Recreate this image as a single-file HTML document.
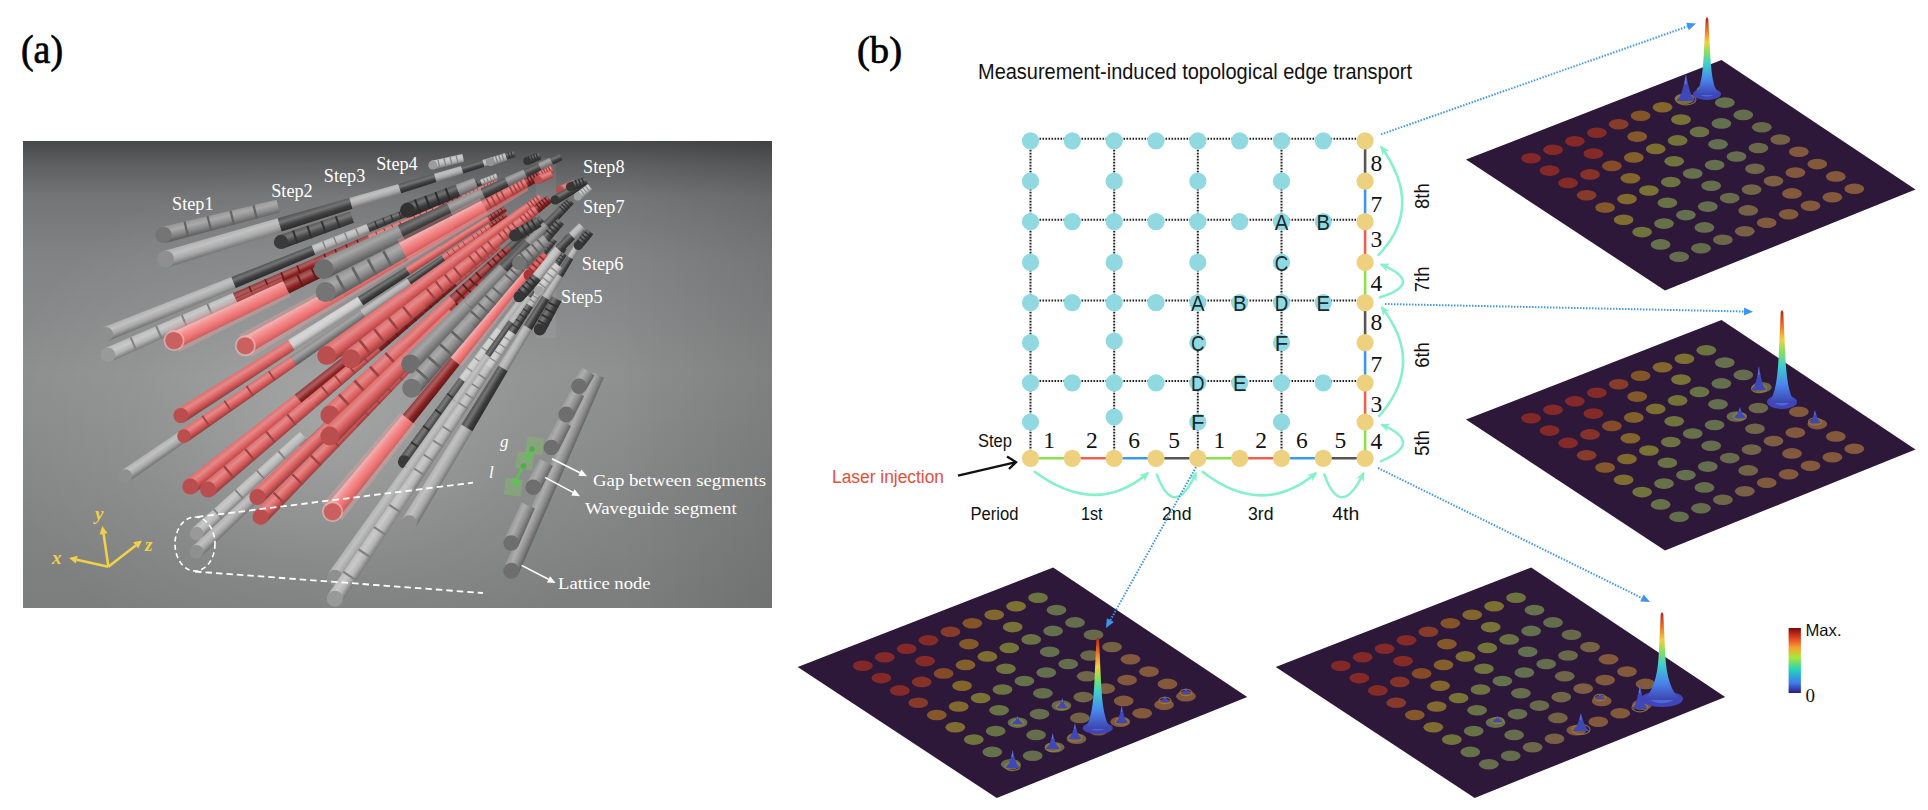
<!DOCTYPE html><html><head><meta charset="utf-8"><style>
html,body{margin:0;padding:0;background:#fff;width:1928px;height:810px;overflow:hidden}
svg{position:absolute;left:0;top:0}
.dot{stroke:#222;stroke-width:2;stroke-dasharray:1.6 1.4}
.lt{font-family:"Liberation Sans",sans-serif;font-size:21.5px;fill:#1a2a2e;text-anchor:middle}
.num{font-family:"Liberation Serif",serif;font-size:23.5px;fill:#111;text-anchor:middle}
.sans{font-family:"Liberation Sans",sans-serif}
.serif{font-family:"Liberation Serif",serif}
</style></head><body>
<svg width="1928" height="810" viewBox="0 0 1928 810">
<text x="21" y="63" class="serif" font-size="39" fill="#000" stroke="#000" stroke-width="0.7" textLength="42" lengthAdjust="spacingAndGlyphs">(a)</text>
<text x="857" y="63" class="serif" font-size="38" fill="#000" stroke="#000" stroke-width="0.7" textLength="45" lengthAdjust="spacingAndGlyphs">(b)</text>
<defs><linearGradient id="pg" x1="0" y1="0" x2="0" y2="1"><stop offset="0" stop-color="#47484a"/><stop offset="0.05" stop-color="#5e5f60"/><stop offset="0.12" stop-color="#747576"/><stop offset="0.25" stop-color="#828384"/><stop offset="0.5" stop-color="#8d8e8e"/><stop offset="1" stop-color="#7c7d7d"/></linearGradient></defs>
<rect x="23" y="141" width="749" height="467" fill="url(#pg)"/>
<defs><radialGradient id="spot" cx="330" cy="420" r="330" gradientUnits="userSpaceOnUse" gradientTransform="translate(330 420) scale(1 0.8) translate(-330 -420)"><stop offset="0" stop-color="#ffffff" stop-opacity="0.22"/><stop offset="0.6" stop-color="#ffffff" stop-opacity="0.06"/><stop offset="1" stop-color="#ffffff" stop-opacity="0"/></radialGradient><linearGradient id="rdark" x1="0" y1="0" x2="1" y2="0"><stop offset="0.8" stop-color="#000" stop-opacity="0"/><stop offset="1" stop-color="#000" stop-opacity="0.1"/></linearGradient></defs>
<rect x="23" y="141" width="749" height="467" fill="url(#spot)"/>
<rect x="23" y="141" width="749" height="467" fill="url(#rdark)"/>
<svg x="23" y="141" width="749" height="467" viewBox="23 141 749 467">
<rect x="536" y="158" width="20" height="180" fill="#ffffff" opacity="0.06"/>
<linearGradient id="c1" gradientUnits="userSpaceOnUse" x1="429.2" y1="417.8" x2="438.6" y2="424.6"><stop offset="0" stop-color="#5b5b5b"/><stop offset="0.3" stop-color="#797979"/><stop offset="0.65" stop-color="#454545"/><stop offset="1" stop-color="#303030"/></linearGradient>
<polygon points="399.1,458.0 459.2,377.6 467.6,383.7 409.7,465.6" fill="url(#c1)"/>
<line x1="411.1" y1="441.9" x2="421.2" y2="449.2" stroke="#313131" stroke-width="1.8"/>
<line x1="423.2" y1="425.8" x2="432.8" y2="432.8" stroke="#313131" stroke-width="1.8"/>
<line x1="435.2" y1="409.7" x2="444.4" y2="416.5" stroke="#313131" stroke-width="1.8"/>
<line x1="447.2" y1="393.6" x2="456.0" y2="400.1" stroke="#313131" stroke-width="1.8"/>
<linearGradient id="c2" gradientUnits="userSpaceOnUse" x1="478.0" y1="352.4" x2="485.7" y2="358.1"><stop offset="0" stop-color="#cbcbcb"/><stop offset="0.3" stop-color="#d4d4d4"/><stop offset="0.65" stop-color="#c4c4c4"/><stop offset="1" stop-color="#898989"/></linearGradient>
<polygon points="459.2,377.6 496.7,327.3 503.8,332.4 467.6,383.7" fill="url(#c2)"/>
<line x1="466.7" y1="367.5" x2="474.8" y2="373.4" stroke="#8d8d8d" stroke-width="1.4"/>
<line x1="474.2" y1="357.5" x2="482.1" y2="363.2" stroke="#8d8d8d" stroke-width="1.4"/>
<line x1="481.7" y1="347.4" x2="489.3" y2="352.9" stroke="#8d8d8d" stroke-width="1.4"/>
<line x1="489.2" y1="337.4" x2="496.5" y2="342.7" stroke="#8d8d8d" stroke-width="1.4"/>
<linearGradient id="c3" gradientUnits="userSpaceOnUse" x1="509.6" y1="310.1" x2="516.1" y2="314.9"><stop offset="0" stop-color="#b3b3b3"/><stop offset="0.3" stop-color="#c1c1c1"/><stop offset="0.65" stop-color="#a9a9a9"/><stop offset="1" stop-color="#767676"/></linearGradient>
<polygon points="496.7,327.3 522.4,292.9 528.5,297.4 503.8,332.4" fill="url(#c3)"/>
<linearGradient id="c4" gradientUnits="userSpaceOnUse" x1="531.8" y1="280.4" x2="537.5" y2="284.6"><stop offset="0" stop-color="#565656"/><stop offset="0.3" stop-color="#747474"/><stop offset="0.65" stop-color="#3f3f3f"/><stop offset="1" stop-color="#2c2c2c"/></linearGradient>
<polygon points="522.4,292.9 541.1,268.0 546.5,271.9 528.5,297.4" fill="url(#c4)"/>
<linearGradient id="c5" gradientUnits="userSpaceOnUse" x1="548.2" y1="258.5" x2="553.3" y2="262.2"><stop offset="0" stop-color="#b3b3b3"/><stop offset="0.3" stop-color="#c1c1c1"/><stop offset="0.65" stop-color="#a9a9a9"/><stop offset="1" stop-color="#767676"/></linearGradient>
<polygon points="541.1,268.0 555.3,249.0 560.2,252.5 546.5,271.9" fill="url(#c5)"/>
<linearGradient id="c6" gradientUnits="userSpaceOnUse" x1="560.9" y1="241.5" x2="565.5" y2="244.9"><stop offset="0" stop-color="#5b5b5b"/><stop offset="0.3" stop-color="#797979"/><stop offset="0.65" stop-color="#454545"/><stop offset="1" stop-color="#303030"/></linearGradient>
<polygon points="555.3,249.0 566.5,234.1 570.9,237.2 560.2,252.5" fill="url(#c6)"/>
<line x1="557.6" y1="246.0" x2="562.3" y2="249.4" stroke="#313131" stroke-width="1.0"/>
<line x1="559.8" y1="243.0" x2="564.5" y2="246.4" stroke="#313131" stroke-width="1.0"/>
<line x1="562.1" y1="240.0" x2="566.6" y2="243.3" stroke="#313131" stroke-width="1.0"/>
<line x1="564.3" y1="237.0" x2="568.8" y2="240.3" stroke="#313131" stroke-width="1.0"/>
<circle cx="404.4" cy="461.8" r="6.5" fill="#3a3a3a"/>
<linearGradient id="c7" gradientUnits="userSpaceOnUse" x1="183.5" y1="428.7" x2="190.4" y2="438.8"><stop offset="0" stop-color="#b3b3b3"/><stop offset="0.3" stop-color="#c1c1c1"/><stop offset="0.65" stop-color="#a9a9a9"/><stop offset="1" stop-color="#767676"/></linearGradient>
<polygon points="121.4,470.4 245.5,387.0 251.7,396.0 129.0,481.6" fill="url(#c7)"/>
<linearGradient id="c8" gradientUnits="userSpaceOnUse" x1="284.4" y1="361.0" x2="290.0" y2="369.3"><stop offset="0" stop-color="#993c3c"/><stop offset="0.3" stop-color="#ac5f5f"/><stop offset="0.65" stop-color="#8c2222"/><stop offset="1" stop-color="#621717"/></linearGradient>
<polygon points="245.5,387.0 323.2,335.0 328.3,342.5 251.7,396.0" fill="url(#c8)"/>
<linearGradient id="c9" gradientUnits="userSpaceOnUse" x1="349.7" y1="317.2" x2="354.5" y2="324.2"><stop offset="0" stop-color="#993c3c"/><stop offset="0.3" stop-color="#ac5f5f"/><stop offset="0.65" stop-color="#8c2222"/><stop offset="1" stop-color="#621717"/></linearGradient>
<polygon points="323.2,335.0 376.3,299.4 380.8,305.9 328.3,342.5" fill="url(#c9)"/>
<linearGradient id="c10" gradientUnits="userSpaceOnUse" x1="395.6" y1="286.4" x2="399.8" y2="292.6"><stop offset="0" stop-color="#993c3c"/><stop offset="0.3" stop-color="#ac5f5f"/><stop offset="0.65" stop-color="#8c2222"/><stop offset="1" stop-color="#621717"/></linearGradient>
<polygon points="376.3,299.4 414.9,273.5 418.9,279.2 380.8,305.9" fill="url(#c10)"/>
<circle cx="125.2" cy="476.0" r="6.8" fill="#8f8f8f"/>
<linearGradient id="c11" gradientUnits="userSpaceOnUse" x1="235.5" y1="393.4" x2="242.4" y2="403.5"><stop offset="0" stop-color="#df6f6f"/><stop offset="0.3" stop-color="#e58989"/><stop offset="0.65" stop-color="#db5c5c"/><stop offset="1" stop-color="#994040"/></linearGradient>
<polygon points="180.2,430.5 290.8,356.4 296.9,365.3 187.8,441.7" fill="url(#c11)"/>
<line x1="202.3" y1="415.7" x2="209.7" y2="426.4" stroke="#9d4242" stroke-width="1.8"/>
<line x1="224.4" y1="400.8" x2="231.5" y2="411.2" stroke="#9d4242" stroke-width="1.8"/>
<line x1="246.5" y1="386.0" x2="253.3" y2="395.9" stroke="#9d4242" stroke-width="1.8"/>
<line x1="268.6" y1="371.2" x2="275.1" y2="380.6" stroke="#9d4242" stroke-width="1.8"/>
<linearGradient id="c12" gradientUnits="userSpaceOnUse" x1="325.3" y1="333.2" x2="331.0" y2="341.5"><stop offset="0" stop-color="#919191"/><stop offset="0.3" stop-color="#a5a5a5"/><stop offset="0.65" stop-color="#828282"/><stop offset="1" stop-color="#5b5b5b"/></linearGradient>
<polygon points="290.8,356.4 359.9,310.1 365.1,317.6 296.9,365.3" fill="url(#c12)"/>
<linearGradient id="c13" gradientUnits="userSpaceOnUse" x1="383.6" y1="294.2" x2="388.4" y2="301.2"><stop offset="0" stop-color="#b3b3b3"/><stop offset="0.3" stop-color="#c1c1c1"/><stop offset="0.65" stop-color="#a9a9a9"/><stop offset="1" stop-color="#767676"/></linearGradient>
<polygon points="359.9,310.1 407.2,278.4 411.7,284.9 365.1,317.6" fill="url(#c13)"/>
<linearGradient id="c14" gradientUnits="userSpaceOnUse" x1="424.5" y1="266.9" x2="428.7" y2="273.0"><stop offset="0" stop-color="#565656"/><stop offset="0.3" stop-color="#747474"/><stop offset="0.65" stop-color="#3f3f3f"/><stop offset="1" stop-color="#2c2c2c"/></linearGradient>
<polygon points="407.2,278.4 441.7,255.4 445.6,261.1 411.7,284.9" fill="url(#c14)"/>
<linearGradient id="c15" gradientUnits="userSpaceOnUse" x1="454.8" y1="246.6" x2="458.5" y2="252.1"><stop offset="0" stop-color="#df6f6f"/><stop offset="0.3" stop-color="#e58989"/><stop offset="0.65" stop-color="#db5c5c"/><stop offset="1" stop-color="#994040"/></linearGradient>
<polygon points="441.7,255.4 467.8,237.9 471.4,243.0 445.6,261.1" fill="url(#c15)"/>
<line x1="446.9" y1="251.9" x2="450.8" y2="257.5" stroke="#9d4242" stroke-width="1.0"/>
<line x1="452.1" y1="248.4" x2="455.9" y2="253.9" stroke="#9d4242" stroke-width="1.0"/>
<line x1="457.4" y1="244.9" x2="461.1" y2="250.2" stroke="#9d4242" stroke-width="1.0"/>
<line x1="462.6" y1="241.4" x2="466.2" y2="246.6" stroke="#9d4242" stroke-width="1.0"/>
<linearGradient id="c16" gradientUnits="userSpaceOnUse" x1="478.1" y1="231.0" x2="481.5" y2="235.9"><stop offset="0" stop-color="#df6f6f"/><stop offset="0.3" stop-color="#e58989"/><stop offset="0.65" stop-color="#db5c5c"/><stop offset="1" stop-color="#994040"/></linearGradient>
<polygon points="467.8,237.9 488.4,224.1 491.6,228.8 471.4,243.0" fill="url(#c16)"/>
<line x1="471.9" y1="235.1" x2="475.4" y2="240.2" stroke="#9d4242" stroke-width="1.0"/>
<line x1="476.1" y1="232.4" x2="479.5" y2="237.3" stroke="#9d4242" stroke-width="1.0"/>
<line x1="480.2" y1="229.6" x2="483.5" y2="234.5" stroke="#9d4242" stroke-width="1.0"/>
<line x1="484.3" y1="226.9" x2="487.6" y2="231.6" stroke="#9d4242" stroke-width="1.0"/>
<linearGradient id="c17" gradientUnits="userSpaceOnUse" x1="496.7" y1="218.6" x2="499.8" y2="223.1"><stop offset="0" stop-color="#993c3c"/><stop offset="0.3" stop-color="#ac5f5f"/><stop offset="0.65" stop-color="#8c2222"/><stop offset="1" stop-color="#621717"/></linearGradient>
<polygon points="488.4,224.1 505.0,213.0 507.9,217.3 491.6,228.8" fill="url(#c17)"/>
<line x1="491.7" y1="221.9" x2="494.9" y2="226.5" stroke="#641818" stroke-width="1.0"/>
<line x1="495.0" y1="219.7" x2="498.1" y2="224.2" stroke="#641818" stroke-width="1.0"/>
<line x1="498.3" y1="217.5" x2="501.4" y2="221.9" stroke="#641818" stroke-width="1.0"/>
<line x1="501.7" y1="215.3" x2="504.7" y2="219.6" stroke="#641818" stroke-width="1.0"/>
<circle cx="184.0" cy="436.1" r="6.8" fill="#ba4e4e"/>
<linearGradient id="c18" gradientUnits="userSpaceOnUse" x1="245.9" y1="480.2" x2="254.2" y2="489.2"><stop offset="0" stop-color="#bdbdbd"/><stop offset="0.3" stop-color="#c9c9c9"/><stop offset="0.65" stop-color="#b4b4b4"/><stop offset="1" stop-color="#7d7d7d"/></linearGradient>
<polygon points="192.0,528.6 299.9,431.8 307.2,439.9 201.2,538.6" fill="url(#c18)"/>
<line x1="213.6" y1="509.2" x2="222.4" y2="518.9" stroke="#818181" stroke-width="1.8"/>
<line x1="235.2" y1="489.9" x2="243.6" y2="499.1" stroke="#818181" stroke-width="1.8"/>
<line x1="256.7" y1="470.5" x2="264.8" y2="479.4" stroke="#818181" stroke-width="1.8"/>
<line x1="278.3" y1="451.2" x2="286.0" y2="459.6" stroke="#818181" stroke-width="1.8"/>
<circle cx="196.6" cy="533.6" r="6.8" fill="#999999"/>
<linearGradient id="c19" gradientUnits="userSpaceOnUse" x1="245.8" y1="496.4" x2="254.3" y2="505.3"><stop offset="0" stop-color="#b3b3b3"/><stop offset="0.3" stop-color="#c1c1c1"/><stop offset="0.65" stop-color="#a9a9a9"/><stop offset="1" stop-color="#767676"/></linearGradient>
<polygon points="191.9,546.9 299.8,445.9 307.3,453.8 201.3,556.7" fill="url(#c19)"/>
<linearGradient id="c20" gradientUnits="userSpaceOnUse" x1="333.5" y1="414.4" x2="340.4" y2="421.6"><stop offset="0" stop-color="#565656"/><stop offset="0.3" stop-color="#747474"/><stop offset="0.65" stop-color="#3f3f3f"/><stop offset="1" stop-color="#2c2c2c"/></linearGradient>
<polygon points="299.8,445.9 367.2,382.8 373.5,389.4 307.3,453.8" fill="url(#c20)"/>
<linearGradient id="c21" gradientUnits="userSpaceOnUse" x1="390.3" y1="361.2" x2="396.2" y2="367.4"><stop offset="0" stop-color="#b3b3b3"/><stop offset="0.3" stop-color="#c1c1c1"/><stop offset="0.65" stop-color="#a9a9a9"/><stop offset="1" stop-color="#767676"/></linearGradient>
<polygon points="367.2,382.8 413.4,339.7 418.8,345.4 373.5,389.4" fill="url(#c21)"/>
<linearGradient id="c22" gradientUnits="userSpaceOnUse" x1="430.2" y1="324.0" x2="435.3" y2="329.4"><stop offset="0" stop-color="#565656"/><stop offset="0.3" stop-color="#747474"/><stop offset="0.65" stop-color="#3f3f3f"/><stop offset="1" stop-color="#2c2c2c"/></linearGradient>
<polygon points="413.4,339.7 447.0,308.3 451.8,313.3 418.8,345.4" fill="url(#c22)"/>
<linearGradient id="c23" gradientUnits="userSpaceOnUse" x1="459.7" y1="296.4" x2="464.3" y2="301.2"><stop offset="0" stop-color="#b3b3b3"/><stop offset="0.3" stop-color="#c1c1c1"/><stop offset="0.65" stop-color="#a9a9a9"/><stop offset="1" stop-color="#767676"/></linearGradient>
<polygon points="447.0,308.3 472.5,284.5 476.8,289.0 451.8,313.3" fill="url(#c23)"/>
<linearGradient id="c24" gradientUnits="userSpaceOnUse" x1="482.5" y1="275.1" x2="486.6" y2="279.4"><stop offset="0" stop-color="#565656"/><stop offset="0.3" stop-color="#747474"/><stop offset="0.65" stop-color="#3f3f3f"/><stop offset="1" stop-color="#2c2c2c"/></linearGradient>
<polygon points="472.5,284.5 492.5,265.7 496.5,269.8 476.8,289.0" fill="url(#c24)"/>
<linearGradient id="c25" gradientUnits="userSpaceOnUse" x1="500.6" y1="258.2" x2="504.4" y2="262.1"><stop offset="0" stop-color="#b3b3b3"/><stop offset="0.3" stop-color="#c1c1c1"/><stop offset="0.65" stop-color="#a9a9a9"/><stop offset="1" stop-color="#767676"/></linearGradient>
<polygon points="492.5,265.7 508.7,250.6 512.3,254.4 496.5,269.8" fill="url(#c25)"/>
<circle cx="196.6" cy="551.8" r="6.8" fill="#8f8f8f"/>
<linearGradient id="c26" gradientUnits="userSpaceOnUse" x1="167.2" y1="302.3" x2="172.1" y2="314.5"><stop offset="0" stop-color="#b3b3b3"/><stop offset="0.3" stop-color="#c1c1c1"/><stop offset="0.65" stop-color="#a9a9a9"/><stop offset="1" stop-color="#767676"/></linearGradient>
<polygon points="103.0,327.5 231.4,277.1 235.8,288.0 108.4,341.1" fill="url(#c26)"/>
<linearGradient id="c27" gradientUnits="userSpaceOnUse" x1="271.6" y1="261.4" x2="275.6" y2="271.3"><stop offset="0" stop-color="#565656"/><stop offset="0.3" stop-color="#747474"/><stop offset="0.65" stop-color="#3f3f3f"/><stop offset="1" stop-color="#2c2c2c"/></linearGradient>
<polygon points="231.4,277.1 311.7,245.6 315.4,254.7 235.8,288.0" fill="url(#c27)"/>
<linearGradient id="c28" gradientUnits="userSpaceOnUse" x1="339.2" y1="234.9" x2="342.6" y2="243.3"><stop offset="0" stop-color="#bdbdbd"/><stop offset="0.3" stop-color="#c9c9c9"/><stop offset="0.65" stop-color="#b4b4b4"/><stop offset="1" stop-color="#7d7d7d"/></linearGradient>
<polygon points="311.7,245.6 366.7,224.1 369.9,232.0 315.4,254.7" fill="url(#c28)"/>
<line x1="322.7" y1="241.3" x2="326.3" y2="250.2" stroke="#818181" stroke-width="1.4"/>
<line x1="333.7" y1="237.0" x2="337.2" y2="245.6" stroke="#818181" stroke-width="1.4"/>
<line x1="344.7" y1="232.7" x2="348.1" y2="241.1" stroke="#818181" stroke-width="1.4"/>
<line x1="355.7" y1="228.4" x2="359.0" y2="236.5" stroke="#818181" stroke-width="1.4"/>
<linearGradient id="c29" gradientUnits="userSpaceOnUse" x1="386.7" y1="216.3" x2="389.6" y2="223.7"><stop offset="0" stop-color="#5b5b5b"/><stop offset="0.3" stop-color="#797979"/><stop offset="0.65" stop-color="#454545"/><stop offset="1" stop-color="#303030"/></linearGradient>
<polygon points="366.7,224.1 406.6,208.5 409.4,215.4 369.9,232.0" fill="url(#c29)"/>
<line x1="374.7" y1="221.0" x2="377.8" y2="228.7" stroke="#313131" stroke-width="1.2"/>
<line x1="382.7" y1="217.9" x2="385.7" y2="225.4" stroke="#313131" stroke-width="1.2"/>
<line x1="390.7" y1="214.7" x2="393.6" y2="222.0" stroke="#313131" stroke-width="1.2"/>
<line x1="398.7" y1="211.6" x2="401.5" y2="218.7" stroke="#313131" stroke-width="1.2"/>
<linearGradient id="c30" gradientUnits="userSpaceOnUse" x1="421.8" y1="202.6" x2="424.5" y2="209.1"><stop offset="0" stop-color="#5b5b5b"/><stop offset="0.3" stop-color="#797979"/><stop offset="0.65" stop-color="#454545"/><stop offset="1" stop-color="#303030"/></linearGradient>
<polygon points="406.6,208.5 437.0,196.6 439.5,202.8 409.4,215.4" fill="url(#c30)"/>
<line x1="412.7" y1="206.1" x2="415.5" y2="212.9" stroke="#313131" stroke-width="1.1"/>
<line x1="418.8" y1="203.7" x2="421.5" y2="210.4" stroke="#313131" stroke-width="1.1"/>
<line x1="424.9" y1="201.4" x2="427.5" y2="207.9" stroke="#313131" stroke-width="1.1"/>
<line x1="430.9" y1="199.0" x2="433.5" y2="205.3" stroke="#313131" stroke-width="1.1"/>
<linearGradient id="c31" gradientUnits="userSpaceOnUse" x1="449.0" y1="192.0" x2="451.4" y2="197.9"><stop offset="0" stop-color="#919191"/><stop offset="0.3" stop-color="#a5a5a5"/><stop offset="0.65" stop-color="#828282"/><stop offset="1" stop-color="#5b5b5b"/></linearGradient>
<polygon points="437.0,196.6 460.9,187.3 463.2,192.9 439.5,202.8" fill="url(#c31)"/>
<linearGradient id="c32" gradientUnits="userSpaceOnUse" x1="470.5" y1="183.5" x2="472.7" y2="188.9"><stop offset="0" stop-color="#5b5b5b"/><stop offset="0.3" stop-color="#797979"/><stop offset="0.65" stop-color="#454545"/><stop offset="1" stop-color="#303030"/></linearGradient>
<polygon points="460.9,187.3 480.1,179.8 482.2,184.9 463.2,192.9" fill="url(#c32)"/>
<line x1="464.7" y1="185.8" x2="467.0" y2="191.3" stroke="#313131" stroke-width="1.0"/>
<line x1="468.6" y1="184.3" x2="470.8" y2="189.7" stroke="#313131" stroke-width="1.0"/>
<line x1="472.4" y1="182.8" x2="474.6" y2="188.1" stroke="#313131" stroke-width="1.0"/>
<line x1="476.3" y1="181.3" x2="478.4" y2="186.5" stroke="#313131" stroke-width="1.0"/>
<linearGradient id="c33" gradientUnits="userSpaceOnUse" x1="488.1" y1="176.7" x2="490.1" y2="181.7"><stop offset="0" stop-color="#bdbdbd"/><stop offset="0.3" stop-color="#c9c9c9"/><stop offset="0.65" stop-color="#b4b4b4"/><stop offset="1" stop-color="#7d7d7d"/></linearGradient>
<polygon points="480.1,179.8 496.0,173.6 497.9,178.4 482.2,184.9" fill="url(#c33)"/>
<line x1="483.3" y1="178.5" x2="485.4" y2="183.6" stroke="#818181" stroke-width="1.0"/>
<line x1="486.5" y1="177.3" x2="488.5" y2="182.3" stroke="#818181" stroke-width="1.0"/>
<line x1="489.7" y1="176.1" x2="491.7" y2="181.0" stroke="#818181" stroke-width="1.0"/>
<line x1="492.8" y1="174.8" x2="494.8" y2="179.7" stroke="#818181" stroke-width="1.0"/>
<circle cx="105.7" cy="334.3" r="7.3" fill="#8f8f8f"/>
<linearGradient id="c34" gradientUnits="userSpaceOnUse" x1="169.0" y1="320.7" x2="174.4" y2="332.7"><stop offset="0" stop-color="#bdbdbd"/><stop offset="0.3" stop-color="#c9c9c9"/><stop offset="0.65" stop-color="#b4b4b4"/><stop offset="1" stop-color="#7d7d7d"/></linearGradient>
<polygon points="105.0,348.3 233.0,293.1 237.8,303.8 111.0,361.7" fill="url(#c34)"/>
<line x1="130.6" y1="337.3" x2="136.3" y2="350.1" stroke="#818181" stroke-width="2.0"/>
<line x1="156.2" y1="326.2" x2="161.7" y2="338.5" stroke="#818181" stroke-width="2.0"/>
<line x1="181.8" y1="315.2" x2="187.0" y2="326.9" stroke="#818181" stroke-width="2.0"/>
<line x1="207.4" y1="304.2" x2="212.4" y2="315.4" stroke="#818181" stroke-width="2.0"/>
<linearGradient id="c35" gradientUnits="userSpaceOnUse" x1="273.0" y1="275.9" x2="277.4" y2="285.7"><stop offset="0" stop-color="#993c3c"/><stop offset="0.3" stop-color="#ac5f5f"/><stop offset="0.65" stop-color="#8c2222"/><stop offset="1" stop-color="#621717"/></linearGradient>
<polygon points="233.0,293.1 313.0,258.7 317.0,267.6 237.8,303.8" fill="url(#c35)"/>
<line x1="249.0" y1="286.2" x2="253.6" y2="296.6" stroke="#641818" stroke-width="1.6"/>
<line x1="265.0" y1="279.3" x2="269.4" y2="289.3" stroke="#641818" stroke-width="1.6"/>
<line x1="281.0" y1="272.4" x2="285.3" y2="282.1" stroke="#641818" stroke-width="1.6"/>
<line x1="297.0" y1="265.5" x2="301.1" y2="274.8" stroke="#641818" stroke-width="1.6"/>
<linearGradient id="c36" gradientUnits="userSpaceOnUse" x1="340.4" y1="246.9" x2="344.1" y2="255.2"><stop offset="0" stop-color="#993c3c"/><stop offset="0.3" stop-color="#ac5f5f"/><stop offset="0.65" stop-color="#8c2222"/><stop offset="1" stop-color="#621717"/></linearGradient>
<polygon points="313.0,258.7 367.8,235.1 371.2,242.8 317.0,267.6" fill="url(#c36)"/>
<line x1="324.0" y1="253.9" x2="327.8" y2="262.6" stroke="#641818" stroke-width="1.4"/>
<line x1="334.9" y1="249.2" x2="338.7" y2="257.7" stroke="#641818" stroke-width="1.4"/>
<line x1="345.9" y1="244.5" x2="349.5" y2="252.7" stroke="#641818" stroke-width="1.4"/>
<line x1="356.8" y1="239.8" x2="360.3" y2="247.8" stroke="#641818" stroke-width="1.4"/>
<linearGradient id="c37" gradientUnits="userSpaceOnUse" x1="387.7" y1="226.5" x2="390.9" y2="233.8"><stop offset="0" stop-color="#df6f6f"/><stop offset="0.3" stop-color="#e58989"/><stop offset="0.65" stop-color="#db5c5c"/><stop offset="1" stop-color="#994040"/></linearGradient>
<polygon points="367.8,235.1 407.6,217.9 410.6,224.8 371.2,242.8" fill="url(#c37)"/>
<line x1="375.7" y1="231.7" x2="379.1" y2="239.2" stroke="#9d4242" stroke-width="1.2"/>
<line x1="383.7" y1="228.2" x2="387.0" y2="235.6" stroke="#9d4242" stroke-width="1.2"/>
<line x1="391.6" y1="224.8" x2="394.8" y2="232.0" stroke="#9d4242" stroke-width="1.2"/>
<line x1="399.6" y1="221.4" x2="402.7" y2="228.4" stroke="#9d4242" stroke-width="1.2"/>
<linearGradient id="c38" gradientUnits="userSpaceOnUse" x1="422.7" y1="211.4" x2="425.6" y2="217.9"><stop offset="0" stop-color="#df6f6f"/><stop offset="0.3" stop-color="#e58989"/><stop offset="0.65" stop-color="#db5c5c"/><stop offset="1" stop-color="#994040"/></linearGradient>
<polygon points="407.6,217.9 437.8,204.9 440.6,211.1 410.6,224.8" fill="url(#c38)"/>
<line x1="413.6" y1="215.3" x2="416.6" y2="222.0" stroke="#9d4242" stroke-width="1.1"/>
<line x1="419.7" y1="212.7" x2="422.6" y2="219.3" stroke="#9d4242" stroke-width="1.1"/>
<line x1="425.7" y1="210.1" x2="428.6" y2="216.5" stroke="#9d4242" stroke-width="1.1"/>
<line x1="431.8" y1="207.5" x2="434.6" y2="213.8" stroke="#9d4242" stroke-width="1.1"/>
<linearGradient id="c39" gradientUnits="userSpaceOnUse" x1="449.7" y1="199.8" x2="452.3" y2="205.7"><stop offset="0" stop-color="#993c3c"/><stop offset="0.3" stop-color="#ac5f5f"/><stop offset="0.65" stop-color="#8c2222"/><stop offset="1" stop-color="#621717"/></linearGradient>
<polygon points="437.8,204.9 461.6,194.7 464.1,200.3 440.6,211.1" fill="url(#c39)"/>
<line x1="442.6" y1="202.9" x2="445.3" y2="208.9" stroke="#641818" stroke-width="1.0"/>
<line x1="447.4" y1="200.9" x2="450.0" y2="206.7" stroke="#641818" stroke-width="1.0"/>
<line x1="452.1" y1="198.8" x2="454.7" y2="204.6" stroke="#641818" stroke-width="1.0"/>
<line x1="456.9" y1="196.8" x2="459.4" y2="202.4" stroke="#641818" stroke-width="1.0"/>
<linearGradient id="c40" gradientUnits="userSpaceOnUse" x1="471.2" y1="190.6" x2="473.6" y2="195.9"><stop offset="0" stop-color="#df6f6f"/><stop offset="0.3" stop-color="#e58989"/><stop offset="0.65" stop-color="#db5c5c"/><stop offset="1" stop-color="#994040"/></linearGradient>
<polygon points="461.6,194.7 480.8,186.5 483.1,191.6 464.1,200.3" fill="url(#c40)"/>
<line x1="465.5" y1="193.1" x2="467.9" y2="198.5" stroke="#9d4242" stroke-width="1.0"/>
<line x1="469.3" y1="191.4" x2="471.7" y2="196.8" stroke="#9d4242" stroke-width="1.0"/>
<line x1="473.1" y1="189.8" x2="475.5" y2="195.1" stroke="#9d4242" stroke-width="1.0"/>
<line x1="477.0" y1="188.1" x2="479.3" y2="193.3" stroke="#9d4242" stroke-width="1.0"/>
<linearGradient id="c41" gradientUnits="userSpaceOnUse" x1="488.7" y1="183.1" x2="490.9" y2="188.0"><stop offset="0" stop-color="#df6f6f"/><stop offset="0.3" stop-color="#e58989"/><stop offset="0.65" stop-color="#db5c5c"/><stop offset="1" stop-color="#994040"/></linearGradient>
<polygon points="480.8,186.5 496.6,179.7 498.7,184.4 483.1,191.6" fill="url(#c41)"/>
<line x1="484.0" y1="185.1" x2="486.2" y2="190.1" stroke="#9d4242" stroke-width="1.0"/>
<line x1="487.1" y1="183.8" x2="489.3" y2="188.7" stroke="#9d4242" stroke-width="1.0"/>
<line x1="490.3" y1="182.4" x2="492.4" y2="187.3" stroke="#9d4242" stroke-width="1.0"/>
<line x1="493.4" y1="181.1" x2="495.6" y2="185.8" stroke="#9d4242" stroke-width="1.0"/>
<circle cx="108.0" cy="355.0" r="7.3" fill="#999999"/>
<linearGradient id="c42" gradientUnits="userSpaceOnUse" x1="232.6" y1="374.6" x2="239.8" y2="386.0"><stop offset="0" stop-color="#df6f6f"/><stop offset="0.3" stop-color="#e58989"/><stop offset="0.65" stop-color="#db5c5c"/><stop offset="1" stop-color="#994040"/></linearGradient>
<polygon points="176.9,409.3 288.2,340.0 294.7,350.1 184.9,421.9" fill="url(#c42)"/>
<linearGradient id="c43" gradientUnits="userSpaceOnUse" x1="323.0" y1="318.4" x2="329.0" y2="327.7"><stop offset="0" stop-color="#cecece"/><stop offset="0.3" stop-color="#d7d7d7"/><stop offset="0.65" stop-color="#c8c8c8"/><stop offset="1" stop-color="#8c8c8c"/></linearGradient>
<polygon points="288.2,340.0 357.9,296.8 363.3,305.2 294.7,350.1" fill="url(#c43)"/>
<linearGradient id="c44" gradientUnits="userSpaceOnUse" x1="381.7" y1="282.0" x2="386.7" y2="289.9"><stop offset="0" stop-color="#565656"/><stop offset="0.3" stop-color="#747474"/><stop offset="0.65" stop-color="#3f3f3f"/><stop offset="1" stop-color="#2c2c2c"/></linearGradient>
<polygon points="357.9,296.8 405.5,267.2 410.2,274.5 363.3,305.2" fill="url(#c44)"/>
<linearGradient id="c45" gradientUnits="userSpaceOnUse" x1="422.8" y1="256.4" x2="427.2" y2="263.3"><stop offset="0" stop-color="#df6f6f"/><stop offset="0.3" stop-color="#e58989"/><stop offset="0.65" stop-color="#db5c5c"/><stop offset="1" stop-color="#994040"/></linearGradient>
<polygon points="405.5,267.2 440.2,245.7 444.3,252.1 410.2,274.5" fill="url(#c45)"/>
<linearGradient id="c46" gradientUnits="userSpaceOnUse" x1="453.3" y1="237.5" x2="457.3" y2="243.6"><stop offset="0" stop-color="#df6f6f"/><stop offset="0.3" stop-color="#e58989"/><stop offset="0.65" stop-color="#db5c5c"/><stop offset="1" stop-color="#994040"/></linearGradient>
<polygon points="440.2,245.7 466.5,229.3 470.2,235.1 444.3,252.1" fill="url(#c46)"/>
<linearGradient id="c47" gradientUnits="userSpaceOnUse" x1="476.9" y1="222.9" x2="480.4" y2="228.5"><stop offset="0" stop-color="#df6f6f"/><stop offset="0.3" stop-color="#e58989"/><stop offset="0.65" stop-color="#db5c5c"/><stop offset="1" stop-color="#994040"/></linearGradient>
<polygon points="466.5,229.3 487.2,216.5 490.6,221.8 470.2,235.1" fill="url(#c47)"/>
<linearGradient id="c48" gradientUnits="userSpaceOnUse" x1="495.6" y1="211.3" x2="498.8" y2="216.4"><stop offset="0" stop-color="#993c3c"/><stop offset="0.3" stop-color="#ac5f5f"/><stop offset="0.65" stop-color="#8c2222"/><stop offset="1" stop-color="#621717"/></linearGradient>
<polygon points="487.2,216.5 503.9,206.2 507.0,211.0 490.6,221.8" fill="url(#c48)"/>
<line x1="490.6" y1="214.4" x2="493.9" y2="219.6" stroke="#641818" stroke-width="1.0"/>
<line x1="493.9" y1="212.4" x2="497.1" y2="217.5" stroke="#641818" stroke-width="1.0"/>
<line x1="497.2" y1="210.3" x2="500.4" y2="215.3" stroke="#641818" stroke-width="1.0"/>
<line x1="500.6" y1="208.2" x2="503.7" y2="213.2" stroke="#641818" stroke-width="1.0"/>
<circle cx="180.9" cy="415.6" r="7.5" fill="#ba4e4e"/>
<linearGradient id="c49" gradientUnits="userSpaceOnUse" x1="240.0" y1="437.4" x2="249.0" y2="448.7"><stop offset="0" stop-color="#df6f6f"/><stop offset="0.3" stop-color="#e58989"/><stop offset="0.65" stop-color="#db5c5c"/><stop offset="1" stop-color="#994040"/></linearGradient>
<polygon points="185.3,480.3 294.7,394.6 302.7,404.6 195.3,492.7" fill="url(#c49)"/>
<linearGradient id="c50" gradientUnits="userSpaceOnUse" x1="328.9" y1="367.9" x2="336.2" y2="377.1"><stop offset="0" stop-color="#993c3c"/><stop offset="0.3" stop-color="#ac5f5f"/><stop offset="0.65" stop-color="#8c2222"/><stop offset="1" stop-color="#621717"/></linearGradient>
<polygon points="294.7,394.6 363.1,341.1 369.8,349.5 302.7,404.6" fill="url(#c50)"/>
<linearGradient id="c51" gradientUnits="userSpaceOnUse" x1="386.5" y1="322.8" x2="392.7" y2="330.6"><stop offset="0" stop-color="#993c3c"/><stop offset="0.3" stop-color="#ac5f5f"/><stop offset="0.65" stop-color="#8c2222"/><stop offset="1" stop-color="#621717"/></linearGradient>
<polygon points="363.1,341.1 409.9,304.5 415.7,311.8 369.8,349.5" fill="url(#c51)"/>
<linearGradient id="c52" gradientUnits="userSpaceOnUse" x1="426.9" y1="291.2" x2="432.4" y2="298.1"><stop offset="0" stop-color="#df6f6f"/><stop offset="0.3" stop-color="#e58989"/><stop offset="0.65" stop-color="#db5c5c"/><stop offset="1" stop-color="#994040"/></linearGradient>
<polygon points="409.9,304.5 443.9,277.9 449.1,284.3 415.7,311.8" fill="url(#c52)"/>
<linearGradient id="c53" gradientUnits="userSpaceOnUse" x1="456.9" y1="267.8" x2="461.7" y2="273.9"><stop offset="0" stop-color="#df6f6f"/><stop offset="0.3" stop-color="#e58989"/><stop offset="0.65" stop-color="#db5c5c"/><stop offset="1" stop-color="#994040"/></linearGradient>
<polygon points="443.9,277.9 469.8,257.7 474.4,263.5 449.1,284.3" fill="url(#c53)"/>
<linearGradient id="c54" gradientUnits="userSpaceOnUse" x1="480.0" y1="249.8" x2="484.4" y2="255.3"><stop offset="0" stop-color="#df6f6f"/><stop offset="0.3" stop-color="#e58989"/><stop offset="0.65" stop-color="#db5c5c"/><stop offset="1" stop-color="#994040"/></linearGradient>
<polygon points="469.8,257.7 490.2,241.9 494.3,247.1 474.4,263.5" fill="url(#c54)"/>
<line x1="473.9" y1="254.6" x2="478.4" y2="260.2" stroke="#9d4242" stroke-width="1.1"/>
<line x1="478.0" y1="251.4" x2="482.4" y2="256.9" stroke="#9d4242" stroke-width="1.1"/>
<line x1="482.0" y1="248.2" x2="486.4" y2="253.6" stroke="#9d4242" stroke-width="1.1"/>
<line x1="486.1" y1="245.0" x2="490.4" y2="250.3" stroke="#9d4242" stroke-width="1.1"/>
<circle cx="190.3" cy="486.5" r="8.0" fill="#ba4e4e"/>
<linearGradient id="c55" gradientUnits="userSpaceOnUse" x1="255.6" y1="440.3" x2="264.9" y2="451.3"><stop offset="0" stop-color="#df6f6f"/><stop offset="0.3" stop-color="#e58989"/><stop offset="0.65" stop-color="#db5c5c"/><stop offset="1" stop-color="#994040"/></linearGradient>
<polygon points="203.0,483.5 308.3,397.1 316.5,406.9 213.2,495.7" fill="url(#c55)"/>
<line x1="224.0" y1="466.2" x2="233.9" y2="478.0" stroke="#9d4242" stroke-width="2.2"/>
<line x1="245.1" y1="448.9" x2="254.5" y2="460.2" stroke="#9d4242" stroke-width="2.2"/>
<line x1="266.1" y1="431.6" x2="275.2" y2="442.4" stroke="#9d4242" stroke-width="2.2"/>
<line x1="287.2" y1="414.4" x2="295.9" y2="424.7" stroke="#9d4242" stroke-width="2.2"/>
<linearGradient id="c56" gradientUnits="userSpaceOnUse" x1="341.2" y1="370.1" x2="348.8" y2="379.1"><stop offset="0" stop-color="#df6f6f"/><stop offset="0.3" stop-color="#e58989"/><stop offset="0.65" stop-color="#db5c5c"/><stop offset="1" stop-color="#994040"/></linearGradient>
<polygon points="308.3,397.1 374.1,343.1 381.0,351.4 316.5,406.9" fill="url(#c56)"/>
<line x1="321.4" y1="386.3" x2="329.4" y2="395.8" stroke="#9d4242" stroke-width="1.8"/>
<line x1="334.6" y1="375.5" x2="342.3" y2="384.7" stroke="#9d4242" stroke-width="1.8"/>
<line x1="347.8" y1="364.7" x2="355.2" y2="373.6" stroke="#9d4242" stroke-width="1.8"/>
<line x1="360.9" y1="353.9" x2="368.1" y2="362.5" stroke="#9d4242" stroke-width="1.8"/>
<linearGradient id="c57" gradientUnits="userSpaceOnUse" x1="396.6" y1="324.7" x2="403.1" y2="332.3"><stop offset="0" stop-color="#993c3c"/><stop offset="0.3" stop-color="#ac5f5f"/><stop offset="0.65" stop-color="#8c2222"/><stop offset="1" stop-color="#621717"/></linearGradient>
<polygon points="374.1,343.1 419.2,306.2 425.1,313.3 381.0,351.4" fill="url(#c57)"/>
<line x1="383.1" y1="335.8" x2="389.8" y2="343.8" stroke="#641818" stroke-width="1.5"/>
<line x1="392.1" y1="328.4" x2="398.7" y2="336.2" stroke="#641818" stroke-width="1.5"/>
<line x1="401.2" y1="321.0" x2="407.5" y2="328.5" stroke="#641818" stroke-width="1.5"/>
<line x1="410.2" y1="313.6" x2="416.3" y2="320.9" stroke="#641818" stroke-width="1.5"/>
<linearGradient id="c58" gradientUnits="userSpaceOnUse" x1="435.6" y1="292.8" x2="441.2" y2="299.5"><stop offset="0" stop-color="#993c3c"/><stop offset="0.3" stop-color="#ac5f5f"/><stop offset="0.65" stop-color="#8c2222"/><stop offset="1" stop-color="#621717"/></linearGradient>
<polygon points="419.2,306.2 452.0,279.4 457.2,285.7 425.1,313.3" fill="url(#c58)"/>
<line x1="425.7" y1="300.9" x2="431.6" y2="307.8" stroke="#641818" stroke-width="1.3"/>
<line x1="432.3" y1="295.5" x2="438.0" y2="302.3" stroke="#641818" stroke-width="1.3"/>
<line x1="438.8" y1="290.1" x2="444.4" y2="296.7" stroke="#641818" stroke-width="1.3"/>
<line x1="445.4" y1="284.8" x2="450.8" y2="291.2" stroke="#641818" stroke-width="1.3"/>
<linearGradient id="c59" gradientUnits="userSpaceOnUse" x1="464.4" y1="269.2" x2="469.4" y2="275.2"><stop offset="0" stop-color="#df6f6f"/><stop offset="0.3" stop-color="#e58989"/><stop offset="0.65" stop-color="#db5c5c"/><stop offset="1" stop-color="#994040"/></linearGradient>
<polygon points="452.0,279.4 476.9,259.0 481.6,264.7 457.2,285.7" fill="url(#c59)"/>
<line x1="456.9" y1="275.3" x2="462.1" y2="281.5" stroke="#9d4242" stroke-width="1.2"/>
<line x1="461.9" y1="271.3" x2="467.0" y2="277.3" stroke="#9d4242" stroke-width="1.2"/>
<line x1="466.9" y1="267.2" x2="471.9" y2="273.1" stroke="#9d4242" stroke-width="1.2"/>
<line x1="471.9" y1="263.1" x2="476.7" y2="268.9" stroke="#9d4242" stroke-width="1.2"/>
<linearGradient id="c60" gradientUnits="userSpaceOnUse" x1="486.7" y1="251.0" x2="491.2" y2="256.4"><stop offset="0" stop-color="#df6f6f"/><stop offset="0.3" stop-color="#e58989"/><stop offset="0.65" stop-color="#db5c5c"/><stop offset="1" stop-color="#994040"/></linearGradient>
<polygon points="476.9,259.0 496.5,243.0 500.8,248.1 481.6,264.7" fill="url(#c60)"/>
<line x1="480.8" y1="255.8" x2="485.4" y2="261.3" stroke="#9d4242" stroke-width="1.1"/>
<line x1="484.7" y1="252.6" x2="489.3" y2="258.0" stroke="#9d4242" stroke-width="1.1"/>
<line x1="488.6" y1="249.4" x2="493.1" y2="254.7" stroke="#9d4242" stroke-width="1.1"/>
<line x1="492.5" y1="246.2" x2="496.9" y2="251.4" stroke="#9d4242" stroke-width="1.1"/>
<circle cx="208.1" cy="489.6" r="8.0" fill="#ba4e4e"/>
<linearGradient id="c61" gradientUnits="userSpaceOnUse" x1="298.9" y1="447.2" x2="308.8" y2="457.5"><stop offset="0" stop-color="#df6f6f"/><stop offset="0.3" stop-color="#e58989"/><stop offset="0.65" stop-color="#db5c5c"/><stop offset="1" stop-color="#994040"/></linearGradient>
<polygon points="251.9,491.2 345.9,403.1 354.7,412.3 262.9,502.8" fill="url(#c61)"/>
<linearGradient id="c62" gradientUnits="userSpaceOnUse" x1="375.3" y1="375.5" x2="383.4" y2="384.0"><stop offset="0" stop-color="#df6f6f"/><stop offset="0.3" stop-color="#e58989"/><stop offset="0.65" stop-color="#db5c5c"/><stop offset="1" stop-color="#994040"/></linearGradient>
<polygon points="345.9,403.1 404.7,348.0 412.1,355.7 354.7,412.3" fill="url(#c62)"/>
<linearGradient id="c63" gradientUnits="userSpaceOnUse" x1="424.8" y1="329.2" x2="431.7" y2="336.4"><stop offset="0" stop-color="#df6f6f"/><stop offset="0.3" stop-color="#e58989"/><stop offset="0.65" stop-color="#db5c5c"/><stop offset="1" stop-color="#994040"/></linearGradient>
<polygon points="404.7,348.0 444.9,310.3 451.3,317.0 412.1,355.7" fill="url(#c63)"/>
<linearGradient id="c64" gradientUnits="userSpaceOnUse" x1="459.5" y1="296.7" x2="465.6" y2="302.9"><stop offset="0" stop-color="#565656"/><stop offset="0.3" stop-color="#747474"/><stop offset="0.65" stop-color="#3f3f3f"/><stop offset="1" stop-color="#2c2c2c"/></linearGradient>
<polygon points="444.9,310.3 474.2,283.0 479.8,288.9 451.3,317.0" fill="url(#c64)"/>
<linearGradient id="c65" gradientUnits="userSpaceOnUse" x1="485.3" y1="272.6" x2="490.7" y2="278.2"><stop offset="0" stop-color="#565656"/><stop offset="0.3" stop-color="#747474"/><stop offset="0.65" stop-color="#3f3f3f"/><stop offset="1" stop-color="#2c2c2c"/></linearGradient>
<polygon points="474.2,283.0 496.4,262.2 501.5,267.4 479.8,288.9" fill="url(#c65)"/>
<linearGradient id="c66" gradientUnits="userSpaceOnUse" x1="505.2" y1="254.0" x2="510.0" y2="259.0"><stop offset="0" stop-color="#b3b3b3"/><stop offset="0.3" stop-color="#c1c1c1"/><stop offset="0.65" stop-color="#a9a9a9"/><stop offset="1" stop-color="#767676"/></linearGradient>
<polygon points="496.4,262.2 513.9,245.8 518.5,250.6 501.5,267.4" fill="url(#c66)"/>
<circle cx="257.4" cy="497.0" r="8.0" fill="#ba4e4e"/>
<linearGradient id="c67" gradientUnits="userSpaceOnUse" x1="301.5" y1="464.9" x2="311.8" y2="475.0"><stop offset="0" stop-color="#df6f6f"/><stop offset="0.3" stop-color="#e58989"/><stop offset="0.65" stop-color="#db5c5c"/><stop offset="1" stop-color="#994040"/></linearGradient>
<polygon points="254.9,511.3 348.2,418.5 357.3,427.5 266.3,522.5" fill="url(#c67)"/>
<line x1="273.6" y1="492.7" x2="284.5" y2="503.5" stroke="#9d4242" stroke-width="2.2"/>
<line x1="292.2" y1="474.2" x2="302.7" y2="484.5" stroke="#9d4242" stroke-width="2.2"/>
<line x1="310.9" y1="455.6" x2="320.9" y2="465.5" stroke="#9d4242" stroke-width="2.2"/>
<line x1="329.5" y1="437.1" x2="339.1" y2="446.5" stroke="#9d4242" stroke-width="2.2"/>
<linearGradient id="c68" gradientUnits="userSpaceOnUse" x1="377.4" y1="389.5" x2="385.8" y2="397.8"><stop offset="0" stop-color="#df6f6f"/><stop offset="0.3" stop-color="#e58989"/><stop offset="0.65" stop-color="#db5c5c"/><stop offset="1" stop-color="#994040"/></linearGradient>
<polygon points="348.2,418.5 406.5,360.6 414.2,368.1 357.3,427.5" fill="url(#c68)"/>
<line x1="359.9" y1="406.9" x2="368.7" y2="415.6" stroke="#9d4242" stroke-width="1.8"/>
<line x1="371.5" y1="395.3" x2="380.1" y2="403.7" stroke="#9d4242" stroke-width="1.8"/>
<line x1="383.2" y1="383.7" x2="391.5" y2="391.8" stroke="#9d4242" stroke-width="1.8"/>
<line x1="394.9" y1="372.1" x2="402.8" y2="380.0" stroke="#9d4242" stroke-width="1.8"/>
<linearGradient id="c69" gradientUnits="userSpaceOnUse" x1="426.5" y1="340.7" x2="433.7" y2="347.7"><stop offset="0" stop-color="#df6f6f"/><stop offset="0.3" stop-color="#e58989"/><stop offset="0.65" stop-color="#db5c5c"/><stop offset="1" stop-color="#994040"/></linearGradient>
<polygon points="406.5,360.6 446.5,320.9 453.1,327.4 414.2,368.1" fill="url(#c69)"/>
<line x1="414.5" y1="352.6" x2="422.0" y2="359.9" stroke="#9d4242" stroke-width="1.5"/>
<line x1="422.5" y1="344.7" x2="429.8" y2="351.8" stroke="#9d4242" stroke-width="1.5"/>
<line x1="430.5" y1="336.8" x2="437.5" y2="343.7" stroke="#9d4242" stroke-width="1.5"/>
<line x1="438.5" y1="328.8" x2="445.3" y2="335.5" stroke="#9d4242" stroke-width="1.5"/>
<linearGradient id="c70" gradientUnits="userSpaceOnUse" x1="461.0" y1="306.5" x2="467.2" y2="312.6"><stop offset="0" stop-color="#565656"/><stop offset="0.3" stop-color="#747474"/><stop offset="0.65" stop-color="#3f3f3f"/><stop offset="1" stop-color="#2c2c2c"/></linearGradient>
<polygon points="446.5,320.9 475.5,292.1 481.4,297.8 453.1,327.4" fill="url(#c70)"/>
<linearGradient id="c71" gradientUnits="userSpaceOnUse" x1="486.6" y1="281.1" x2="492.1" y2="286.6"><stop offset="0" stop-color="#5b5b5b"/><stop offset="0.3" stop-color="#797979"/><stop offset="0.65" stop-color="#454545"/><stop offset="1" stop-color="#303030"/></linearGradient>
<polygon points="475.5,292.1 497.6,270.2 502.9,275.3 481.4,297.8" fill="url(#c71)"/>
<line x1="480.0" y1="287.7" x2="485.7" y2="293.3" stroke="#313131" stroke-width="1.2"/>
<line x1="484.4" y1="283.3" x2="490.0" y2="288.8" stroke="#313131" stroke-width="1.2"/>
<line x1="488.8" y1="278.9" x2="494.3" y2="284.3" stroke="#313131" stroke-width="1.2"/>
<line x1="493.2" y1="274.6" x2="498.6" y2="279.8" stroke="#313131" stroke-width="1.2"/>
<linearGradient id="c72" gradientUnits="userSpaceOnUse" x1="506.3" y1="261.6" x2="511.3" y2="266.5"><stop offset="0" stop-color="#b3b3b3"/><stop offset="0.3" stop-color="#c1c1c1"/><stop offset="0.65" stop-color="#a9a9a9"/><stop offset="1" stop-color="#767676"/></linearGradient>
<polygon points="497.6,270.2 515.0,253.0 519.7,257.7 502.9,275.3" fill="url(#c72)"/>
<circle cx="260.6" cy="516.9" r="8.0" fill="#ba4e4e"/>
<linearGradient id="c73" gradientUnits="userSpaceOnUse" x1="431.8" y1="471.9" x2="444.1" y2="479.3"><stop offset="0" stop-color="#b3b3b3"/><stop offset="0.3" stop-color="#c1c1c1"/><stop offset="0.65" stop-color="#a9a9a9"/><stop offset="1" stop-color="#767676"/></linearGradient>
<polygon points="402.2,519.1 461.5,424.6 472.4,431.2 415.8,527.5" fill="url(#c73)"/>
<linearGradient id="c74" gradientUnits="userSpaceOnUse" x1="480.0" y1="395.1" x2="490.1" y2="401.2"><stop offset="0" stop-color="#565656"/><stop offset="0.3" stop-color="#747474"/><stop offset="0.65" stop-color="#3f3f3f"/><stop offset="1" stop-color="#2c2c2c"/></linearGradient>
<polygon points="461.5,424.6 498.5,365.5 507.7,371.1 472.4,431.2" fill="url(#c74)"/>
<linearGradient id="c75" gradientUnits="userSpaceOnUse" x1="511.2" y1="345.3" x2="519.8" y2="350.5"><stop offset="0" stop-color="#b3b3b3"/><stop offset="0.3" stop-color="#c1c1c1"/><stop offset="0.65" stop-color="#a9a9a9"/><stop offset="1" stop-color="#767676"/></linearGradient>
<polygon points="498.5,365.5 523.9,325.1 531.9,329.9 507.7,371.1" fill="url(#c75)"/>
<linearGradient id="c76" gradientUnits="userSpaceOnUse" x1="533.2" y1="310.4" x2="540.6" y2="315.0"><stop offset="0" stop-color="#565656"/><stop offset="0.3" stop-color="#747474"/><stop offset="0.65" stop-color="#3f3f3f"/><stop offset="1" stop-color="#2c2c2c"/></linearGradient>
<polygon points="523.9,325.1 542.4,295.7 549.4,300.0 531.9,329.9" fill="url(#c76)"/>
<linearGradient id="c77" gradientUnits="userSpaceOnUse" x1="549.4" y1="284.6" x2="556.1" y2="288.6"><stop offset="0" stop-color="#b3b3b3"/><stop offset="0.3" stop-color="#c1c1c1"/><stop offset="0.65" stop-color="#a9a9a9"/><stop offset="1" stop-color="#767676"/></linearGradient>
<polygon points="542.4,295.7 556.5,273.4 562.7,277.2 549.4,300.0" fill="url(#c77)"/>
<linearGradient id="c78" gradientUnits="userSpaceOnUse" x1="562.0" y1="264.6" x2="568.0" y2="268.3"><stop offset="0" stop-color="#565656"/><stop offset="0.3" stop-color="#747474"/><stop offset="0.65" stop-color="#3f3f3f"/><stop offset="1" stop-color="#2c2c2c"/></linearGradient>
<polygon points="556.5,273.4 567.5,255.9 573.2,259.3 562.7,277.2" fill="url(#c78)"/>
<linearGradient id="c79" gradientUnits="userSpaceOnUse" x1="572.0" y1="248.8" x2="577.4" y2="252.1"><stop offset="0" stop-color="#b3b3b3"/><stop offset="0.3" stop-color="#c1c1c1"/><stop offset="0.65" stop-color="#a9a9a9"/><stop offset="1" stop-color="#767676"/></linearGradient>
<polygon points="567.5,255.9 576.4,241.7 581.6,244.9 573.2,259.3" fill="url(#c79)"/>
<linearGradient id="c80" gradientUnits="userSpaceOnUse" x1="580.1" y1="235.9" x2="585.1" y2="239.0"><stop offset="0" stop-color="#565656"/><stop offset="0.3" stop-color="#747474"/><stop offset="0.65" stop-color="#3f3f3f"/><stop offset="1" stop-color="#2c2c2c"/></linearGradient>
<polygon points="576.4,241.7 583.8,230.1 588.6,233.0 581.6,244.9" fill="url(#c80)"/>
<circle cx="409.0" cy="523.3" r="8.0" fill="#8f8f8f"/>
<linearGradient id="c81" gradientUnits="userSpaceOnUse" x1="366.4" y1="519.7" x2="378.2" y2="527.9"><stop offset="0" stop-color="#b3b3b3"/><stop offset="0.3" stop-color="#c1c1c1"/><stop offset="0.65" stop-color="#a9a9a9"/><stop offset="1" stop-color="#767676"/></linearGradient>
<polygon points="328.2,573.2 404.6,466.2 415.1,473.5 341.4,582.4" fill="url(#c81)"/>
<linearGradient id="c82" gradientUnits="userSpaceOnUse" x1="428.5" y1="432.8" x2="438.1" y2="439.5"><stop offset="0" stop-color="#b3b3b3"/><stop offset="0.3" stop-color="#c1c1c1"/><stop offset="0.65" stop-color="#a9a9a9"/><stop offset="1" stop-color="#767676"/></linearGradient>
<polygon points="404.6,466.2 452.3,399.3 461.2,405.4 415.1,473.5" fill="url(#c82)"/>
<linearGradient id="c83" gradientUnits="userSpaceOnUse" x1="468.7" y1="376.4" x2="476.9" y2="382.1"><stop offset="0" stop-color="#b3b3b3"/><stop offset="0.3" stop-color="#c1c1c1"/><stop offset="0.65" stop-color="#a9a9a9"/><stop offset="1" stop-color="#767676"/></linearGradient>
<polygon points="452.3,399.3 485.0,353.6 492.6,358.9 461.2,405.4" fill="url(#c83)"/>
<linearGradient id="c84" gradientUnits="userSpaceOnUse" x1="496.9" y1="336.9" x2="504.1" y2="341.9"><stop offset="0" stop-color="#565656"/><stop offset="0.3" stop-color="#747474"/><stop offset="0.65" stop-color="#3f3f3f"/><stop offset="1" stop-color="#2c2c2c"/></linearGradient>
<polygon points="485.0,353.6 508.8,320.3 515.5,325.0 492.6,358.9" fill="url(#c84)"/>
<linearGradient id="c85" gradientUnits="userSpaceOnUse" x1="517.9" y1="307.7" x2="524.2" y2="312.1"><stop offset="0" stop-color="#b3b3b3"/><stop offset="0.3" stop-color="#c1c1c1"/><stop offset="0.65" stop-color="#a9a9a9"/><stop offset="1" stop-color="#767676"/></linearGradient>
<polygon points="508.8,320.3 526.9,295.0 532.9,299.2 515.5,325.0" fill="url(#c85)"/>
<linearGradient id="c86" gradientUnits="userSpaceOnUse" x1="534.0" y1="285.1" x2="539.8" y2="289.1"><stop offset="0" stop-color="#565656"/><stop offset="0.3" stop-color="#747474"/><stop offset="0.65" stop-color="#3f3f3f"/><stop offset="1" stop-color="#2c2c2c"/></linearGradient>
<polygon points="526.9,295.0 541.1,275.2 546.6,279.0 532.9,299.2" fill="url(#c86)"/>
<linearGradient id="c87" gradientUnits="userSpaceOnUse" x1="546.9" y1="267.2" x2="552.1" y2="270.8"><stop offset="0" stop-color="#b3b3b3"/><stop offset="0.3" stop-color="#c1c1c1"/><stop offset="0.65" stop-color="#a9a9a9"/><stop offset="1" stop-color="#767676"/></linearGradient>
<polygon points="541.1,275.2 552.6,259.2 557.6,262.6 546.6,279.0" fill="url(#c87)"/>
<linearGradient id="c88" gradientUnits="userSpaceOnUse" x1="557.3" y1="252.6" x2="562.1" y2="255.9"><stop offset="0" stop-color="#5b5b5b"/><stop offset="0.3" stop-color="#797979"/><stop offset="0.65" stop-color="#454545"/><stop offset="1" stop-color="#303030"/></linearGradient>
<polygon points="552.6,259.2 562.0,246.0 566.7,249.2 557.6,262.6" fill="url(#c88)"/>
<line x1="554.5" y1="256.5" x2="559.4" y2="260.0" stroke="#313131" stroke-width="1.0"/>
<line x1="556.4" y1="253.9" x2="561.2" y2="257.3" stroke="#313131" stroke-width="1.0"/>
<line x1="558.3" y1="251.2" x2="563.0" y2="254.6" stroke="#313131" stroke-width="1.0"/>
<line x1="560.1" y1="248.6" x2="564.9" y2="251.9" stroke="#313131" stroke-width="1.0"/>
<circle cx="334.8" cy="577.8" r="8.0" fill="#8f8f8f"/>
<linearGradient id="c89" gradientUnits="userSpaceOnUse" x1="366.3" y1="538.3" x2="378.3" y2="546.3"><stop offset="0" stop-color="#bdbdbd"/><stop offset="0.3" stop-color="#c9c9c9"/><stop offset="0.65" stop-color="#b4b4b4"/><stop offset="1" stop-color="#7d7d7d"/></linearGradient>
<polygon points="328.1,594.3 404.5,482.4 415.2,489.5 341.5,603.1" fill="url(#c89)"/>
<line x1="343.4" y1="571.9" x2="356.2" y2="580.4" stroke="#818181" stroke-width="2.2"/>
<line x1="358.7" y1="549.5" x2="370.9" y2="557.7" stroke="#818181" stroke-width="2.2"/>
<line x1="374.0" y1="527.1" x2="385.7" y2="534.9" stroke="#818181" stroke-width="2.2"/>
<line x1="389.2" y1="504.8" x2="400.4" y2="512.2" stroke="#818181" stroke-width="2.2"/>
<linearGradient id="c90" gradientUnits="userSpaceOnUse" x1="428.4" y1="447.4" x2="438.2" y2="453.9"><stop offset="0" stop-color="#bdbdbd"/><stop offset="0.3" stop-color="#c9c9c9"/><stop offset="0.65" stop-color="#b4b4b4"/><stop offset="1" stop-color="#7d7d7d"/></linearGradient>
<polygon points="404.5,482.4 452.3,412.5 461.2,418.4 415.2,489.5" fill="url(#c90)"/>
<line x1="414.1" y1="468.4" x2="424.4" y2="475.3" stroke="#818181" stroke-width="1.8"/>
<line x1="423.6" y1="454.4" x2="433.6" y2="461.0" stroke="#818181" stroke-width="1.8"/>
<line x1="433.2" y1="440.4" x2="442.8" y2="446.8" stroke="#818181" stroke-width="1.8"/>
<line x1="442.7" y1="426.4" x2="452.0" y2="432.6" stroke="#818181" stroke-width="1.8"/>
<linearGradient id="c91" gradientUnits="userSpaceOnUse" x1="468.6" y1="388.6" x2="477.0" y2="394.1"><stop offset="0" stop-color="#bdbdbd"/><stop offset="0.3" stop-color="#c9c9c9"/><stop offset="0.65" stop-color="#b4b4b4"/><stop offset="1" stop-color="#7d7d7d"/></linearGradient>
<polygon points="452.3,412.5 485.0,364.6 492.7,369.8 461.2,418.4" fill="url(#c91)"/>
<line x1="458.8" y1="402.9" x2="467.5" y2="408.7" stroke="#818181" stroke-width="1.5"/>
<line x1="465.4" y1="393.3" x2="473.8" y2="399.0" stroke="#818181" stroke-width="1.5"/>
<line x1="471.9" y1="383.8" x2="480.1" y2="389.2" stroke="#818181" stroke-width="1.5"/>
<line x1="478.4" y1="374.2" x2="486.4" y2="379.5" stroke="#818181" stroke-width="1.5"/>
<linearGradient id="c92" gradientUnits="userSpaceOnUse" x1="496.9" y1="347.3" x2="504.1" y2="352.1"><stop offset="0" stop-color="#cbcbcb"/><stop offset="0.3" stop-color="#d4d4d4"/><stop offset="0.65" stop-color="#c4c4c4"/><stop offset="1" stop-color="#898989"/></linearGradient>
<polygon points="485.0,364.6 508.8,329.9 515.6,334.4 492.7,369.8" fill="url(#c92)"/>
<line x1="489.7" y1="357.7" x2="497.3" y2="362.7" stroke="#8d8d8d" stroke-width="1.3"/>
<line x1="494.5" y1="350.7" x2="501.9" y2="355.6" stroke="#8d8d8d" stroke-width="1.3"/>
<line x1="499.3" y1="343.8" x2="506.4" y2="348.6" stroke="#8d8d8d" stroke-width="1.3"/>
<line x1="504.0" y1="336.8" x2="511.0" y2="341.5" stroke="#8d8d8d" stroke-width="1.3"/>
<linearGradient id="c93" gradientUnits="userSpaceOnUse" x1="517.8" y1="316.7" x2="524.3" y2="321.0"><stop offset="0" stop-color="#5b5b5b"/><stop offset="0.3" stop-color="#797979"/><stop offset="0.65" stop-color="#454545"/><stop offset="1" stop-color="#303030"/></linearGradient>
<polygon points="508.8,329.9 526.9,303.4 533.0,307.5 515.6,334.4" fill="url(#c93)"/>
<line x1="512.4" y1="324.6" x2="519.1" y2="329.0" stroke="#313131" stroke-width="1.2"/>
<line x1="516.0" y1="319.3" x2="522.5" y2="323.6" stroke="#313131" stroke-width="1.2"/>
<line x1="519.6" y1="314.0" x2="526.0" y2="318.3" stroke="#313131" stroke-width="1.2"/>
<line x1="523.2" y1="308.7" x2="529.5" y2="312.9" stroke="#313131" stroke-width="1.2"/>
<linearGradient id="c94" gradientUnits="userSpaceOnUse" x1="534.0" y1="293.1" x2="539.8" y2="296.9"><stop offset="0" stop-color="#bdbdbd"/><stop offset="0.3" stop-color="#c9c9c9"/><stop offset="0.65" stop-color="#b4b4b4"/><stop offset="1" stop-color="#7d7d7d"/></linearGradient>
<polygon points="526.9,303.4 541.1,282.7 546.6,286.4 533.0,307.5" fill="url(#c94)"/>
<line x1="529.7" y1="299.3" x2="535.7" y2="303.3" stroke="#818181" stroke-width="1.1"/>
<line x1="532.6" y1="295.1" x2="538.4" y2="299.1" stroke="#818181" stroke-width="1.1"/>
<line x1="535.4" y1="291.0" x2="541.2" y2="294.8" stroke="#818181" stroke-width="1.1"/>
<line x1="538.2" y1="286.8" x2="543.9" y2="290.6" stroke="#818181" stroke-width="1.1"/>
<linearGradient id="c95" gradientUnits="userSpaceOnUse" x1="546.8" y1="274.3" x2="552.1" y2="277.9"><stop offset="0" stop-color="#cbcbcb"/><stop offset="0.3" stop-color="#d4d4d4"/><stop offset="0.65" stop-color="#c4c4c4"/><stop offset="1" stop-color="#898989"/></linearGradient>
<polygon points="541.1,282.7 552.6,266.0 557.6,269.3 546.6,286.4" fill="url(#c95)"/>
<line x1="543.4" y1="279.3" x2="548.8" y2="283.0" stroke="#8d8d8d" stroke-width="1.0"/>
<line x1="545.7" y1="276.0" x2="551.0" y2="279.6" stroke="#8d8d8d" stroke-width="1.0"/>
<line x1="548.0" y1="272.6" x2="553.2" y2="276.2" stroke="#8d8d8d" stroke-width="1.0"/>
<line x1="550.3" y1="269.3" x2="555.4" y2="272.7" stroke="#8d8d8d" stroke-width="1.0"/>
<linearGradient id="c96" gradientUnits="userSpaceOnUse" x1="557.3" y1="259.1" x2="562.2" y2="262.3"><stop offset="0" stop-color="#5b5b5b"/><stop offset="0.3" stop-color="#797979"/><stop offset="0.65" stop-color="#454545"/><stop offset="1" stop-color="#303030"/></linearGradient>
<polygon points="552.6,266.0 562.0,252.2 566.7,255.3 557.6,269.3" fill="url(#c96)"/>
<line x1="554.4" y1="263.2" x2="559.5" y2="266.5" stroke="#313131" stroke-width="1.0"/>
<line x1="556.3" y1="260.4" x2="561.3" y2="263.7" stroke="#313131" stroke-width="1.0"/>
<line x1="558.2" y1="257.7" x2="563.1" y2="260.9" stroke="#313131" stroke-width="1.0"/>
<line x1="560.1" y1="254.9" x2="564.9" y2="258.1" stroke="#313131" stroke-width="1.0"/>
<circle cx="334.8" cy="598.7" r="8.0" fill="#999999"/>
<linearGradient id="c97" gradientUnits="userSpaceOnUse" x1="219.0" y1="213.4" x2="222.6" y2="227.7"><stop offset="0" stop-color="#989898"/><stop offset="0.3" stop-color="#aaaaaa"/><stop offset="0.65" stop-color="#8a8a8a"/><stop offset="1" stop-color="#606060"/></linearGradient>
<polygon points="161.5,227.0 276.5,199.8 279.7,212.5 165.5,243.0" fill="url(#c97)"/>
<line x1="184.5" y1="221.6" x2="188.3" y2="236.9" stroke="#636363" stroke-width="2.2"/>
<line x1="207.5" y1="216.1" x2="211.2" y2="230.8" stroke="#636363" stroke-width="2.2"/>
<line x1="230.5" y1="210.7" x2="234.0" y2="224.7" stroke="#636363" stroke-width="2.2"/>
<line x1="253.5" y1="205.2" x2="256.8" y2="218.6" stroke="#636363" stroke-width="2.2"/>
<circle cx="163.5" cy="235.0" r="8.2" fill="#757575"/>
<linearGradient id="c98" gradientUnits="userSpaceOnUse" x1="220.4" y1="234.7" x2="224.9" y2="249.4"><stop offset="0" stop-color="#b3b3b3"/><stop offset="0.3" stop-color="#c1c1c1"/><stop offset="0.65" stop-color="#a9a9a9"/><stop offset="1" stop-color="#767676"/></linearGradient>
<polygon points="163.1,251.2 277.7,218.3 281.7,231.4 168.1,267.4" fill="url(#c98)"/>
<linearGradient id="c99" gradientUnits="userSpaceOnUse" x1="313.5" y1="208.1" x2="317.2" y2="220.1"><stop offset="0" stop-color="#565656"/><stop offset="0.3" stop-color="#747474"/><stop offset="0.65" stop-color="#3f3f3f"/><stop offset="1" stop-color="#2c2c2c"/></linearGradient>
<polygon points="277.7,218.3 349.4,197.9 352.6,208.8 281.7,231.4" fill="url(#c99)"/>
<linearGradient id="c100" gradientUnits="userSpaceOnUse" x1="373.9" y1="190.9" x2="376.9" y2="201.0"><stop offset="0" stop-color="#b3b3b3"/><stop offset="0.3" stop-color="#c1c1c1"/><stop offset="0.65" stop-color="#a9a9a9"/><stop offset="1" stop-color="#767676"/></linearGradient>
<polygon points="349.4,197.9 398.4,183.9 401.2,193.3 352.6,208.8" fill="url(#c100)"/>
<linearGradient id="c101" gradientUnits="userSpaceOnUse" x1="416.2" y1="178.8" x2="418.9" y2="187.7"><stop offset="0" stop-color="#565656"/><stop offset="0.3" stop-color="#747474"/><stop offset="0.65" stop-color="#3f3f3f"/><stop offset="1" stop-color="#2c2c2c"/></linearGradient>
<polygon points="398.4,183.9 434.0,173.7 436.5,182.0 401.2,193.3" fill="url(#c101)"/>
<linearGradient id="c102" gradientUnits="userSpaceOnUse" x1="447.6" y1="169.8" x2="449.9" y2="177.7"><stop offset="0" stop-color="#b3b3b3"/><stop offset="0.3" stop-color="#c1c1c1"/><stop offset="0.65" stop-color="#a9a9a9"/><stop offset="1" stop-color="#767676"/></linearGradient>
<polygon points="434.0,173.7 461.1,166.0 463.4,173.5 436.5,182.0" fill="url(#c102)"/>
<linearGradient id="c103" gradientUnits="userSpaceOnUse" x1="471.8" y1="163.0" x2="473.9" y2="170.1"><stop offset="0" stop-color="#565656"/><stop offset="0.3" stop-color="#747474"/><stop offset="0.65" stop-color="#3f3f3f"/><stop offset="1" stop-color="#2c2c2c"/></linearGradient>
<polygon points="461.1,166.0 482.4,159.9 484.5,166.7 463.4,173.5" fill="url(#c103)"/>
<linearGradient id="c104" gradientUnits="userSpaceOnUse" x1="491.0" y1="157.5" x2="493.0" y2="164.0"><stop offset="0" stop-color="#bdbdbd"/><stop offset="0.3" stop-color="#c9c9c9"/><stop offset="0.65" stop-color="#b4b4b4"/><stop offset="1" stop-color="#7d7d7d"/></linearGradient>
<polygon points="482.4,159.9 499.6,155.1 501.5,161.3 484.5,166.7" fill="url(#c104)"/>
<line x1="485.8" y1="159.0" x2="487.9" y2="165.6" stroke="#818181" stroke-width="1.0"/>
<line x1="489.3" y1="158.0" x2="491.3" y2="164.5" stroke="#818181" stroke-width="1.0"/>
<line x1="492.7" y1="157.0" x2="494.7" y2="163.4" stroke="#818181" stroke-width="1.0"/>
<line x1="496.1" y1="156.0" x2="498.1" y2="162.4" stroke="#818181" stroke-width="1.0"/>
<linearGradient id="c105" gradientUnits="userSpaceOnUse" x1="506.6" y1="153.0" x2="508.5" y2="159.0"><stop offset="0" stop-color="#5b5b5b"/><stop offset="0.3" stop-color="#797979"/><stop offset="0.65" stop-color="#454545"/><stop offset="1" stop-color="#303030"/></linearGradient>
<polygon points="499.6,155.1 513.7,151.0 515.5,156.8 501.5,161.3" fill="url(#c105)"/>
<line x1="502.4" y1="154.2" x2="504.3" y2="160.4" stroke="#313131" stroke-width="1.0"/>
<line x1="505.2" y1="153.4" x2="507.1" y2="159.5" stroke="#313131" stroke-width="1.0"/>
<line x1="508.1" y1="152.6" x2="509.9" y2="158.6" stroke="#313131" stroke-width="1.0"/>
<line x1="510.9" y1="151.8" x2="512.7" y2="157.7" stroke="#313131" stroke-width="1.0"/>
<circle cx="165.6" cy="259.3" r="8.5" fill="#8f8f8f"/>
<linearGradient id="c106" gradientUnits="userSpaceOnUse" x1="226.8" y1="307.1" x2="233.4" y2="320.9"><stop offset="0" stop-color="#f6b1b1"/><stop offset="0.35" stop-color="#f28e8e"/><stop offset="0.7" stop-color="#ef7272"/><stop offset="1" stop-color="#cb6060"/></linearGradient>
<polygon points="168.5,329.1 281.8,278.2 290.5,296.6 179.5,352.1" fill="#f3a3a3" opacity="0.35"/>
<polygon points="170.4,332.9 283.2,281.2 289.1,293.5 177.6,348.3" fill="url(#c106)"/>
<linearGradient id="c107" gradientUnits="userSpaceOnUse" x1="318.5" y1="265.1" x2="323.9" y2="276.4"><stop offset="0" stop-color="#993c3c"/><stop offset="0.3" stop-color="#ac5f5f"/><stop offset="0.65" stop-color="#8c2222"/><stop offset="1" stop-color="#621717"/></linearGradient>
<polygon points="283.2,281.2 353.8,249.0 358.7,259.3 289.1,293.5" fill="url(#c107)"/>
<line x1="297.4" y1="274.8" x2="303.0" y2="286.7" stroke="#641818" stroke-width="1.9"/>
<line x1="311.5" y1="268.3" x2="316.9" y2="279.8" stroke="#641818" stroke-width="1.9"/>
<line x1="325.6" y1="261.9" x2="330.8" y2="273.0" stroke="#641818" stroke-width="1.9"/>
<line x1="339.7" y1="255.4" x2="344.8" y2="266.1" stroke="#641818" stroke-width="1.9"/>
<linearGradient id="c108" gradientUnits="userSpaceOnUse" x1="378.0" y1="237.9" x2="382.5" y2="247.5"><stop offset="0" stop-color="#993c3c"/><stop offset="0.3" stop-color="#ac5f5f"/><stop offset="0.65" stop-color="#8c2222"/><stop offset="1" stop-color="#621717"/></linearGradient>
<polygon points="353.8,249.0 402.1,226.9 406.3,235.8 358.7,259.3" fill="url(#c108)"/>
<line x1="363.5" y1="244.6" x2="368.2" y2="254.6" stroke="#641818" stroke-width="1.6"/>
<line x1="373.1" y1="240.2" x2="377.7" y2="249.9" stroke="#641818" stroke-width="1.6"/>
<line x1="382.8" y1="235.7" x2="387.3" y2="245.2" stroke="#641818" stroke-width="1.6"/>
<line x1="392.4" y1="231.3" x2="396.8" y2="240.5" stroke="#641818" stroke-width="1.6"/>
<linearGradient id="c109" gradientUnits="userSpaceOnUse" x1="419.7" y1="218.9" x2="423.6" y2="227.3"><stop offset="0" stop-color="#df6f6f"/><stop offset="0.3" stop-color="#e58989"/><stop offset="0.65" stop-color="#db5c5c"/><stop offset="1" stop-color="#994040"/></linearGradient>
<polygon points="402.1,226.9 437.2,210.9 441.0,218.7 406.3,235.8" fill="url(#c109)"/>
<line x1="409.1" y1="223.7" x2="413.2" y2="232.4" stroke="#9d4242" stroke-width="1.4"/>
<line x1="416.2" y1="220.5" x2="420.2" y2="229.0" stroke="#9d4242" stroke-width="1.4"/>
<line x1="423.2" y1="217.3" x2="427.1" y2="225.6" stroke="#9d4242" stroke-width="1.4"/>
<line x1="430.2" y1="214.1" x2="434.0" y2="222.2" stroke="#9d4242" stroke-width="1.4"/>
<linearGradient id="c110" gradientUnits="userSpaceOnUse" x1="450.6" y1="204.8" x2="454.1" y2="212.3"><stop offset="0" stop-color="#df6f6f"/><stop offset="0.3" stop-color="#e58989"/><stop offset="0.65" stop-color="#db5c5c"/><stop offset="1" stop-color="#994040"/></linearGradient>
<polygon points="437.2,210.9 463.9,198.7 467.3,205.8 441.0,218.7" fill="url(#c110)"/>
<line x1="442.6" y1="208.5" x2="446.2" y2="216.2" stroke="#9d4242" stroke-width="1.2"/>
<line x1="447.9" y1="206.0" x2="451.5" y2="213.6" stroke="#9d4242" stroke-width="1.2"/>
<line x1="453.2" y1="203.6" x2="456.7" y2="211.0" stroke="#9d4242" stroke-width="1.2"/>
<line x1="458.6" y1="201.2" x2="462.0" y2="208.4" stroke="#9d4242" stroke-width="1.2"/>
<linearGradient id="c111" gradientUnits="userSpaceOnUse" x1="474.4" y1="193.9" x2="477.6" y2="200.7"><stop offset="0" stop-color="#df6f6f"/><stop offset="0.3" stop-color="#e58989"/><stop offset="0.65" stop-color="#db5c5c"/><stop offset="1" stop-color="#994040"/></linearGradient>
<polygon points="463.9,198.7 484.9,189.2 487.9,195.6 467.3,205.8" fill="url(#c111)"/>
<linearGradient id="c112" gradientUnits="userSpaceOnUse" x1="493.4" y1="185.3" x2="496.3" y2="191.4"><stop offset="0" stop-color="#df6f6f"/><stop offset="0.3" stop-color="#e58989"/><stop offset="0.65" stop-color="#db5c5c"/><stop offset="1" stop-color="#994040"/></linearGradient>
<polygon points="484.9,189.2 501.8,181.5 504.6,187.3 487.9,195.6" fill="url(#c112)"/>
<linearGradient id="c113" gradientUnits="userSpaceOnUse" x1="508.8" y1="178.3" x2="511.5" y2="183.9"><stop offset="0" stop-color="#df6f6f"/><stop offset="0.3" stop-color="#e58989"/><stop offset="0.65" stop-color="#db5c5c"/><stop offset="1" stop-color="#994040"/></linearGradient>
<polygon points="501.8,181.5 515.8,175.1 518.3,180.5 504.6,187.3" fill="url(#c113)"/>
<line x1="504.6" y1="180.2" x2="507.4" y2="186.0" stroke="#9d4242" stroke-width="1.0"/>
<line x1="507.4" y1="178.9" x2="510.1" y2="184.6" stroke="#9d4242" stroke-width="1.0"/>
<line x1="510.2" y1="177.6" x2="512.9" y2="183.3" stroke="#9d4242" stroke-width="1.0"/>
<line x1="513.0" y1="176.4" x2="515.6" y2="181.9" stroke="#9d4242" stroke-width="1.0"/>
<circle cx="174.0" cy="340.6" r="8.5" fill="#cb6060"/>
<circle cx="174.0" cy="340.6" r="9.7" fill="none" stroke="#f6b4b4" stroke-width="1.6" opacity="0.7"/>
<linearGradient id="c114" gradientUnits="userSpaceOnUse" x1="289.4" y1="311.9" x2="296.9" y2="325.2"><stop offset="0" stop-color="#f6b1b1"/><stop offset="0.35" stop-color="#f28e8e"/><stop offset="0.7" stop-color="#ef7272"/><stop offset="1" stop-color="#cb6060"/></linearGradient>
<polygon points="239.0,334.7 336.0,282.5 346.0,300.3 251.6,356.9" fill="#f3a3a3" opacity="0.35"/>
<polygon points="241.1,338.4 337.6,285.5 344.4,297.3 249.5,353.2" fill="url(#c114)"/>
<linearGradient id="c115" gradientUnits="userSpaceOnUse" x1="367.8" y1="268.9" x2="374.0" y2="279.8"><stop offset="0" stop-color="#f6b1b1"/><stop offset="0.35" stop-color="#f28e8e"/><stop offset="0.7" stop-color="#ef7272"/><stop offset="1" stop-color="#cb6060"/></linearGradient>
<polygon points="336.0,282.5 396.6,249.9 405.0,264.8 346.0,300.3" fill="#f3a3a3" opacity="0.35"/>
<polygon points="337.6,285.5 398.0,252.4 403.6,262.3 344.4,297.3" fill="url(#c115)"/>
<linearGradient id="c116" gradientUnits="userSpaceOnUse" x1="418.6" y1="241.1" x2="423.9" y2="250.4"><stop offset="0" stop-color="#f6b1b1"/><stop offset="0.35" stop-color="#f28e8e"/><stop offset="0.7" stop-color="#ef7272"/><stop offset="1" stop-color="#cb6060"/></linearGradient>
<polygon points="396.6,249.9 438.1,227.7 445.4,240.5 405.0,264.8" fill="#f3a3a3" opacity="0.35"/>
<polygon points="398.0,252.4 439.3,229.8 444.2,238.4 403.6,262.3" fill="url(#c116)"/>
<linearGradient id="c117" gradientUnits="userSpaceOnUse" x1="454.3" y1="221.6" x2="458.9" y2="229.7"><stop offset="0" stop-color="#f6b1b1"/><stop offset="0.35" stop-color="#f28e8e"/><stop offset="0.7" stop-color="#ef7272"/><stop offset="1" stop-color="#cb6060"/></linearGradient>
<polygon points="438.1,227.7 468.3,211.5 474.7,222.9 445.4,240.5" fill="#f3a3a3" opacity="0.35"/>
<polygon points="439.3,229.8 469.4,213.4 473.6,221.0 444.2,238.4" fill="url(#c117)"/>
<linearGradient id="c118" gradientUnits="userSpaceOnUse" x1="480.8" y1="207.2" x2="484.8" y2="214.3"><stop offset="0" stop-color="#f6b1b1"/><stop offset="0.35" stop-color="#f28e8e"/><stop offset="0.7" stop-color="#ef7272"/><stop offset="1" stop-color="#cb6060"/></linearGradient>
<polygon points="468.3,211.5 491.2,199.2 497.0,209.4 474.7,222.9" fill="#f3a3a3" opacity="0.35"/>
<polygon points="469.4,213.4 492.2,200.9 496.0,207.7 473.6,221.0" fill="url(#c118)"/>
<linearGradient id="c119" gradientUnits="userSpaceOnUse" x1="501.2" y1="196.0" x2="504.8" y2="202.5"><stop offset="0" stop-color="#f6b1b1"/><stop offset="0.35" stop-color="#f28e8e"/><stop offset="0.7" stop-color="#ef7272"/><stop offset="1" stop-color="#cb6060"/></linearGradient>
<polygon points="491.2,199.2 509.3,189.6 514.5,198.8 497.0,209.4" fill="#f3a3a3" opacity="0.35"/>
<polygon points="492.2,200.9 510.1,191.1 513.6,197.3 496.0,207.7" fill="url(#c119)"/>
<linearGradient id="c120" gradientUnits="userSpaceOnUse" x1="517.4" y1="187.2" x2="520.7" y2="193.1"><stop offset="0" stop-color="#f6b1b1"/><stop offset="0.35" stop-color="#f28e8e"/><stop offset="0.7" stop-color="#ef7272"/><stop offset="1" stop-color="#cb6060"/></linearGradient>
<polygon points="509.3,189.6 523.8,181.8 528.6,190.3 514.5,198.8" fill="#f3a3a3" opacity="0.35"/>
<polygon points="510.1,191.1 524.6,183.2 527.8,188.9 513.6,197.3" fill="url(#c120)"/>
<circle cx="245.3" cy="345.8" r="8.5" fill="#cb6060"/>
<circle cx="245.3" cy="345.8" r="9.7" fill="none" stroke="#f6b4b4" stroke-width="1.6" opacity="0.7"/>
<linearGradient id="c121" gradientUnits="userSpaceOnUse" x1="364.4" y1="460.5" x2="376.2" y2="470.2"><stop offset="0" stop-color="#f6b1b1"/><stop offset="0.35" stop-color="#f28e8e"/><stop offset="0.7" stop-color="#ef7272"/><stop offset="1" stop-color="#cb6060"/></linearGradient>
<polygon points="322.6,503.6 400.2,412.6 416.0,425.4 342.4,519.8" fill="#f3a3a3" opacity="0.35"/>
<polygon points="325.9,506.3 402.8,414.7 413.3,423.3 339.1,517.1" fill="url(#c121)"/>
<linearGradient id="c122" gradientUnits="userSpaceOnUse" x1="426.9" y1="386.1" x2="436.5" y2="394.0"><stop offset="0" stop-color="#993c3c"/><stop offset="0.3" stop-color="#ac5f5f"/><stop offset="0.65" stop-color="#8c2222"/><stop offset="1" stop-color="#621717"/></linearGradient>
<polygon points="402.8,414.7 450.9,357.5 459.7,364.7 413.3,423.3" fill="url(#c122)"/>
<linearGradient id="c123" gradientUnits="userSpaceOnUse" x1="467.4" y1="337.9" x2="475.6" y2="344.6"><stop offset="0" stop-color="#f6b1b1"/><stop offset="0.35" stop-color="#f28e8e"/><stop offset="0.7" stop-color="#ef7272"/><stop offset="1" stop-color="#cb6060"/></linearGradient>
<polygon points="448.7,355.7 481.9,316.8 493.4,326.1 461.9,366.5" fill="#f3a3a3" opacity="0.35"/>
<polygon points="450.9,357.5 483.8,318.3 491.4,324.5 459.7,364.7" fill="url(#c123)"/>
<linearGradient id="c124" gradientUnits="userSpaceOnUse" x1="495.8" y1="304.1" x2="503.0" y2="309.9"><stop offset="0" stop-color="#f6b1b1"/><stop offset="0.35" stop-color="#f28e8e"/><stop offset="0.7" stop-color="#ef7272"/><stop offset="1" stop-color="#cb6060"/></linearGradient>
<polygon points="481.9,316.8 506.1,288.5 516.2,296.7 493.4,326.1" fill="#f3a3a3" opacity="0.35"/>
<polygon points="483.8,318.3 507.8,289.8 514.5,295.3 491.4,324.5" fill="url(#c124)"/>
<linearGradient id="c125" gradientUnits="userSpaceOnUse" x1="516.9" y1="279.0" x2="523.3" y2="284.2"><stop offset="0" stop-color="#f6b1b1"/><stop offset="0.35" stop-color="#f28e8e"/><stop offset="0.7" stop-color="#ef7272"/><stop offset="1" stop-color="#cb6060"/></linearGradient>
<polygon points="506.1,288.5 524.5,267.0 533.5,274.4 516.2,296.7" fill="#f3a3a3" opacity="0.35"/>
<polygon points="507.8,289.8 526.0,268.2 532.0,273.1 514.5,295.3" fill="url(#c125)"/>
<linearGradient id="c126" gradientUnits="userSpaceOnUse" x1="533.1" y1="259.7" x2="538.9" y2="264.4"><stop offset="0" stop-color="#565656"/><stop offset="0.3" stop-color="#747474"/><stop offset="0.65" stop-color="#3f3f3f"/><stop offset="1" stop-color="#2c2c2c"/></linearGradient>
<polygon points="526.0,268.2 540.3,251.2 545.8,255.7 532.0,273.1" fill="url(#c126)"/>
<linearGradient id="c127" gradientUnits="userSpaceOnUse" x1="546.1" y1="244.4" x2="551.3" y2="248.7"><stop offset="0" stop-color="#5b5b5b"/><stop offset="0.3" stop-color="#797979"/><stop offset="0.65" stop-color="#454545"/><stop offset="1" stop-color="#303030"/></linearGradient>
<polygon points="540.3,251.2 551.8,237.5 556.9,241.6 545.8,255.7" fill="url(#c127)"/>
<line x1="542.6" y1="248.5" x2="548.0" y2="252.9" stroke="#313131" stroke-width="1.0"/>
<line x1="544.9" y1="245.7" x2="550.2" y2="250.1" stroke="#313131" stroke-width="1.0"/>
<line x1="547.2" y1="243.0" x2="552.4" y2="247.3" stroke="#313131" stroke-width="1.0"/>
<line x1="549.5" y1="240.3" x2="554.7" y2="244.4" stroke="#313131" stroke-width="1.0"/>
<circle cx="332.5" cy="511.7" r="8.5" fill="#cb6060"/>
<circle cx="332.5" cy="511.7" r="9.7" fill="none" stroke="#f6b4b4" stroke-width="1.6" opacity="0.7"/>
<linearGradient id="c128" gradientUnits="userSpaceOnUse" x1="314.4" y1="223.4" x2="318.7" y2="235.7"><stop offset="0" stop-color="#5b5b5b"/><stop offset="0.3" stop-color="#797979"/><stop offset="0.65" stop-color="#454545"/><stop offset="1" stop-color="#303030"/></linearGradient>
<polygon points="278.7,235.2 350.1,211.6 354.0,222.8 283.3,248.6" fill="url(#c128)"/>
<line x1="293.0" y1="230.5" x2="297.5" y2="243.4" stroke="#313131" stroke-width="2.0"/>
<line x1="307.3" y1="225.8" x2="311.6" y2="238.3" stroke="#313131" stroke-width="2.0"/>
<line x1="321.5" y1="221.0" x2="325.7" y2="233.1" stroke="#313131" stroke-width="2.0"/>
<line x1="335.8" y1="216.3" x2="339.9" y2="227.9" stroke="#313131" stroke-width="2.0"/>
<circle cx="281.0" cy="241.9" r="7.1" fill="#3a3a3a"/>
<linearGradient id="c129" gradientUnits="userSpaceOnUse" x1="360.1" y1="320.4" x2="370.2" y2="334.1"><stop offset="0" stop-color="#df6f6f"/><stop offset="0.3" stop-color="#e58989"/><stop offset="0.65" stop-color="#db5c5c"/><stop offset="1" stop-color="#994040"/></linearGradient>
<polygon points="321.1,348.0 399.1,292.8 408.1,305.0 332.3,363.2" fill="url(#c129)"/>
<linearGradient id="c130" gradientUnits="userSpaceOnUse" x1="423.5" y1="275.6" x2="431.8" y2="286.8"><stop offset="0" stop-color="#df6f6f"/><stop offset="0.3" stop-color="#e58989"/><stop offset="0.65" stop-color="#db5c5c"/><stop offset="1" stop-color="#994040"/></linearGradient>
<polygon points="399.1,292.8 447.9,258.4 455.5,268.6 408.1,305.0" fill="url(#c130)"/>
<linearGradient id="c131" gradientUnits="userSpaceOnUse" x1="464.6" y1="246.6" x2="471.7" y2="256.2"><stop offset="0" stop-color="#df6f6f"/><stop offset="0.3" stop-color="#e58989"/><stop offset="0.65" stop-color="#db5c5c"/><stop offset="1" stop-color="#994040"/></linearGradient>
<polygon points="447.9,258.4 481.3,234.8 487.8,243.7 455.5,268.6" fill="url(#c131)"/>
<linearGradient id="c132" gradientUnits="userSpaceOnUse" x1="493.5" y1="226.3" x2="499.6" y2="234.6"><stop offset="0" stop-color="#df6f6f"/><stop offset="0.3" stop-color="#e58989"/><stop offset="0.65" stop-color="#db5c5c"/><stop offset="1" stop-color="#994040"/></linearGradient>
<polygon points="481.3,234.8 505.6,217.7 511.4,225.5 487.8,243.7" fill="url(#c132)"/>
<linearGradient id="c133" gradientUnits="userSpaceOnUse" x1="514.9" y1="211.2" x2="520.3" y2="218.6"><stop offset="0" stop-color="#df6f6f"/><stop offset="0.3" stop-color="#e58989"/><stop offset="0.65" stop-color="#db5c5c"/><stop offset="1" stop-color="#994040"/></linearGradient>
<polygon points="505.6,217.7 524.1,204.7 529.3,211.7 511.4,225.5" fill="url(#c133)"/>
<linearGradient id="c134" gradientUnits="userSpaceOnUse" x1="531.4" y1="199.6" x2="536.3" y2="206.3"><stop offset="0" stop-color="#df6f6f"/><stop offset="0.3" stop-color="#e58989"/><stop offset="0.65" stop-color="#db5c5c"/><stop offset="1" stop-color="#994040"/></linearGradient>
<polygon points="524.1,204.7 538.6,194.5 543.3,200.9 529.3,211.7" fill="url(#c134)"/>
<line x1="527.0" y1="202.7" x2="532.1" y2="209.6" stroke="#9d4242" stroke-width="1.2"/>
<line x1="529.9" y1="200.6" x2="534.9" y2="207.4" stroke="#9d4242" stroke-width="1.2"/>
<line x1="532.8" y1="198.6" x2="537.7" y2="205.2" stroke="#9d4242" stroke-width="1.2"/>
<line x1="535.7" y1="196.6" x2="540.5" y2="203.1" stroke="#9d4242" stroke-width="1.2"/>
<circle cx="326.7" cy="355.6" r="9.5" fill="#ba4e4e"/>
<linearGradient id="c135" gradientUnits="userSpaceOnUse" x1="381.2" y1="323.4" x2="391.9" y2="336.8"><stop offset="0" stop-color="#df6f6f"/><stop offset="0.3" stop-color="#e58989"/><stop offset="0.65" stop-color="#db5c5c"/><stop offset="1" stop-color="#994040"/></linearGradient>
<polygon points="344.9,351.4 417.5,295.5 427.0,307.3 356.9,366.2" fill="url(#c135)"/>
<line x1="359.4" y1="340.2" x2="370.9" y2="354.4" stroke="#9d4242" stroke-width="2.6"/>
<line x1="374.0" y1="329.0" x2="384.9" y2="342.6" stroke="#9d4242" stroke-width="2.6"/>
<line x1="388.5" y1="317.8" x2="398.9" y2="330.9" stroke="#9d4242" stroke-width="2.6"/>
<line x1="403.0" y1="306.7" x2="413.0" y2="319.1" stroke="#9d4242" stroke-width="2.6"/>
<linearGradient id="c136" gradientUnits="userSpaceOnUse" x1="440.1" y1="278.0" x2="448.9" y2="288.9"><stop offset="0" stop-color="#df6f6f"/><stop offset="0.3" stop-color="#e58989"/><stop offset="0.65" stop-color="#db5c5c"/><stop offset="1" stop-color="#994040"/></linearGradient>
<polygon points="417.5,295.5 462.8,260.5 470.8,270.5 427.0,307.3" fill="url(#c136)"/>
<line x1="426.5" y1="288.5" x2="435.8" y2="299.9" stroke="#9d4242" stroke-width="2.1"/>
<line x1="435.6" y1="281.5" x2="444.5" y2="292.6" stroke="#9d4242" stroke-width="2.1"/>
<line x1="444.7" y1="274.5" x2="453.3" y2="285.2" stroke="#9d4242" stroke-width="2.1"/>
<line x1="453.7" y1="267.5" x2="462.0" y2="277.8" stroke="#9d4242" stroke-width="2.1"/>
<linearGradient id="c137" gradientUnits="userSpaceOnUse" x1="478.3" y1="248.6" x2="485.8" y2="257.8"><stop offset="0" stop-color="#df6f6f"/><stop offset="0.3" stop-color="#e58989"/><stop offset="0.65" stop-color="#db5c5c"/><stop offset="1" stop-color="#994040"/></linearGradient>
<polygon points="462.8,260.5 493.9,236.7 500.8,245.2 470.8,270.5" fill="url(#c137)"/>
<line x1="469.0" y1="255.8" x2="476.8" y2="265.4" stroke="#9d4242" stroke-width="1.8"/>
<line x1="475.2" y1="251.0" x2="482.8" y2="260.4" stroke="#9d4242" stroke-width="1.8"/>
<line x1="481.4" y1="246.2" x2="488.8" y2="255.3" stroke="#9d4242" stroke-width="1.8"/>
<line x1="487.7" y1="241.4" x2="494.8" y2="250.3" stroke="#9d4242" stroke-width="1.8"/>
<linearGradient id="c138" gradientUnits="userSpaceOnUse" x1="505.2" y1="228.0" x2="511.7" y2="236.1"><stop offset="0" stop-color="#df6f6f"/><stop offset="0.3" stop-color="#e58989"/><stop offset="0.65" stop-color="#db5c5c"/><stop offset="1" stop-color="#994040"/></linearGradient>
<polygon points="493.9,236.7 516.5,219.3 522.5,226.9 500.8,245.2" fill="url(#c138)"/>
<line x1="498.4" y1="233.2" x2="505.1" y2="241.6" stroke="#9d4242" stroke-width="1.6"/>
<line x1="502.9" y1="229.7" x2="509.5" y2="237.9" stroke="#9d4242" stroke-width="1.6"/>
<line x1="507.4" y1="226.2" x2="513.8" y2="234.2" stroke="#9d4242" stroke-width="1.6"/>
<line x1="511.9" y1="222.8" x2="518.2" y2="230.5" stroke="#9d4242" stroke-width="1.6"/>
<linearGradient id="c139" gradientUnits="userSpaceOnUse" x1="525.0" y1="212.7" x2="530.8" y2="219.9"><stop offset="0" stop-color="#df6f6f"/><stop offset="0.3" stop-color="#e58989"/><stop offset="0.65" stop-color="#db5c5c"/><stop offset="1" stop-color="#994040"/></linearGradient>
<polygon points="516.5,219.3 533.6,206.1 539.1,212.9 522.5,226.9" fill="url(#c139)"/>
<line x1="519.9" y1="216.7" x2="525.9" y2="224.1" stroke="#9d4242" stroke-width="1.4"/>
<line x1="523.3" y1="214.0" x2="529.2" y2="221.3" stroke="#9d4242" stroke-width="1.4"/>
<line x1="526.8" y1="211.4" x2="532.5" y2="218.5" stroke="#9d4242" stroke-width="1.4"/>
<line x1="530.2" y1="208.8" x2="535.8" y2="215.7" stroke="#9d4242" stroke-width="1.4"/>
<linearGradient id="c140" gradientUnits="userSpaceOnUse" x1="540.4" y1="200.9" x2="545.6" y2="207.4"><stop offset="0" stop-color="#993c3c"/><stop offset="0.3" stop-color="#ac5f5f"/><stop offset="0.65" stop-color="#8c2222"/><stop offset="1" stop-color="#621717"/></linearGradient>
<polygon points="533.6,206.1 547.1,195.8 552.1,201.9 539.1,212.9" fill="url(#c140)"/>
<line x1="536.3" y1="204.1" x2="541.7" y2="210.7" stroke="#641818" stroke-width="1.2"/>
<line x1="539.0" y1="202.0" x2="544.3" y2="208.5" stroke="#641818" stroke-width="1.2"/>
<line x1="541.7" y1="199.9" x2="546.9" y2="206.3" stroke="#641818" stroke-width="1.2"/>
<line x1="544.4" y1="197.8" x2="549.5" y2="204.1" stroke="#641818" stroke-width="1.2"/>
<circle cx="350.9" cy="358.8" r="9.5" fill="#ba4e4e"/>
<linearGradient id="c141" gradientUnits="userSpaceOnUse" x1="362.2" y1="373.6" x2="373.8" y2="386.2"><stop offset="0" stop-color="#df6f6f"/><stop offset="0.3" stop-color="#e58989"/><stop offset="0.65" stop-color="#db5c5c"/><stop offset="1" stop-color="#994040"/></linearGradient>
<polygon points="323.5,408.1 400.9,339.1 411.2,350.3 336.3,422.1" fill="url(#c141)"/>
<line x1="338.9" y1="394.3" x2="351.3" y2="407.7" stroke="#9d4242" stroke-width="2.6"/>
<line x1="354.4" y1="380.5" x2="366.3" y2="393.4" stroke="#9d4242" stroke-width="2.6"/>
<line x1="369.9" y1="366.7" x2="381.3" y2="379.0" stroke="#9d4242" stroke-width="2.6"/>
<line x1="385.4" y1="352.9" x2="396.3" y2="364.6" stroke="#9d4242" stroke-width="2.6"/>
<linearGradient id="c142" gradientUnits="userSpaceOnUse" x1="425.1" y1="317.6" x2="434.6" y2="327.8"><stop offset="0" stop-color="#df6f6f"/><stop offset="0.3" stop-color="#e58989"/><stop offset="0.65" stop-color="#db5c5c"/><stop offset="1" stop-color="#994040"/></linearGradient>
<polygon points="400.9,339.1 449.4,296.0 458.0,305.4 411.2,350.3" fill="url(#c142)"/>
<linearGradient id="c143" gradientUnits="userSpaceOnUse" x1="465.9" y1="281.3" x2="474.0" y2="290.0"><stop offset="0" stop-color="#993c3c"/><stop offset="0.3" stop-color="#ac5f5f"/><stop offset="0.65" stop-color="#8c2222"/><stop offset="1" stop-color="#621717"/></linearGradient>
<polygon points="449.4,296.0 482.5,266.5 490.0,274.6 458.0,305.4" fill="url(#c143)"/>
<line x1="456.0" y1="290.1" x2="464.4" y2="299.2" stroke="#641818" stroke-width="1.8"/>
<line x1="462.6" y1="284.2" x2="470.8" y2="293.1" stroke="#641818" stroke-width="1.8"/>
<line x1="469.3" y1="278.3" x2="477.2" y2="286.9" stroke="#641818" stroke-width="1.8"/>
<line x1="475.9" y1="272.4" x2="483.6" y2="280.8" stroke="#641818" stroke-width="1.8"/>
<linearGradient id="c144" gradientUnits="userSpaceOnUse" x1="494.6" y1="255.8" x2="501.6" y2="263.4"><stop offset="0" stop-color="#993c3c"/><stop offset="0.3" stop-color="#ac5f5f"/><stop offset="0.65" stop-color="#8c2222"/><stop offset="1" stop-color="#621717"/></linearGradient>
<polygon points="482.5,266.5 506.7,245.1 513.3,252.3 490.0,274.6" fill="url(#c144)"/>
<line x1="487.4" y1="262.3" x2="494.7" y2="270.1" stroke="#641818" stroke-width="1.6"/>
<line x1="492.2" y1="258.0" x2="499.3" y2="265.7" stroke="#641818" stroke-width="1.6"/>
<line x1="497.0" y1="253.7" x2="504.0" y2="261.2" stroke="#641818" stroke-width="1.6"/>
<line x1="501.8" y1="249.4" x2="508.6" y2="256.7" stroke="#641818" stroke-width="1.6"/>
<linearGradient id="c145" gradientUnits="userSpaceOnUse" x1="515.8" y1="237.0" x2="522.1" y2="243.7"><stop offset="0" stop-color="#565656"/><stop offset="0.3" stop-color="#747474"/><stop offset="0.65" stop-color="#3f3f3f"/><stop offset="1" stop-color="#2c2c2c"/></linearGradient>
<polygon points="506.7,245.1 525.0,228.8 530.9,235.2 513.3,252.3" fill="url(#c145)"/>
<linearGradient id="c146" gradientUnits="userSpaceOnUse" x1="532.2" y1="222.4" x2="537.9" y2="228.6"><stop offset="0" stop-color="#5b5b5b"/><stop offset="0.3" stop-color="#797979"/><stop offset="0.65" stop-color="#454545"/><stop offset="1" stop-color="#303030"/></linearGradient>
<polygon points="525.0,228.8 539.4,216.1 544.8,221.9 530.9,235.2" fill="url(#c146)"/>
<line x1="527.9" y1="226.3" x2="533.7" y2="232.6" stroke="#313131" stroke-width="1.2"/>
<line x1="530.8" y1="223.7" x2="536.5" y2="229.9" stroke="#313131" stroke-width="1.2"/>
<line x1="533.7" y1="221.2" x2="539.2" y2="227.2" stroke="#313131" stroke-width="1.2"/>
<line x1="536.5" y1="218.6" x2="542.0" y2="224.5" stroke="#313131" stroke-width="1.2"/>
<circle cx="329.9" cy="415.1" r="9.5" fill="#ba4e4e"/>
<linearGradient id="c147" gradientUnits="userSpaceOnUse" x1="362.0" y1="392.4" x2="374.0" y2="404.6"><stop offset="0" stop-color="#df6f6f"/><stop offset="0.3" stop-color="#e58989"/><stop offset="0.65" stop-color="#db5c5c"/><stop offset="1" stop-color="#994040"/></linearGradient>
<polygon points="323.2,429.3 400.7,355.4 411.4,366.3 336.6,442.9" fill="url(#c147)"/>
<linearGradient id="c148" gradientUnits="userSpaceOnUse" x1="425.0" y1="332.4" x2="434.8" y2="342.3"><stop offset="0" stop-color="#df6f6f"/><stop offset="0.3" stop-color="#e58989"/><stop offset="0.65" stop-color="#db5c5c"/><stop offset="1" stop-color="#994040"/></linearGradient>
<polygon points="400.7,355.4 449.2,309.3 458.2,318.3 411.4,366.3" fill="url(#c148)"/>
<linearGradient id="c149" gradientUnits="userSpaceOnUse" x1="465.8" y1="293.5" x2="474.1" y2="301.9"><stop offset="0" stop-color="#993c3c"/><stop offset="0.3" stop-color="#ac5f5f"/><stop offset="0.65" stop-color="#8c2222"/><stop offset="1" stop-color="#621717"/></linearGradient>
<polygon points="449.2,309.3 482.4,277.7 490.1,285.5 458.2,318.3" fill="url(#c149)"/>
<line x1="455.8" y1="303.0" x2="464.6" y2="311.8" stroke="#641818" stroke-width="1.8"/>
<line x1="462.5" y1="296.7" x2="471.0" y2="305.2" stroke="#641818" stroke-width="1.8"/>
<line x1="469.1" y1="290.3" x2="477.3" y2="298.7" stroke="#641818" stroke-width="1.8"/>
<line x1="475.8" y1="284.0" x2="483.7" y2="292.1" stroke="#641818" stroke-width="1.8"/>
<linearGradient id="c150" gradientUnits="userSpaceOnUse" x1="494.5" y1="266.2" x2="501.8" y2="273.6"><stop offset="0" stop-color="#565656"/><stop offset="0.3" stop-color="#747474"/><stop offset="0.65" stop-color="#3f3f3f"/><stop offset="1" stop-color="#2c2c2c"/></linearGradient>
<polygon points="482.4,277.7 506.5,254.8 513.4,261.7 490.1,285.5" fill="url(#c150)"/>
<linearGradient id="c151" gradientUnits="userSpaceOnUse" x1="515.7" y1="246.1" x2="522.2" y2="252.6"><stop offset="0" stop-color="#565656"/><stop offset="0.3" stop-color="#747474"/><stop offset="0.65" stop-color="#3f3f3f"/><stop offset="1" stop-color="#2c2c2c"/></linearGradient>
<polygon points="506.5,254.8 524.9,237.3 531.0,243.5 513.4,261.7" fill="url(#c151)"/>
<linearGradient id="c152" gradientUnits="userSpaceOnUse" x1="532.1" y1="230.5" x2="538.0" y2="236.4"><stop offset="0" stop-color="#5b5b5b"/><stop offset="0.3" stop-color="#797979"/><stop offset="0.65" stop-color="#454545"/><stop offset="1" stop-color="#303030"/></linearGradient>
<polygon points="524.9,237.3 539.3,223.6 544.9,229.3 531.0,243.5" fill="url(#c152)"/>
<line x1="527.8" y1="234.6" x2="533.8" y2="240.7" stroke="#313131" stroke-width="1.2"/>
<line x1="530.7" y1="231.9" x2="536.6" y2="237.8" stroke="#313131" stroke-width="1.2"/>
<line x1="533.6" y1="229.1" x2="539.3" y2="235.0" stroke="#313131" stroke-width="1.2"/>
<line x1="536.4" y1="226.4" x2="542.1" y2="232.1" stroke="#313131" stroke-width="1.2"/>
<circle cx="329.9" cy="436.1" r="9.5" fill="#ba4e4e"/>
<linearGradient id="c153" gradientUnits="userSpaceOnUse" x1="433.4" y1="328.7" x2="445.6" y2="340.7"><stop offset="0" stop-color="#919191"/><stop offset="0.3" stop-color="#a5a5a5"/><stop offset="0.65" stop-color="#828282"/><stop offset="1" stop-color="#5b5b5b"/></linearGradient>
<polygon points="403.9,357.3 462.8,300.1 473.7,310.7 417.5,370.7" fill="url(#c153)"/>
<linearGradient id="c154" gradientUnits="userSpaceOnUse" x1="481.2" y1="282.2" x2="491.2" y2="292.0"><stop offset="0" stop-color="#919191"/><stop offset="0.3" stop-color="#a5a5a5"/><stop offset="0.65" stop-color="#828282"/><stop offset="1" stop-color="#5b5b5b"/></linearGradient>
<polygon points="462.8,300.1 499.6,264.3 508.7,273.2 473.7,310.7" fill="url(#c154)"/>
<linearGradient id="c155" gradientUnits="userSpaceOnUse" x1="512.3" y1="252.1" x2="520.7" y2="260.4"><stop offset="0" stop-color="#565656"/><stop offset="0.3" stop-color="#747474"/><stop offset="0.65" stop-color="#3f3f3f"/><stop offset="1" stop-color="#2c2c2c"/></linearGradient>
<polygon points="499.6,264.3 524.9,239.8 532.7,247.5 508.7,273.2" fill="url(#c155)"/>
<linearGradient id="c156" gradientUnits="userSpaceOnUse" x1="534.0" y1="230.9" x2="541.4" y2="238.2"><stop offset="0" stop-color="#919191"/><stop offset="0.3" stop-color="#a5a5a5"/><stop offset="0.65" stop-color="#828282"/><stop offset="1" stop-color="#5b5b5b"/></linearGradient>
<polygon points="524.9,239.8 543.2,222.1 550.2,228.9 532.7,247.5" fill="url(#c156)"/>
<linearGradient id="c157" gradientUnits="userSpaceOnUse" x1="550.2" y1="215.3" x2="556.8" y2="221.8"><stop offset="0" stop-color="#565656"/><stop offset="0.3" stop-color="#747474"/><stop offset="0.65" stop-color="#3f3f3f"/><stop offset="1" stop-color="#2c2c2c"/></linearGradient>
<polygon points="543.2,222.1 557.2,208.5 563.4,214.7 550.2,228.9" fill="url(#c157)"/>
<linearGradient id="c158" gradientUnits="userSpaceOnUse" x1="562.7" y1="203.2" x2="568.6" y2="209.1"><stop offset="0" stop-color="#5b5b5b"/><stop offset="0.3" stop-color="#797979"/><stop offset="0.65" stop-color="#454545"/><stop offset="1" stop-color="#303030"/></linearGradient>
<polygon points="557.2,208.5 568.1,197.9 573.8,203.5 563.4,214.7" fill="url(#c158)"/>
<line x1="559.4" y1="206.4" x2="565.5" y2="212.4" stroke="#313131" stroke-width="1.2"/>
<line x1="561.6" y1="204.3" x2="567.6" y2="210.2" stroke="#313131" stroke-width="1.2"/>
<line x1="563.8" y1="202.2" x2="569.6" y2="208.0" stroke="#313131" stroke-width="1.2"/>
<line x1="565.9" y1="200.1" x2="571.7" y2="205.7" stroke="#313131" stroke-width="1.2"/>
<circle cx="410.7" cy="364.0" r="9.5" fill="#6e6e6e"/>
<linearGradient id="c159" gradientUnits="userSpaceOnUse" x1="434.0" y1="350.4" x2="446.7" y2="361.8"><stop offset="0" stop-color="#989898"/><stop offset="0.3" stop-color="#aaaaaa"/><stop offset="0.65" stop-color="#8a8a8a"/><stop offset="1" stop-color="#606060"/></linearGradient>
<polygon points="404.6,381.9 463.3,318.9 474.7,329.1 418.8,394.5" fill="url(#c159)"/>
<line x1="416.4" y1="369.3" x2="430.0" y2="381.4" stroke="#636363" stroke-width="2.6"/>
<line x1="428.1" y1="356.7" x2="441.1" y2="368.3" stroke="#636363" stroke-width="2.6"/>
<line x1="439.8" y1="344.1" x2="452.3" y2="355.2" stroke="#636363" stroke-width="2.6"/>
<line x1="451.6" y1="331.5" x2="463.5" y2="342.2" stroke="#636363" stroke-width="2.6"/>
<linearGradient id="c160" gradientUnits="userSpaceOnUse" x1="481.7" y1="299.3" x2="492.1" y2="308.6"><stop offset="0" stop-color="#989898"/><stop offset="0.3" stop-color="#aaaaaa"/><stop offset="0.65" stop-color="#8a8a8a"/><stop offset="1" stop-color="#606060"/></linearGradient>
<polygon points="463.3,318.9 500.1,279.6 509.6,288.1 474.7,329.1" fill="url(#c160)"/>
<line x1="470.7" y1="311.1" x2="481.6" y2="320.9" stroke="#636363" stroke-width="2.1"/>
<line x1="478.0" y1="303.2" x2="488.6" y2="312.7" stroke="#636363" stroke-width="2.1"/>
<line x1="485.4" y1="295.4" x2="495.6" y2="304.5" stroke="#636363" stroke-width="2.1"/>
<line x1="492.7" y1="287.5" x2="502.6" y2="296.3" stroke="#636363" stroke-width="2.1"/>
<linearGradient id="c161" gradientUnits="userSpaceOnUse" x1="512.6" y1="266.2" x2="521.5" y2="274.1"><stop offset="0" stop-color="#989898"/><stop offset="0.3" stop-color="#aaaaaa"/><stop offset="0.65" stop-color="#8a8a8a"/><stop offset="1" stop-color="#606060"/></linearGradient>
<polygon points="500.1,279.6 525.2,252.8 533.4,260.1 509.6,288.1" fill="url(#c161)"/>
<line x1="505.1" y1="274.3" x2="514.3" y2="282.5" stroke="#636363" stroke-width="1.8"/>
<line x1="510.1" y1="268.9" x2="519.1" y2="276.9" stroke="#636363" stroke-width="1.8"/>
<line x1="515.1" y1="263.5" x2="523.9" y2="271.3" stroke="#636363" stroke-width="1.8"/>
<line x1="520.2" y1="258.1" x2="528.7" y2="265.7" stroke="#636363" stroke-width="1.8"/>
<linearGradient id="c162" gradientUnits="userSpaceOnUse" x1="534.4" y1="243.0" x2="542.1" y2="249.9"><stop offset="0" stop-color="#5b5b5b"/><stop offset="0.3" stop-color="#797979"/><stop offset="0.65" stop-color="#454545"/><stop offset="1" stop-color="#303030"/></linearGradient>
<polygon points="525.2,252.8 543.5,233.2 550.8,239.7 533.4,260.1" fill="url(#c162)"/>
<line x1="528.9" y1="248.8" x2="536.9" y2="256.0" stroke="#313131" stroke-width="1.6"/>
<line x1="532.5" y1="244.9" x2="540.4" y2="251.9" stroke="#313131" stroke-width="1.6"/>
<line x1="536.2" y1="241.0" x2="543.8" y2="247.8" stroke="#313131" stroke-width="1.6"/>
<line x1="539.8" y1="237.1" x2="547.3" y2="243.8" stroke="#313131" stroke-width="1.6"/>
<linearGradient id="c163" gradientUnits="userSpaceOnUse" x1="550.5" y1="225.8" x2="557.3" y2="231.9"><stop offset="0" stop-color="#5b5b5b"/><stop offset="0.3" stop-color="#797979"/><stop offset="0.65" stop-color="#454545"/><stop offset="1" stop-color="#303030"/></linearGradient>
<polygon points="543.5,233.2 557.4,218.4 563.9,224.2 550.8,239.7" fill="url(#c163)"/>
<line x1="546.3" y1="230.2" x2="553.4" y2="236.6" stroke="#313131" stroke-width="1.4"/>
<line x1="549.1" y1="227.3" x2="556.0" y2="233.5" stroke="#313131" stroke-width="1.4"/>
<line x1="551.9" y1="224.3" x2="558.7" y2="230.4" stroke="#313131" stroke-width="1.4"/>
<line x1="554.6" y1="221.3" x2="561.3" y2="227.3" stroke="#313131" stroke-width="1.4"/>
<circle cx="411.7" cy="388.2" r="9.5" fill="#757575"/>
<linearGradient id="c164" gradientUnits="userSpaceOnUse" x1="358.6" y1="242.5" x2="366.3" y2="258.8"><stop offset="0" stop-color="#919191"/><stop offset="0.3" stop-color="#a5a5a5"/><stop offset="0.65" stop-color="#828282"/><stop offset="1" stop-color="#5b5b5b"/></linearGradient>
<polygon points="319.3,260.0 397.8,225.1 404.6,239.5 327.9,278.0" fill="url(#c164)"/>
<linearGradient id="c165" gradientUnits="userSpaceOnUse" x1="422.3" y1="214.2" x2="428.6" y2="227.5"><stop offset="0" stop-color="#565656"/><stop offset="0.3" stop-color="#747474"/><stop offset="0.65" stop-color="#3f3f3f"/><stop offset="1" stop-color="#2c2c2c"/></linearGradient>
<polygon points="397.8,225.1 446.9,203.3 452.6,215.4 404.6,239.5" fill="url(#c165)"/>
<linearGradient id="c166" gradientUnits="userSpaceOnUse" x1="463.7" y1="195.9" x2="469.0" y2="207.2"><stop offset="0" stop-color="#919191"/><stop offset="0.3" stop-color="#a5a5a5"/><stop offset="0.65" stop-color="#828282"/><stop offset="1" stop-color="#5b5b5b"/></linearGradient>
<polygon points="446.9,203.3 480.5,188.4 485.4,198.9 452.6,215.4" fill="url(#c166)"/>
<linearGradient id="c167" gradientUnits="userSpaceOnUse" x1="492.7" y1="183.0" x2="497.4" y2="192.9"><stop offset="0" stop-color="#565656"/><stop offset="0.3" stop-color="#747474"/><stop offset="0.65" stop-color="#3f3f3f"/><stop offset="1" stop-color="#2c2c2c"/></linearGradient>
<polygon points="480.5,188.4 504.9,177.6 509.3,186.9 485.4,198.9" fill="url(#c167)"/>
<linearGradient id="c168" gradientUnits="userSpaceOnUse" x1="514.2" y1="173.5" x2="518.3" y2="182.3"><stop offset="0" stop-color="#919191"/><stop offset="0.3" stop-color="#a5a5a5"/><stop offset="0.65" stop-color="#828282"/><stop offset="1" stop-color="#5b5b5b"/></linearGradient>
<polygon points="504.9,177.6 523.5,169.5 527.4,177.7 509.3,186.9" fill="url(#c168)"/>
<linearGradient id="c169" gradientUnits="userSpaceOnUse" x1="530.8" y1="166.2" x2="534.5" y2="174.2"><stop offset="0" stop-color="#565656"/><stop offset="0.3" stop-color="#747474"/><stop offset="0.65" stop-color="#3f3f3f"/><stop offset="1" stop-color="#2c2c2c"/></linearGradient>
<polygon points="523.5,169.5 538.1,163.0 541.6,170.6 527.4,177.7" fill="url(#c169)"/>
<linearGradient id="c170" gradientUnits="userSpaceOnUse" x1="544.0" y1="160.4" x2="547.4" y2="167.7"><stop offset="0" stop-color="#919191"/><stop offset="0.3" stop-color="#a5a5a5"/><stop offset="0.65" stop-color="#828282"/><stop offset="1" stop-color="#5b5b5b"/></linearGradient>
<polygon points="538.1,163.0 549.9,157.8 553.1,164.7 541.6,170.6" fill="url(#c170)"/>
<linearGradient id="c171" gradientUnits="userSpaceOnUse" x1="554.7" y1="155.7" x2="557.8" y2="162.4"><stop offset="0" stop-color="#565656"/><stop offset="0.3" stop-color="#747474"/><stop offset="0.65" stop-color="#3f3f3f"/><stop offset="1" stop-color="#2c2c2c"/></linearGradient>
<polygon points="549.9,157.8 559.5,153.6 562.6,160.0 553.1,164.7" fill="url(#c171)"/>
<circle cx="323.6" cy="269.0" r="10.0" fill="#6e6e6e"/>
<linearGradient id="c172" gradientUnits="userSpaceOnUse" x1="360.0" y1="263.2" x2="368.6" y2="279.0"><stop offset="0" stop-color="#989898"/><stop offset="0.3" stop-color="#aaaaaa"/><stop offset="0.65" stop-color="#8a8a8a"/><stop offset="1" stop-color="#606060"/></linearGradient>
<polygon points="320.9,283.3 399.0,243.1 406.7,257.1 330.5,300.9" fill="url(#c172)"/>
<line x1="336.5" y1="275.3" x2="345.7" y2="292.1" stroke="#636363" stroke-width="2.7"/>
<line x1="352.2" y1="267.2" x2="361.0" y2="283.4" stroke="#636363" stroke-width="2.7"/>
<line x1="367.8" y1="259.2" x2="376.2" y2="274.6" stroke="#636363" stroke-width="2.7"/>
<line x1="383.4" y1="251.1" x2="391.4" y2="265.9" stroke="#636363" stroke-width="2.7"/>
<linearGradient id="c173" gradientUnits="userSpaceOnUse" x1="423.4" y1="230.5" x2="430.5" y2="243.4"><stop offset="0" stop-color="#f6b1b1"/><stop offset="0.35" stop-color="#f28e8e"/><stop offset="0.7" stop-color="#ef7272"/><stop offset="1" stop-color="#cb6060"/></linearGradient>
<polygon points="397.1,239.5 446.3,215.0 455.9,232.6 408.6,260.6" fill="#f3a3a3" opacity="0.35"/>
<polygon points="399.0,243.1 447.9,217.9 454.3,229.7 406.7,257.1" fill="url(#c173)"/>
<linearGradient id="c174" gradientUnits="userSpaceOnUse" x1="464.6" y1="209.3" x2="470.5" y2="220.3"><stop offset="0" stop-color="#f6b1b1"/><stop offset="0.35" stop-color="#f28e8e"/><stop offset="0.7" stop-color="#ef7272"/><stop offset="1" stop-color="#cb6060"/></linearGradient>
<polygon points="446.3,215.0 479.9,198.2 488.2,213.5 455.9,232.6" fill="#f3a3a3" opacity="0.35"/>
<polygon points="447.9,217.9 481.3,200.8 486.8,210.9 454.3,229.7" fill="url(#c174)"/>
<linearGradient id="c175" gradientUnits="userSpaceOnUse" x1="493.4" y1="194.5" x2="498.7" y2="204.1"><stop offset="0" stop-color="#df6f6f"/><stop offset="0.3" stop-color="#e58989"/><stop offset="0.65" stop-color="#db5c5c"/><stop offset="1" stop-color="#994040"/></linearGradient>
<polygon points="481.3,200.8 505.6,188.3 510.5,197.3 486.8,210.9" fill="url(#c175)"/>
<line x1="486.1" y1="198.3" x2="491.6" y2="208.2" stroke="#9d4242" stroke-width="1.6"/>
<line x1="491.0" y1="195.8" x2="496.3" y2="205.5" stroke="#9d4242" stroke-width="1.6"/>
<line x1="495.9" y1="193.3" x2="501.0" y2="202.7" stroke="#9d4242" stroke-width="1.6"/>
<line x1="500.7" y1="190.8" x2="505.8" y2="200.0" stroke="#9d4242" stroke-width="1.6"/>
<linearGradient id="c176" gradientUnits="userSpaceOnUse" x1="514.8" y1="183.5" x2="519.5" y2="192.1"><stop offset="0" stop-color="#df6f6f"/><stop offset="0.3" stop-color="#e58989"/><stop offset="0.65" stop-color="#db5c5c"/><stop offset="1" stop-color="#994040"/></linearGradient>
<polygon points="505.6,188.3 524.1,178.8 528.5,186.9 510.5,197.3" fill="url(#c176)"/>
<line x1="509.3" y1="186.4" x2="514.1" y2="195.2" stroke="#9d4242" stroke-width="1.5"/>
<line x1="513.0" y1="184.5" x2="517.7" y2="193.1" stroke="#9d4242" stroke-width="1.5"/>
<line x1="516.7" y1="182.6" x2="521.3" y2="191.0" stroke="#9d4242" stroke-width="1.5"/>
<line x1="520.4" y1="180.7" x2="524.9" y2="188.9" stroke="#9d4242" stroke-width="1.5"/>
<linearGradient id="c177" gradientUnits="userSpaceOnUse" x1="531.3" y1="175.1" x2="535.5" y2="182.8"><stop offset="0" stop-color="#993c3c"/><stop offset="0.3" stop-color="#ac5f5f"/><stop offset="0.65" stop-color="#8c2222"/><stop offset="1" stop-color="#621717"/></linearGradient>
<polygon points="524.1,178.8 538.6,171.4 542.6,178.7 528.5,186.9" fill="url(#c177)"/>
<line x1="527.0" y1="177.3" x2="531.3" y2="185.2" stroke="#641818" stroke-width="1.3"/>
<line x1="529.9" y1="175.8" x2="534.1" y2="183.6" stroke="#641818" stroke-width="1.3"/>
<line x1="532.8" y1="174.3" x2="537.0" y2="182.0" stroke="#641818" stroke-width="1.3"/>
<line x1="535.7" y1="172.9" x2="539.8" y2="180.3" stroke="#641818" stroke-width="1.3"/>
<linearGradient id="c178" gradientUnits="userSpaceOnUse" x1="544.5" y1="168.4" x2="548.3" y2="175.4"><stop offset="0" stop-color="#df6f6f"/><stop offset="0.3" stop-color="#e58989"/><stop offset="0.65" stop-color="#db5c5c"/><stop offset="1" stop-color="#994040"/></linearGradient>
<polygon points="538.6,171.4 550.3,165.4 554.0,172.1 542.6,178.7" fill="url(#c178)"/>
<line x1="541.0" y1="170.2" x2="544.9" y2="177.4" stroke="#9d4242" stroke-width="1.2"/>
<line x1="543.3" y1="169.0" x2="547.2" y2="176.1" stroke="#9d4242" stroke-width="1.2"/>
<line x1="545.6" y1="167.8" x2="549.4" y2="174.7" stroke="#9d4242" stroke-width="1.2"/>
<line x1="548.0" y1="166.6" x2="551.7" y2="173.4" stroke="#9d4242" stroke-width="1.2"/>
<circle cx="325.7" cy="292.1" r="10.0" fill="#757575"/>
<linearGradient id="c179" gradientUnits="userSpaceOnUse" x1="447.0" y1="157.3" x2="448.9" y2="165.6"><stop offset="0" stop-color="#c0c0c0"/><stop offset="0.3" stop-color="#cbcbcb"/><stop offset="0.65" stop-color="#b8b8b8"/><stop offset="1" stop-color="#808080"/></linearGradient>
<polygon points="431.7,160.7 462.3,153.9 464.1,161.7 433.7,169.5" fill="url(#c179)"/>
<line x1="437.8" y1="159.4" x2="439.8" y2="167.9" stroke="#848484" stroke-width="1.3"/>
<line x1="443.9" y1="158.0" x2="445.9" y2="166.4" stroke="#848484" stroke-width="1.3"/>
<line x1="450.0" y1="156.6" x2="452.0" y2="164.8" stroke="#848484" stroke-width="1.3"/>
<line x1="456.1" y1="155.3" x2="458.1" y2="163.2" stroke="#848484" stroke-width="1.3"/>
<circle cx="432.7" cy="165.1" r="4.5" fill="#9c9c9c"/>
<linearGradient id="c180" gradientUnits="userSpaceOnUse" x1="497.1" y1="155.7" x2="499.6" y2="163.0"><stop offset="0" stop-color="#b9b9b9"/><stop offset="0.3" stop-color="#c6c6c6"/><stop offset="0.65" stop-color="#b0b0b0"/><stop offset="1" stop-color="#7b7b7b"/></linearGradient>
<polygon points="489.2,158.2 505.0,153.1 507.4,160.3 491.8,165.8" fill="url(#c180)"/>
<line x1="492.4" y1="157.2" x2="494.9" y2="164.7" stroke="#7e7e7e" stroke-width="1.2"/>
<line x1="495.5" y1="156.2" x2="498.0" y2="163.6" stroke="#7e7e7e" stroke-width="1.2"/>
<line x1="498.7" y1="155.1" x2="501.2" y2="162.5" stroke="#7e7e7e" stroke-width="1.2"/>
<line x1="501.8" y1="154.1" x2="504.3" y2="161.4" stroke="#7e7e7e" stroke-width="1.2"/>
<circle cx="490.5" cy="162.0" r="4.0" fill="#959595"/>
<linearGradient id="c181" gradientUnits="userSpaceOnUse" x1="532.0" y1="154.8" x2="535.0" y2="161.9"><stop offset="0" stop-color="#565656"/><stop offset="0.3" stop-color="#757575"/><stop offset="0.65" stop-color="#404040"/><stop offset="1" stop-color="#2c2c2c"/></linearGradient>
<polygon points="525.6,157.3 538.3,152.2 541.3,159.2 528.8,164.7" fill="url(#c181)"/>
<line x1="528.2" y1="156.3" x2="531.3" y2="163.6" stroke="#2e2e2e" stroke-width="1.2"/>
<line x1="530.7" y1="155.3" x2="533.8" y2="162.5" stroke="#2e2e2e" stroke-width="1.2"/>
<line x1="533.3" y1="154.2" x2="536.3" y2="161.4" stroke="#2e2e2e" stroke-width="1.2"/>
<line x1="535.8" y1="153.2" x2="538.8" y2="160.3" stroke="#2e2e2e" stroke-width="1.2"/>
<circle cx="527.2" cy="161.0" r="4.0" fill="#363636"/>
<linearGradient id="c182" gradientUnits="userSpaceOnUse" x1="543.5" y1="173.6" x2="546.5" y2="180.4"><stop offset="0" stop-color="#dc6d6d"/><stop offset="0.3" stop-color="#e28888"/><stop offset="0.65" stop-color="#d85a5a"/><stop offset="1" stop-color="#973e3e"/></linearGradient>
<polygon points="536.4,176.3 550.6,170.8 553.4,177.2 539.6,183.7" fill="url(#c182)"/>
<circle cx="538.0" cy="180.0" r="4.0" fill="#b74c4c"/>
<linearGradient id="c183" gradientUnits="userSpaceOnUse" x1="565.9" y1="183.1" x2="569.1" y2="189.9"><stop offset="0" stop-color="#dc6d6d"/><stop offset="0.3" stop-color="#e28888"/><stop offset="0.65" stop-color="#d85a5a"/><stop offset="1" stop-color="#973e3e"/></linearGradient>
<polygon points="558.3,186.4 573.5,179.8 576.5,186.2 561.7,193.6" fill="url(#c183)"/>
<circle cx="560.0" cy="190.0" r="4.0" fill="#b74c4c"/>
<linearGradient id="c184" gradientUnits="userSpaceOnUse" x1="568.6" y1="187.2" x2="572.8" y2="194.5"><stop offset="0" stop-color="#565656"/><stop offset="0.3" stop-color="#757575"/><stop offset="0.65" stop-color="#404040"/><stop offset="1" stop-color="#2c2c2c"/></linearGradient>
<polygon points="552.7,196.1 584.4,178.2 588.4,185.2 557.3,203.9" fill="url(#c184)"/>
<circle cx="555.0" cy="200.0" r="4.5" fill="#363636"/>
<linearGradient id="c185" gradientUnits="userSpaceOnUse" x1="576.9" y1="179.6" x2="579.9" y2="187.6"><stop offset="0" stop-color="#565656"/><stop offset="0.3" stop-color="#757575"/><stop offset="0.65" stop-color="#404040"/><stop offset="1" stop-color="#2c2c2c"/></linearGradient>
<polygon points="568.8,182.5 585.0,176.8 587.8,184.2 572.0,190.9" fill="url(#c185)"/>
<line x1="572.0" y1="181.4" x2="575.2" y2="189.6" stroke="#2e2e2e" stroke-width="1.3"/>
<line x1="575.2" y1="180.2" x2="578.4" y2="188.2" stroke="#2e2e2e" stroke-width="1.3"/>
<line x1="578.5" y1="179.1" x2="581.5" y2="186.9" stroke="#2e2e2e" stroke-width="1.3"/>
<line x1="581.7" y1="177.9" x2="584.7" y2="185.6" stroke="#2e2e2e" stroke-width="1.3"/>
<circle cx="570.4" cy="186.7" r="4.5" fill="#363636"/>
<linearGradient id="c186" gradientUnits="userSpaceOnUse" x1="581.5" y1="188.7" x2="586.3" y2="194.6"><stop offset="0" stop-color="#c7c7c7"/><stop offset="0.3" stop-color="#d1d1d1"/><stop offset="0.65" stop-color="#c0c0c0"/><stop offset="1" stop-color="#868686"/></linearGradient>
<polygon points="575.3,193.5 587.8,184.0 592.2,189.4 580.3,199.7" fill="url(#c186)"/>
<line x1="577.8" y1="191.6" x2="582.7" y2="197.6" stroke="#8a8a8a" stroke-width="1.1"/>
<line x1="580.3" y1="189.7" x2="585.1" y2="195.6" stroke="#8a8a8a" stroke-width="1.1"/>
<line x1="582.8" y1="187.8" x2="587.5" y2="193.5" stroke="#8a8a8a" stroke-width="1.1"/>
<line x1="585.3" y1="185.9" x2="589.8" y2="191.5" stroke="#8a8a8a" stroke-width="1.1"/>
<circle cx="577.8" cy="196.6" r="4.0" fill="#a3a3a3"/>
<linearGradient id="c187" gradientUnits="userSpaceOnUse" x1="524.0" y1="223.7" x2="529.8" y2="233.6"><stop offset="0" stop-color="#565656"/><stop offset="0.3" stop-color="#757575"/><stop offset="0.65" stop-color="#404040"/><stop offset="1" stop-color="#2c2c2c"/></linearGradient>
<polygon points="512.0,230.4 536.0,217.0 541.6,226.4 518.0,240.8" fill="url(#c187)"/>
<line x1="516.8" y1="227.7" x2="522.7" y2="237.9" stroke="#2e2e2e" stroke-width="1.7"/>
<line x1="521.6" y1="225.0" x2="527.4" y2="235.0" stroke="#2e2e2e" stroke-width="1.7"/>
<line x1="526.4" y1="222.3" x2="532.2" y2="232.2" stroke="#2e2e2e" stroke-width="1.7"/>
<line x1="531.2" y1="219.6" x2="536.9" y2="229.3" stroke="#2e2e2e" stroke-width="1.7"/>
<circle cx="515.0" cy="235.6" r="6.0" fill="#363636"/>
<linearGradient id="c188" gradientUnits="userSpaceOnUse" x1="528.6" y1="246.3" x2="537.1" y2="256.2"><stop offset="0" stop-color="#989898"/><stop offset="0.3" stop-color="#aaaaaa"/><stop offset="0.65" stop-color="#8a8a8a"/><stop offset="1" stop-color="#606060"/></linearGradient>
<polygon points="514.5,257.7 542.8,234.9 550.6,244.1 523.5,268.3" fill="url(#c188)"/>
<line x1="520.1" y1="253.1" x2="528.9" y2="263.5" stroke="#636363" stroke-width="1.9"/>
<line x1="525.8" y1="248.6" x2="534.3" y2="258.6" stroke="#636363" stroke-width="1.9"/>
<line x1="531.5" y1="244.0" x2="539.8" y2="253.8" stroke="#636363" stroke-width="1.9"/>
<line x1="537.1" y1="239.5" x2="545.2" y2="248.9" stroke="#636363" stroke-width="1.9"/>
<circle cx="519.0" cy="263.0" r="7.0" fill="#757575"/>
<linearGradient id="c189" gradientUnits="userSpaceOnUse" x1="533.9" y1="261.6" x2="541.8" y2="268.7"><stop offset="0" stop-color="#ce5353"/><stop offset="0.3" stop-color="#d77272"/><stop offset="0.65" stop-color="#c83c3c"/><stop offset="1" stop-color="#8c2a2a"/></linearGradient>
<polygon points="524.9,271.3 543.0,252.0 550.4,258.6 533.1,278.7" fill="url(#c189)"/>
<line x1="528.5" y1="267.5" x2="536.6" y2="274.7" stroke="#902b2b" stroke-width="1.6"/>
<line x1="532.1" y1="263.6" x2="540.0" y2="270.7" stroke="#902b2b" stroke-width="1.6"/>
<line x1="535.8" y1="259.7" x2="543.5" y2="266.7" stroke="#902b2b" stroke-width="1.6"/>
<line x1="539.4" y1="255.8" x2="547.0" y2="262.6" stroke="#902b2b" stroke-width="1.6"/>
<circle cx="529.0" cy="275.0" r="5.5" fill="#aa3333"/>
<linearGradient id="c190" gradientUnits="userSpaceOnUse" x1="524.0" y1="283.4" x2="531.8" y2="290.4"><stop offset="0" stop-color="#565656"/><stop offset="0.3" stop-color="#757575"/><stop offset="0.65" stop-color="#404040"/><stop offset="1" stop-color="#2c2c2c"/></linearGradient>
<polygon points="514.9,293.1 533.0,273.6 540.6,280.4 523.1,300.5" fill="url(#c190)"/>
<line x1="518.5" y1="289.2" x2="526.6" y2="296.5" stroke="#2e2e2e" stroke-width="1.6"/>
<line x1="522.2" y1="285.3" x2="530.1" y2="292.4" stroke="#2e2e2e" stroke-width="1.6"/>
<line x1="525.8" y1="281.4" x2="533.6" y2="288.4" stroke="#2e2e2e" stroke-width="1.6"/>
<line x1="529.4" y1="277.5" x2="537.1" y2="284.4" stroke="#2e2e2e" stroke-width="1.6"/>
<linearGradient id="c191" gradientUnits="userSpaceOnUse" x1="543.9" y1="260.2" x2="551.5" y2="266.2"><stop offset="0" stop-color="#c0c0c0"/><stop offset="0.3" stop-color="#cbcbcb"/><stop offset="0.65" stop-color="#b8b8b8"/><stop offset="1" stop-color="#808080"/></linearGradient>
<polygon points="532.8,273.9 555.1,246.6 562.1,252.2 540.8,280.1" fill="url(#c191)"/>
<linearGradient id="c192" gradientUnits="userSpaceOnUse" x1="562.2" y1="239.6" x2="568.4" y2="245.8"><stop offset="0" stop-color="#565656"/><stop offset="0.3" stop-color="#757575"/><stop offset="0.65" stop-color="#404040"/><stop offset="1" stop-color="#2c2c2c"/></linearGradient>
<polygon points="555.4,246.2 569.0,233.0 575.0,239.0 561.8,252.6" fill="url(#c192)"/>
<linearGradient id="c193" gradientUnits="userSpaceOnUse" x1="574.1" y1="228.1" x2="579.9" y2="233.9"><stop offset="0" stop-color="#b9b9b9"/><stop offset="0.3" stop-color="#c6c6c6"/><stop offset="0.65" stop-color="#b0b0b0"/><stop offset="1" stop-color="#7b7b7b"/></linearGradient>
<polygon points="569.0,233.0 579.2,223.2 584.8,228.8 575.0,239.0" fill="url(#c193)"/>
<circle cx="519.0" cy="296.8" r="5.5" fill="#363636"/>
<linearGradient id="c194" gradientUnits="userSpaceOnUse" x1="544.9" y1="275.2" x2="552.5" y2="281.0"><stop offset="0" stop-color="#cbcbcb"/><stop offset="0.3" stop-color="#d4d4d4"/><stop offset="0.65" stop-color="#c4c4c4"/><stop offset="1" stop-color="#898989"/></linearGradient>
<polygon points="534.8,288.0 555.0,262.5 562.2,267.9 542.8,294.0" fill="url(#c194)"/>
<line x1="538.9" y1="282.9" x2="546.6" y2="288.8" stroke="#8d8d8d" stroke-width="1.4"/>
<line x1="542.9" y1="277.8" x2="550.5" y2="283.6" stroke="#8d8d8d" stroke-width="1.4"/>
<line x1="547.0" y1="272.7" x2="554.4" y2="278.4" stroke="#8d8d8d" stroke-width="1.4"/>
<line x1="551.0" y1="267.6" x2="558.3" y2="273.2" stroke="#8d8d8d" stroke-width="1.4"/>
<circle cx="538.8" cy="291.0" r="5.0" fill="#a6a6a6"/>
<linearGradient id="c195" gradientUnits="userSpaceOnUse" x1="581.0" y1="235.8" x2="587.5" y2="241.3"><stop offset="0" stop-color="#565656"/><stop offset="0.3" stop-color="#757575"/><stop offset="0.65" stop-color="#404040"/><stop offset="1" stop-color="#2c2c2c"/></linearGradient>
<polygon points="574.9,242.6 587.2,229.0 593.2,234.2 581.7,248.4" fill="url(#c195)"/>
<line x1="577.3" y1="239.9" x2="584.0" y2="245.6" stroke="#2e2e2e" stroke-width="1.3"/>
<line x1="579.8" y1="237.1" x2="586.3" y2="242.7" stroke="#2e2e2e" stroke-width="1.3"/>
<line x1="582.2" y1="234.4" x2="588.6" y2="239.9" stroke="#2e2e2e" stroke-width="1.3"/>
<line x1="584.7" y1="231.7" x2="590.9" y2="237.0" stroke="#2e2e2e" stroke-width="1.3"/>
<circle cx="578.3" cy="245.5" r="4.5" fill="#363636"/>
<linearGradient id="c196" gradientUnits="userSpaceOnUse" x1="543.2" y1="311.3" x2="553.2" y2="316.9"><stop offset="0" stop-color="#565656"/><stop offset="0.3" stop-color="#757575"/><stop offset="0.65" stop-color="#404040"/><stop offset="1" stop-color="#2c2c2c"/></linearGradient>
<polygon points="534.5,326.5 551.8,296.2 561.4,301.4 545.1,332.3" fill="url(#c196)"/>
<line x1="538.0" y1="320.4" x2="548.3" y2="326.1" stroke="#2e2e2e" stroke-width="1.7"/>
<line x1="541.4" y1="314.4" x2="551.6" y2="320.0" stroke="#2e2e2e" stroke-width="1.7"/>
<line x1="544.9" y1="308.3" x2="554.9" y2="313.8" stroke="#2e2e2e" stroke-width="1.7"/>
<line x1="548.3" y1="302.2" x2="558.1" y2="307.6" stroke="#2e2e2e" stroke-width="1.7"/>
<circle cx="539.8" cy="329.4" r="6.0" fill="#363636"/>
<linearGradient id="c197" gradientUnits="userSpaceOnUse" x1="430.3" y1="194.0" x2="435.2" y2="206.6"><stop offset="0" stop-color="#515151"/><stop offset="0.3" stop-color="#717171"/><stop offset="0.65" stop-color="#3a3a3a"/><stop offset="1" stop-color="#282828"/></linearGradient>
<polygon points="404.7,203.3 455.8,184.7 460.2,195.9 410.3,217.3" fill="url(#c197)"/>
<line x1="414.9" y1="199.6" x2="420.3" y2="213.0" stroke="#292929" stroke-width="2.0"/>
<line x1="425.2" y1="195.9" x2="430.2" y2="208.7" stroke="#292929" stroke-width="2.0"/>
<line x1="435.4" y1="192.1" x2="440.2" y2="204.5" stroke="#292929" stroke-width="2.0"/>
<line x1="445.6" y1="188.4" x2="450.2" y2="200.2" stroke="#292929" stroke-width="2.0"/>
<linearGradient id="c198" gradientUnits="userSpaceOnUse" x1="464.8" y1="181.3" x2="469.2" y2="192.0"><stop offset="0" stop-color="#989898"/><stop offset="0.3" stop-color="#aaaaaa"/><stop offset="0.65" stop-color="#8a8a8a"/><stop offset="1" stop-color="#606060"/></linearGradient>
<polygon points="455.7,184.7 473.9,177.9 478.1,188.1 460.3,195.9" fill="url(#c198)"/>
<circle cx="407.5" cy="210.3" r="7.5" fill="#313131"/>
<linearGradient id="c199" gradientUnits="userSpaceOnUse" x1="548.0" y1="470.0" x2="561.2" y2="475.8"><stop offset="0" stop-color="#9b9b9b"/><stop offset="0.3" stop-color="#adadad"/><stop offset="0.65" stop-color="#8e8e8e"/><stop offset="1" stop-color="#636363"/></linearGradient>
<polygon points="503.9,567.6 592.1,372.4 603.9,377.6 518.5,574.0" fill="url(#c199)"/>
<circle cx="511.2" cy="570.8" r="8.0" fill="#6e6e6e"/>
<linearGradient id="c200" gradientUnits="userSpaceOnUse" x1="512.9" y1="521.1" x2="526.5" y2="527.3"><stop offset="0" stop-color="#9b9b9b"/><stop offset="0.3" stop-color="#adadad"/><stop offset="0.65" stop-color="#8e8e8e"/><stop offset="1" stop-color="#636363"/></linearGradient>
<polygon points="504.1,539.8 521.6,502.4 534.8,508.4 518.3,546.2" fill="url(#c200)"/>
<circle cx="511.2" cy="543.0" r="7.8" fill="#6e6e6e"/>
<linearGradient id="c201" gradientUnits="userSpaceOnUse" x1="533.2" y1="471.3" x2="546.4" y2="478.3"><stop offset="0" stop-color="#9b9b9b"/><stop offset="0.3" stop-color="#adadad"/><stop offset="0.65" stop-color="#8e8e8e"/><stop offset="1" stop-color="#636363"/></linearGradient>
<polygon points="526.3,483.5 540.0,459.0 552.8,465.8 540.1,490.9" fill="url(#c201)"/>
<circle cx="533.2" cy="487.2" r="7.8" fill="#6e6e6e"/>
<linearGradient id="c202" gradientUnits="userSpaceOnUse" x1="551.3" y1="431.6" x2="564.6" y2="438.6"><stop offset="0" stop-color="#9b9b9b"/><stop offset="0.3" stop-color="#adadad"/><stop offset="0.65" stop-color="#8e8e8e"/><stop offset="1" stop-color="#636363"/></linearGradient>
<polygon points="544.4,443.8 558.3,419.3 570.9,426.1 558.2,451.2" fill="url(#c202)"/>
<circle cx="551.3" cy="447.5" r="7.8" fill="#6e6e6e"/>
<linearGradient id="c203" gradientUnits="userSpaceOnUse" x1="565.4" y1="400.1" x2="578.6" y2="407.2"><stop offset="0" stop-color="#9b9b9b"/><stop offset="0.3" stop-color="#adadad"/><stop offset="0.65" stop-color="#8e8e8e"/><stop offset="1" stop-color="#636363"/></linearGradient>
<polygon points="559.3,410.7 571.5,389.5 584.1,396.3 573.1,418.1" fill="url(#c203)"/>
<circle cx="566.2" cy="414.4" r="7.8" fill="#6e6e6e"/>
<linearGradient id="c204" gradientUnits="userSpaceOnUse" x1="577.4" y1="374.8" x2="590.1" y2="382.9"><stop offset="0" stop-color="#9b9b9b"/><stop offset="0.3" stop-color="#adadad"/><stop offset="0.65" stop-color="#8e8e8e"/><stop offset="1" stop-color="#636363"/></linearGradient>
<polygon points="572.4,382.1 582.4,367.5 594.6,375.3 585.6,390.5" fill="url(#c204)"/>
<circle cx="579.0" cy="386.3" r="7.8" fill="#6e6e6e"/>
<text x="172.1" y="209.8" class="serif" font-size="18" fill="#ffffff" textLength="41.5" lengthAdjust="spacingAndGlyphs">Step1</text>
<text x="271.2" y="197.3" class="serif" font-size="18" fill="#ffffff" textLength="41.5" lengthAdjust="spacingAndGlyphs">Step2</text>
<text x="323.8" y="181.8" class="serif" font-size="18" fill="#ffffff" textLength="41.5" lengthAdjust="spacingAndGlyphs">Step3</text>
<text x="376.2" y="169.6" class="serif" font-size="18" fill="#ffffff" textLength="41.5" lengthAdjust="spacingAndGlyphs">Step4</text>
<text x="583.0" y="173.0" class="serif" font-size="18" fill="#ffffff" textLength="41.5" lengthAdjust="spacingAndGlyphs">Step8</text>
<text x="583.0" y="213.2" class="serif" font-size="18" fill="#ffffff" textLength="41.5" lengthAdjust="spacingAndGlyphs">Step7</text>
<text x="581.8" y="269.5" class="serif" font-size="18" fill="#ffffff" textLength="41.5" lengthAdjust="spacingAndGlyphs">Step6</text>
<text x="561.0" y="303.2" class="serif" font-size="18" fill="#ffffff" textLength="41.5" lengthAdjust="spacingAndGlyphs">Step5</text>
<text x="593" y="486.1" class="serif" font-size="17" fill="#ffffff" textLength="173" lengthAdjust="spacingAndGlyphs" >Gap between segments</text>
<text x="585" y="513.8" class="serif" font-size="17" fill="#ffffff" textLength="151.7" lengthAdjust="spacingAndGlyphs" >Waveguide segment</text>
<text x="558" y="589.3" class="serif" font-size="17" fill="#ffffff" textLength="92.6" lengthAdjust="spacingAndGlyphs" >Lattice node</text>
<text x="500" y="447" class="serif" font-size="17" font-style="italic" fill="#fff">g</text>
<text x="489" y="478" class="serif" font-size="17" font-style="italic" fill="#fff">l</text>
<line x1="552" y1="458.7" x2="579.9" y2="472.7" stroke="#fff" stroke-width="1.6"/>
<polygon points="587,476.3 578.3,475.8 581.4,469.6" fill="#fff"/>
<line x1="545" y1="477.4" x2="573.0" y2="492.4" stroke="#fff" stroke-width="1.6"/>
<polygon points="580,496.2 571.3,495.5 574.6,489.3" fill="#fff"/>
<line x1="521.6" y1="565.4" x2="548.5" y2="579.3" stroke="#fff" stroke-width="1.6"/>
<polygon points="555.6,583 546.9,582.4 550.1,576.2" fill="#fff"/>
<rect x="526.3" y="437.3" width="17" height="17" fill="#7fbf6a" opacity="0.45" transform="rotate(8 534.8 445.8)"/>
<rect x="516.4" y="452.2" width="17" height="17" fill="#7fbf6a" opacity="0.45" transform="rotate(8 524.9 460.7)"/>
<rect x="504.8" y="478.7" width="17" height="17" fill="#7fbf6a" opacity="0.45" transform="rotate(8 513.3 487.2)"/>
<line x1="532" y1="449" x2="528.5" y2="455" stroke="#5cc352" stroke-width="2.6"/>
<polygon points="524,454.5 533,456 527.5,462" fill="#5cc352"/>
<circle cx="532" cy="449" r="2.8" fill="#4fae48"/>
<line x1="523.5" y1="466" x2="516.5" y2="479" stroke="#5cc352" stroke-width="2.6"/>
<polygon points="512,478 521,481 514.5,487" fill="#5cc352"/>
<circle cx="523.5" cy="466" r="2.8" fill="#4fae48"/>
<ellipse cx="195" cy="544" rx="20" ry="27" fill="none" stroke="#fff" stroke-width="1.6" stroke-dasharray="5 3.5"/>
<line x1="197" y1="517" x2="473" y2="482.7" stroke="#fff" stroke-width="1.8" stroke-dasharray="6.5 4"/>
<line x1="195" y1="571.5" x2="483" y2="593" stroke="#fff" stroke-width="1.8" stroke-dasharray="6.5 4"/>
<line x1="108.4" y1="566.7" x2="103.6" y2="533.9" stroke="#f2d04a" stroke-width="2.6"/>
<polygon points="102.4,526 107.5,533.3 99.6,534.5" fill="#f2d04a"/>
<line x1="108.4" y1="566.7" x2="76.8" y2="559.7" stroke="#f2d04a" stroke-width="2.6"/>
<polygon points="69,558 77.7,555.8 75.9,563.6" fill="#f2d04a"/>
<line x1="108.4" y1="566.7" x2="135.7" y2="545.4" stroke="#f2d04a" stroke-width="2.6"/>
<polygon points="142,540.5 138.2,548.6 133.2,542.3" fill="#f2d04a"/>
<text x="95" y="520" class="serif" font-size="19" font-weight="bold" font-style="italic" fill="#f2d04a">y</text>
<text x="52" y="564" class="serif" font-size="19" font-weight="bold" font-style="italic" fill="#f2d04a">x</text>
<text x="145" y="551" class="serif" font-size="19" font-weight="bold" font-style="italic" fill="#f2d04a">z</text>
</svg>
<line x1="1030.5" y1="138.8" x2="1365.1" y2="138.8" class="dot"/>
<line x1="1030.5" y1="219.7" x2="1365.1" y2="219.7" class="dot"/>
<line x1="1030.5" y1="300.6" x2="1365.1" y2="300.6" class="dot"/>
<line x1="1030.5" y1="380.9" x2="1365.1" y2="380.9" class="dot"/>
<line x1="1030.5" y1="140.8" x2="1030.5" y2="458.3" class="dot"/>
<line x1="1114.2" y1="140.8" x2="1114.2" y2="458.3" class="dot"/>
<line x1="1197.8" y1="140.8" x2="1197.8" y2="458.3" class="dot"/>
<line x1="1281.5" y1="140.8" x2="1281.5" y2="458.3" class="dot"/>
<line x1="1030.5" y1="458.3" x2="1072.3" y2="458.3" stroke="#8be04e" stroke-width="2.6"/>
<line x1="1072.3" y1="458.3" x2="1114.2" y2="458.3" stroke="#ec6150" stroke-width="2.6"/>
<line x1="1114.2" y1="458.3" x2="1156.0" y2="458.3" stroke="#3d99f0" stroke-width="2.6"/>
<line x1="1156.0" y1="458.3" x2="1197.8" y2="458.3" stroke="#555555" stroke-width="2.6"/>
<line x1="1197.8" y1="458.3" x2="1239.7" y2="458.3" stroke="#8be04e" stroke-width="2.6"/>
<line x1="1239.7" y1="458.3" x2="1281.5" y2="458.3" stroke="#ec6150" stroke-width="2.6"/>
<line x1="1281.5" y1="458.3" x2="1323.3" y2="458.3" stroke="#3d99f0" stroke-width="2.6"/>
<line x1="1323.3" y1="458.3" x2="1365.1" y2="458.3" stroke="#555555" stroke-width="2.6"/>
<line x1="1365.1" y1="140.8" x2="1365.1" y2="181.2" stroke="#555555" stroke-width="2.6"/>
<line x1="1365.1" y1="181.2" x2="1365.1" y2="221.7" stroke="#3d99f0" stroke-width="2.6"/>
<line x1="1365.1" y1="221.7" x2="1365.1" y2="262.4" stroke="#ec6150" stroke-width="2.6"/>
<line x1="1365.1" y1="262.4" x2="1365.1" y2="302.6" stroke="#8be04e" stroke-width="2.6"/>
<line x1="1365.1" y1="302.6" x2="1365.1" y2="342.7" stroke="#555555" stroke-width="2.6"/>
<line x1="1365.1" y1="342.7" x2="1365.1" y2="382.9" stroke="#3d99f0" stroke-width="2.6"/>
<line x1="1365.1" y1="382.9" x2="1365.1" y2="422.0" stroke="#ec6150" stroke-width="2.6"/>
<line x1="1365.1" y1="422.0" x2="1365.1" y2="458.3" stroke="#8be04e" stroke-width="2.6"/>
<circle cx="1030.5" cy="140.8" r="8.6" fill="#90d9e1"/>
<circle cx="1072.3" cy="140.8" r="8.6" fill="#90d9e1"/>
<circle cx="1114.2" cy="140.8" r="8.6" fill="#90d9e1"/>
<circle cx="1156.0" cy="140.8" r="8.6" fill="#90d9e1"/>
<circle cx="1197.8" cy="140.8" r="8.6" fill="#90d9e1"/>
<circle cx="1239.7" cy="140.8" r="8.6" fill="#90d9e1"/>
<circle cx="1281.5" cy="140.8" r="8.6" fill="#90d9e1"/>
<circle cx="1323.3" cy="140.8" r="8.6" fill="#90d9e1"/>
<circle cx="1365.1" cy="140.8" r="8.6" fill="#eed17f"/>
<circle cx="1030.5" cy="181.2" r="8.6" fill="#90d9e1"/>
<circle cx="1114.2" cy="181.2" r="8.6" fill="#90d9e1"/>
<circle cx="1197.8" cy="181.2" r="8.6" fill="#90d9e1"/>
<circle cx="1281.5" cy="181.2" r="8.6" fill="#90d9e1"/>
<circle cx="1365.1" cy="181.2" r="8.6" fill="#eed17f"/>
<circle cx="1030.5" cy="221.7" r="8.6" fill="#90d9e1"/>
<circle cx="1072.3" cy="221.7" r="8.6" fill="#90d9e1"/>
<circle cx="1114.2" cy="221.7" r="8.6" fill="#90d9e1"/>
<circle cx="1156.0" cy="221.7" r="8.6" fill="#90d9e1"/>
<circle cx="1197.8" cy="221.7" r="8.6" fill="#90d9e1"/>
<circle cx="1239.7" cy="221.7" r="8.6" fill="#90d9e1"/>
<circle cx="1281.5" cy="221.7" r="8.6" fill="#90d9e1"/>
<circle cx="1323.3" cy="221.7" r="8.6" fill="#90d9e1"/>
<circle cx="1365.1" cy="221.7" r="8.6" fill="#eed17f"/>
<circle cx="1030.5" cy="262.4" r="8.6" fill="#90d9e1"/>
<circle cx="1114.2" cy="262.4" r="8.6" fill="#90d9e1"/>
<circle cx="1197.8" cy="262.4" r="8.6" fill="#90d9e1"/>
<circle cx="1281.5" cy="262.4" r="8.6" fill="#90d9e1"/>
<circle cx="1365.1" cy="262.4" r="8.6" fill="#eed17f"/>
<circle cx="1030.5" cy="302.6" r="8.6" fill="#90d9e1"/>
<circle cx="1072.3" cy="302.6" r="8.6" fill="#90d9e1"/>
<circle cx="1114.2" cy="302.6" r="8.6" fill="#90d9e1"/>
<circle cx="1156.0" cy="302.6" r="8.6" fill="#90d9e1"/>
<circle cx="1197.8" cy="302.6" r="8.6" fill="#90d9e1"/>
<circle cx="1239.7" cy="302.6" r="8.6" fill="#90d9e1"/>
<circle cx="1281.5" cy="302.6" r="8.6" fill="#90d9e1"/>
<circle cx="1323.3" cy="302.6" r="8.6" fill="#90d9e1"/>
<circle cx="1365.1" cy="302.6" r="8.6" fill="#eed17f"/>
<circle cx="1030.5" cy="342.7" r="8.6" fill="#90d9e1"/>
<circle cx="1114.2" cy="341.0" r="8.6" fill="#90d9e1"/>
<circle cx="1197.8" cy="342.7" r="8.6" fill="#90d9e1"/>
<circle cx="1281.5" cy="342.7" r="8.6" fill="#90d9e1"/>
<circle cx="1365.1" cy="342.7" r="8.6" fill="#eed17f"/>
<circle cx="1030.5" cy="382.9" r="8.6" fill="#90d9e1"/>
<circle cx="1072.3" cy="382.9" r="8.6" fill="#90d9e1"/>
<circle cx="1114.2" cy="382.9" r="8.6" fill="#90d9e1"/>
<circle cx="1156.0" cy="382.9" r="8.6" fill="#90d9e1"/>
<circle cx="1197.8" cy="382.9" r="8.6" fill="#90d9e1"/>
<circle cx="1239.7" cy="382.9" r="8.6" fill="#90d9e1"/>
<circle cx="1281.5" cy="382.9" r="8.6" fill="#90d9e1"/>
<circle cx="1323.3" cy="382.9" r="8.6" fill="#90d9e1"/>
<circle cx="1365.1" cy="382.9" r="8.6" fill="#eed17f"/>
<circle cx="1030.5" cy="422.0" r="8.6" fill="#90d9e1"/>
<circle cx="1114.2" cy="417.0" r="8.6" fill="#90d9e1"/>
<circle cx="1197.8" cy="422.0" r="8.6" fill="#90d9e1"/>
<circle cx="1281.5" cy="422.0" r="8.6" fill="#90d9e1"/>
<circle cx="1365.1" cy="422.0" r="8.6" fill="#eed17f"/>
<circle cx="1030.5" cy="458.3" r="8.6" fill="#eed17f"/>
<circle cx="1072.3" cy="458.3" r="8.6" fill="#eed17f"/>
<circle cx="1114.2" cy="458.3" r="8.6" fill="#eed17f"/>
<circle cx="1156.0" cy="458.3" r="8.6" fill="#eed17f"/>
<circle cx="1197.8" cy="458.3" r="8.6" fill="#eed17f"/>
<circle cx="1239.7" cy="458.3" r="8.6" fill="#eed17f"/>
<circle cx="1281.5" cy="458.3" r="8.6" fill="#eed17f"/>
<circle cx="1323.3" cy="458.3" r="8.6" fill="#eed17f"/>
<circle cx="1365.1" cy="458.3" r="8.6" fill="#eed17f"/>
<text x="1281.5" y="229.9" class="lt" textLength="13.5" lengthAdjust="spacingAndGlyphs">A</text>
<text x="1323.3" y="229.9" class="lt" textLength="13.5" lengthAdjust="spacingAndGlyphs">B</text>
<text x="1281.5" y="270.6" class="lt" textLength="13.5" lengthAdjust="spacingAndGlyphs">C</text>
<text x="1197.8" y="310.8" class="lt" textLength="13.5" lengthAdjust="spacingAndGlyphs">A</text>
<text x="1239.7" y="310.8" class="lt" textLength="13.5" lengthAdjust="spacingAndGlyphs">B</text>
<text x="1281.5" y="310.8" class="lt" textLength="13.5" lengthAdjust="spacingAndGlyphs">D</text>
<text x="1323.3" y="310.8" class="lt" textLength="13.5" lengthAdjust="spacingAndGlyphs">E</text>
<text x="1197.8" y="350.9" class="lt" textLength="13.5" lengthAdjust="spacingAndGlyphs">C</text>
<text x="1281.5" y="350.9" class="lt" textLength="13.5" lengthAdjust="spacingAndGlyphs">F</text>
<text x="1197.8" y="391.1" class="lt" textLength="13.5" lengthAdjust="spacingAndGlyphs">D</text>
<text x="1239.7" y="391.1" class="lt" textLength="13.5" lengthAdjust="spacingAndGlyphs">E</text>
<text x="1197.8" y="430.2" class="lt" textLength="13.5" lengthAdjust="spacingAndGlyphs">F</text>
<text x="1049.2" y="447.8" class="num">1</text>
<text x="1091.8" y="447.8" class="num">2</text>
<text x="1134.2" y="447.8" class="num">6</text>
<text x="1174.1" y="447.8" class="num">5</text>
<text x="1219.3" y="447.8" class="num">1</text>
<text x="1261.0" y="447.8" class="num">2</text>
<text x="1301.8" y="447.8" class="num">6</text>
<text x="1340.4" y="447.8" class="num">5</text>
<text x="1376.4" y="171.2" class="num">8</text>
<text x="1376.4" y="211.7" class="num">7</text>
<text x="1376.4" y="247.3" class="num">3</text>
<text x="1376.4" y="291.2" class="num">4</text>
<text x="1376.4" y="330.4" class="num">8</text>
<text x="1376.4" y="372.1" class="num">7</text>
<text x="1376.4" y="412.3" class="num">3</text>
<text x="1376.4" y="449.4" class="num">4</text>
<text x="978" y="78.6" class="sans" font-size="21.4" fill="#111" textLength="434" lengthAdjust="spacingAndGlyphs" >Measurement-induced topological edge transport</text>
<text x="832" y="483.1" class="sans" font-size="18" fill="#e54f3a" textLength="112" lengthAdjust="spacingAndGlyphs" >Laser injection</text>
<text x="978" y="446.5" class="sans" font-size="18" fill="#111" textLength="34" lengthAdjust="spacingAndGlyphs" >Step</text>
<text x="970.5" y="519.8" class="sans" font-size="18" fill="#111" textLength="48" lengthAdjust="spacingAndGlyphs" >Period</text>
<text x="1081" y="519.9" class="sans" font-size="18" fill="#111" textLength="21.5" lengthAdjust="spacingAndGlyphs" >1st</text>
<text x="1162" y="519.9" class="sans" font-size="18" fill="#111" textLength="29.5" lengthAdjust="spacingAndGlyphs" >2nd</text>
<text x="1248" y="519.9" class="sans" font-size="18" fill="#111" textLength="25.5" lengthAdjust="spacingAndGlyphs" >3rd</text>
<text x="1332.3" y="519.9" class="sans" font-size="18" fill="#111" textLength="27" lengthAdjust="spacingAndGlyphs" >4th</text>
<text x="0" y="0" class="sans" font-size="19.5" fill="#111" text-anchor="middle" textLength="25.6" lengthAdjust="spacingAndGlyphs" transform="translate(1428.9 196.1) rotate(-90)">8th</text>
<text x="0" y="0" class="sans" font-size="19.5" fill="#111" text-anchor="middle" textLength="25.6" lengthAdjust="spacingAndGlyphs" transform="translate(1428.9 279.4) rotate(-90)">7th</text>
<text x="0" y="0" class="sans" font-size="19.5" fill="#111" text-anchor="middle" textLength="25.6" lengthAdjust="spacingAndGlyphs" transform="translate(1428.9 355) rotate(-90)">6th</text>
<text x="0" y="0" class="sans" font-size="19.5" fill="#111" text-anchor="middle" textLength="25.6" lengthAdjust="spacingAndGlyphs" transform="translate(1428.9 443) rotate(-90)">5th</text>
<line x1="958" y1="475.7" x2="1015" y2="462.3" stroke="#111" stroke-width="2.4"/>
<polyline points="1007,456.5 1016,462.1 1009,469" fill="none" stroke="#111" stroke-width="2.4"/>
<path d="M1034,471.3 Q1096.0,517.6 1148,473" fill="none" stroke="#84f1c9" stroke-width="2.5"/>
<polygon points="1149.1,472.0 1144.7,481.4 1143.8,476.6 1139.2,475.0" fill="#84f1c9"/>
<path d="M1156.5,473.6 Q1174.1,521.1 1196.1,473" fill="none" stroke="#84f1c9" stroke-width="2.5"/>
<polygon points="1196.7,471.6 1196.6,482.0 1193.8,478.0 1189.0,478.5" fill="#84f1c9"/>
<path d="M1202,471.3 Q1262.0,518.6 1316,473" fill="none" stroke="#84f1c9" stroke-width="2.5"/>
<polygon points="1317.1,472.0 1312.6,481.4 1311.8,476.6 1307.2,475.0" fill="#84f1c9"/>
<path d="M1324,473.6 Q1340.6,521.1 1363.6,473" fill="none" stroke="#84f1c9" stroke-width="2.5"/>
<polygon points="1364.2,471.6 1363.9,482.0 1361.2,478.0 1356.4,478.4" fill="#84f1c9"/>
<path d="M1377.8,255.6 Q1425.0,207.7 1381.1,146.7" fill="none" stroke="#84f1c9" stroke-width="2.5"/>
<polygon points="1380.2,145.5 1389.2,150.7 1384.3,151.2 1382.4,155.6" fill="#84f1c9"/>
<path d="M1378.9,297.8 Q1425.9,283.3 1381,264.4" fill="none" stroke="#84f1c9" stroke-width="2.5"/>
<polygon points="1379.6,263.8 1390.0,263.6 1386.1,266.5 1386.7,271.4" fill="#84f1c9"/>
<path d="M1378.4,416.8 Q1426.2,363.6 1381.5,307.2" fill="none" stroke="#84f1c9" stroke-width="2.5"/>
<polygon points="1380.6,306.0 1389.8,310.9 1384.9,311.5 1383.2,316.1" fill="#84f1c9"/>
<path d="M1380,461.6 Q1425.2,442.9 1381.5,424.6" fill="none" stroke="#84f1c9" stroke-width="2.5"/>
<polygon points="1380.1,424.0 1390.5,423.8 1386.6,426.7 1387.3,431.6" fill="#84f1c9"/>
<defs><linearGradient id="jet" x1="0" y1="1" x2="0" y2="0"><stop offset="0" stop-color="#3d44b0"/><stop offset="0.2" stop-color="#4a86ec"/><stop offset="0.4" stop-color="#3ccfd0"/><stop offset="0.55" stop-color="#86e060"/><stop offset="0.68" stop-color="#efd040"/><stop offset="0.82" stop-color="#f07a2a"/><stop offset="1" stop-color="#b02010"/></linearGradient><linearGradient id="cbar" x1="0" y1="1" x2="0" y2="0"><stop offset="0" stop-color="#2c1a78"/><stop offset="0.15" stop-color="#3f7af0"/><stop offset="0.35" stop-color="#22d0c0"/><stop offset="0.55" stop-color="#a8e838"/><stop offset="0.7" stop-color="#f8a030"/><stop offset="0.85" stop-color="#e04020"/><stop offset="1" stop-color="#7a0a0a"/></linearGradient></defs>
<polygon points="1466.0,159.5 1721.5,60.0 1915.5,189.5 1665.0,290.5" fill="#2d1839"/>
<ellipse cx="1531.1" cy="158.3" rx="9.9" ry="5.3" fill="rgb(140, 42, 38)" opacity="0.92"/>
<ellipse cx="1553.0" cy="149.8" rx="9.9" ry="5.3" fill="rgb(140, 43, 38)" opacity="0.92"/>
<ellipse cx="1574.9" cy="141.3" rx="9.9" ry="5.3" fill="rgb(140, 43, 38)" opacity="0.92"/>
<ellipse cx="1596.8" cy="132.8" rx="9.9" ry="5.3" fill="rgb(140, 44, 38)" opacity="0.92"/>
<ellipse cx="1618.7" cy="124.3" rx="9.9" ry="5.3" fill="rgb(142, 64, 40)" opacity="0.92"/>
<ellipse cx="1640.6" cy="115.8" rx="9.9" ry="5.3" fill="rgb(140, 90, 40)" opacity="0.92"/>
<ellipse cx="1662.5" cy="107.3" rx="9.9" ry="5.3" fill="rgb(138, 110, 45)" opacity="0.92"/>
<ellipse cx="1684.4" cy="98.8" rx="9.9" ry="5.3" fill="rgb(132, 122, 50)" opacity="0.92"/>
<ellipse cx="1706.3" cy="90.3" rx="9.9" ry="5.3" fill="rgb(115, 124, 64)" opacity="0.92"/>
<ellipse cx="1549.6" cy="170.6" rx="9.9" ry="5.3" fill="rgb(140, 43, 38)" opacity="0.92"/>
<ellipse cx="1593.4" cy="153.6" rx="9.9" ry="5.3" fill="rgb(140, 46, 38)" opacity="0.92"/>
<ellipse cx="1637.2" cy="136.6" rx="9.9" ry="5.3" fill="rgb(139, 96, 42)" opacity="0.92"/>
<ellipse cx="1681.0" cy="119.6" rx="9.9" ry="5.3" fill="rgb(127, 123, 54)" opacity="0.92"/>
<ellipse cx="1724.8" cy="102.6" rx="9.9" ry="5.3" fill="rgb(105, 121, 78)" opacity="0.92"/>
<ellipse cx="1568.1" cy="182.9" rx="9.9" ry="5.3" fill="rgb(140, 44, 38)" opacity="0.92"/>
<ellipse cx="1590.0" cy="174.4" rx="9.9" ry="5.3" fill="rgb(141, 54, 39)" opacity="0.92"/>
<ellipse cx="1611.9" cy="165.9" rx="9.9" ry="5.3" fill="rgb(141, 80, 40)" opacity="0.92"/>
<ellipse cx="1633.8" cy="157.4" rx="9.9" ry="5.3" fill="rgb(139, 102, 43)" opacity="0.92"/>
<ellipse cx="1655.7" cy="148.9" rx="9.9" ry="5.3" fill="rgb(134, 117, 48)" opacity="0.92"/>
<ellipse cx="1677.6" cy="140.4" rx="9.9" ry="5.3" fill="rgb(122, 123, 58)" opacity="0.92"/>
<ellipse cx="1699.5" cy="131.9" rx="9.9" ry="5.3" fill="rgb(111, 122, 70)" opacity="0.92"/>
<ellipse cx="1721.4" cy="123.4" rx="9.9" ry="5.3" fill="rgb(104, 120, 80)" opacity="0.92"/>
<ellipse cx="1743.3" cy="114.9" rx="9.9" ry="5.3" fill="rgb(105, 118, 79)" opacity="0.92"/>
<ellipse cx="1586.6" cy="195.2" rx="9.9" ry="5.3" fill="rgb(142, 62, 40)" opacity="0.92"/>
<ellipse cx="1630.4" cy="178.2" rx="9.9" ry="5.3" fill="rgb(138, 108, 44)" opacity="0.92"/>
<ellipse cx="1674.2" cy="161.2" rx="9.9" ry="5.3" fill="rgb(117, 124, 63)" opacity="0.92"/>
<ellipse cx="1718.0" cy="144.2" rx="9.9" ry="5.3" fill="rgb(104, 119, 80)" opacity="0.92"/>
<ellipse cx="1761.8" cy="127.2" rx="9.9" ry="5.3" fill="rgb(110, 113, 76)" opacity="0.92"/>
<ellipse cx="1605.1" cy="207.5" rx="9.9" ry="5.3" fill="rgb(140, 94, 41)" opacity="0.92"/>
<ellipse cx="1627.0" cy="199.0" rx="9.9" ry="5.3" fill="rgb(137, 112, 46)" opacity="0.92"/>
<ellipse cx="1648.9" cy="190.5" rx="9.9" ry="5.3" fill="rgb(129, 122, 53)" opacity="0.92"/>
<ellipse cx="1670.8" cy="182.0" rx="9.9" ry="5.3" fill="rgb(114, 123, 66)" opacity="0.92"/>
<ellipse cx="1692.7" cy="173.5" rx="9.9" ry="5.3" fill="rgb(106, 121, 77)" opacity="0.92"/>
<ellipse cx="1714.6" cy="165.0" rx="9.9" ry="5.3" fill="rgb(105, 119, 79)" opacity="0.92"/>
<ellipse cx="1736.5" cy="156.5" rx="9.9" ry="5.3" fill="rgb(106, 117, 78)" opacity="0.92"/>
<ellipse cx="1758.4" cy="148.0" rx="9.9" ry="5.3" fill="rgb(113, 111, 75)" opacity="0.92"/>
<ellipse cx="1780.3" cy="139.5" rx="9.9" ry="5.3" fill="rgb(124, 105, 71)" opacity="0.92"/>
<ellipse cx="1623.6" cy="219.8" rx="9.9" ry="5.3" fill="rgb(135, 116, 48)" opacity="0.92"/>
<ellipse cx="1667.4" cy="202.8" rx="9.9" ry="5.3" fill="rgb(111, 123, 69)" opacity="0.92"/>
<ellipse cx="1711.2" cy="185.8" rx="9.9" ry="5.3" fill="rgb(105, 118, 79)" opacity="0.92"/>
<ellipse cx="1755.0" cy="168.8" rx="9.9" ry="5.3" fill="rgb(117, 109, 74)" opacity="0.92"/>
<ellipse cx="1798.8" cy="151.8" rx="9.9" ry="5.3" fill="rgb(138, 96, 62)" opacity="0.92"/>
<ellipse cx="1642.1" cy="232.1" rx="9.9" ry="5.3" fill="rgb(118, 124, 61)" opacity="0.92"/>
<ellipse cx="1664.0" cy="223.6" rx="9.9" ry="5.3" fill="rgb(109, 122, 73)" opacity="0.92"/>
<ellipse cx="1685.9" cy="215.1" rx="9.9" ry="5.3" fill="rgb(104, 119, 80)" opacity="0.92"/>
<ellipse cx="1707.8" cy="206.6" rx="9.9" ry="5.3" fill="rgb(105, 117, 79)" opacity="0.92"/>
<ellipse cx="1729.7" cy="198.1" rx="9.9" ry="5.3" fill="rgb(109, 114, 77)" opacity="0.92"/>
<ellipse cx="1751.6" cy="189.6" rx="9.9" ry="5.3" fill="rgb(120, 107, 73)" opacity="0.92"/>
<ellipse cx="1773.5" cy="181.1" rx="9.9" ry="5.3" fill="rgb(131, 101, 67)" opacity="0.92"/>
<ellipse cx="1795.4" cy="172.6" rx="9.9" ry="5.3" fill="rgb(138, 96, 62)" opacity="0.92"/>
<ellipse cx="1817.3" cy="164.1" rx="9.9" ry="5.3" fill="rgb(139, 96, 61)" opacity="0.92"/>
<ellipse cx="1660.6" cy="244.4" rx="9.9" ry="5.3" fill="rgb(107, 121, 76)" opacity="0.92"/>
<ellipse cx="1704.4" cy="227.4" rx="9.9" ry="5.3" fill="rgb(106, 117, 78)" opacity="0.92"/>
<ellipse cx="1748.2" cy="210.4" rx="9.9" ry="5.3" fill="rgb(123, 105, 71)" opacity="0.92"/>
<ellipse cx="1792.0" cy="193.4" rx="9.9" ry="5.3" fill="rgb(138, 96, 62)" opacity="0.92"/>
<ellipse cx="1835.8" cy="176.4" rx="9.9" ry="5.3" fill="rgb(139, 95, 61)" opacity="0.92"/>
<ellipse cx="1679.1" cy="256.7" rx="9.9" ry="5.3" fill="rgb(105, 118, 79)" opacity="0.92"/>
<ellipse cx="1701.0" cy="248.2" rx="9.9" ry="5.3" fill="rgb(106, 116, 78)" opacity="0.92"/>
<ellipse cx="1722.9" cy="239.7" rx="9.9" ry="5.3" fill="rgb(116, 110, 74)" opacity="0.92"/>
<ellipse cx="1744.8" cy="231.2" rx="9.9" ry="5.3" fill="rgb(126, 103, 69)" opacity="0.92"/>
<ellipse cx="1766.7" cy="222.7" rx="9.9" ry="5.3" fill="rgb(137, 97, 63)" opacity="0.92"/>
<ellipse cx="1788.6" cy="214.2" rx="9.9" ry="5.3" fill="rgb(139, 96, 61)" opacity="0.92"/>
<ellipse cx="1810.5" cy="205.7" rx="9.9" ry="5.3" fill="rgb(139, 95, 61)" opacity="0.92"/>
<ellipse cx="1832.4" cy="197.2" rx="9.9" ry="5.3" fill="rgb(140, 95, 60)" opacity="0.92"/>
<ellipse cx="1854.3" cy="188.7" rx="9.9" ry="5.3" fill="rgb(140, 95, 60)" opacity="0.92"/>
<ellipse cx="1686" cy="99.5" rx="10.0" ry="5.4" fill="none" stroke="#a08040" stroke-width="1.2" opacity="0.8"/><path d="M1676.0,101.0 C1681.6,98.3 1684.0,83.5 1686,74.0 C1688.0,83.5 1690.4,98.3 1696.0,101.0 Z" fill="#3f48b8"/><path d="M1684.4,83.5 L1686,74.0 L1686.6,84.8 Z" fill="#6a8ae8" opacity="0.7"/>
<ellipse cx="1707" cy="94.0" rx="14.0" ry="6.0" fill="#4046b8"/>
<ellipse cx="1707" cy="92.0" rx="8.4" ry="4.6" fill="#4a6ad8"/>
<path d="M1694.4,95.0 C1700.7,89.0 1702.5,74.6 1703.6,57.0 L1705.7,19.0 L1707,17.0 L1708.3,19.0 L1710.4,57.0 C1711.5,74.6 1713.3,89.0 1719.6,95.0 Z" fill="url(#jet)"/>
<polygon points="1466.0,419.5 1721.5,320.0 1915.5,449.5 1665.0,550.5" fill="#2d1839"/>
<ellipse cx="1531.1" cy="418.3" rx="9.9" ry="5.3" fill="rgb(140, 42, 38)" opacity="0.92"/>
<ellipse cx="1553.0" cy="409.8" rx="9.9" ry="5.3" fill="rgb(140, 43, 38)" opacity="0.92"/>
<ellipse cx="1574.9" cy="401.3" rx="9.9" ry="5.3" fill="rgb(140, 43, 38)" opacity="0.92"/>
<ellipse cx="1596.8" cy="392.8" rx="9.9" ry="5.3" fill="rgb(140, 44, 38)" opacity="0.92"/>
<ellipse cx="1618.7" cy="384.3" rx="9.9" ry="5.3" fill="rgb(142, 64, 40)" opacity="0.92"/>
<ellipse cx="1640.6" cy="375.8" rx="9.9" ry="5.3" fill="rgb(140, 90, 40)" opacity="0.92"/>
<ellipse cx="1662.5" cy="367.3" rx="9.9" ry="5.3" fill="rgb(138, 110, 45)" opacity="0.92"/>
<ellipse cx="1684.4" cy="358.8" rx="9.9" ry="5.3" fill="rgb(132, 122, 50)" opacity="0.92"/>
<ellipse cx="1706.3" cy="350.3" rx="9.9" ry="5.3" fill="rgb(115, 124, 64)" opacity="0.92"/>
<ellipse cx="1549.6" cy="430.6" rx="9.9" ry="5.3" fill="rgb(140, 43, 38)" opacity="0.92"/>
<ellipse cx="1593.4" cy="413.6" rx="9.9" ry="5.3" fill="rgb(140, 46, 38)" opacity="0.92"/>
<ellipse cx="1637.2" cy="396.6" rx="9.9" ry="5.3" fill="rgb(139, 96, 42)" opacity="0.92"/>
<ellipse cx="1681.0" cy="379.6" rx="9.9" ry="5.3" fill="rgb(127, 123, 54)" opacity="0.92"/>
<ellipse cx="1724.8" cy="362.6" rx="9.9" ry="5.3" fill="rgb(105, 121, 78)" opacity="0.92"/>
<ellipse cx="1568.1" cy="442.9" rx="9.9" ry="5.3" fill="rgb(140, 44, 38)" opacity="0.92"/>
<ellipse cx="1590.0" cy="434.4" rx="9.9" ry="5.3" fill="rgb(141, 54, 39)" opacity="0.92"/>
<ellipse cx="1611.9" cy="425.9" rx="9.9" ry="5.3" fill="rgb(141, 80, 40)" opacity="0.92"/>
<ellipse cx="1633.8" cy="417.4" rx="9.9" ry="5.3" fill="rgb(139, 102, 43)" opacity="0.92"/>
<ellipse cx="1655.7" cy="408.9" rx="9.9" ry="5.3" fill="rgb(134, 117, 48)" opacity="0.92"/>
<ellipse cx="1677.6" cy="400.4" rx="9.9" ry="5.3" fill="rgb(122, 123, 58)" opacity="0.92"/>
<ellipse cx="1699.5" cy="391.9" rx="9.9" ry="5.3" fill="rgb(111, 122, 70)" opacity="0.92"/>
<ellipse cx="1721.4" cy="383.4" rx="9.9" ry="5.3" fill="rgb(104, 120, 80)" opacity="0.92"/>
<ellipse cx="1743.3" cy="374.9" rx="9.9" ry="5.3" fill="rgb(105, 118, 79)" opacity="0.92"/>
<ellipse cx="1586.6" cy="455.2" rx="9.9" ry="5.3" fill="rgb(142, 62, 40)" opacity="0.92"/>
<ellipse cx="1630.4" cy="438.2" rx="9.9" ry="5.3" fill="rgb(138, 108, 44)" opacity="0.92"/>
<ellipse cx="1674.2" cy="421.2" rx="9.9" ry="5.3" fill="rgb(117, 124, 63)" opacity="0.92"/>
<ellipse cx="1718.0" cy="404.2" rx="9.9" ry="5.3" fill="rgb(104, 119, 80)" opacity="0.92"/>
<ellipse cx="1761.8" cy="387.2" rx="9.9" ry="5.3" fill="rgb(110, 113, 76)" opacity="0.92"/>
<ellipse cx="1605.1" cy="467.5" rx="9.9" ry="5.3" fill="rgb(140, 94, 41)" opacity="0.92"/>
<ellipse cx="1627.0" cy="459.0" rx="9.9" ry="5.3" fill="rgb(137, 112, 46)" opacity="0.92"/>
<ellipse cx="1648.9" cy="450.5" rx="9.9" ry="5.3" fill="rgb(129, 122, 53)" opacity="0.92"/>
<ellipse cx="1670.8" cy="442.0" rx="9.9" ry="5.3" fill="rgb(114, 123, 66)" opacity="0.92"/>
<ellipse cx="1692.7" cy="433.5" rx="9.9" ry="5.3" fill="rgb(106, 121, 77)" opacity="0.92"/>
<ellipse cx="1714.6" cy="425.0" rx="9.9" ry="5.3" fill="rgb(105, 119, 79)" opacity="0.92"/>
<ellipse cx="1736.5" cy="416.5" rx="9.9" ry="5.3" fill="rgb(106, 117, 78)" opacity="0.92"/>
<ellipse cx="1758.4" cy="408.0" rx="9.9" ry="5.3" fill="rgb(113, 111, 75)" opacity="0.92"/>
<ellipse cx="1780.3" cy="399.5" rx="9.9" ry="5.3" fill="rgb(124, 105, 71)" opacity="0.92"/>
<ellipse cx="1623.6" cy="479.8" rx="9.9" ry="5.3" fill="rgb(135, 116, 48)" opacity="0.92"/>
<ellipse cx="1667.4" cy="462.8" rx="9.9" ry="5.3" fill="rgb(111, 123, 69)" opacity="0.92"/>
<ellipse cx="1711.2" cy="445.8" rx="9.9" ry="5.3" fill="rgb(105, 118, 79)" opacity="0.92"/>
<ellipse cx="1755.0" cy="428.8" rx="9.9" ry="5.3" fill="rgb(117, 109, 74)" opacity="0.92"/>
<ellipse cx="1798.8" cy="411.8" rx="9.9" ry="5.3" fill="rgb(138, 96, 62)" opacity="0.92"/>
<ellipse cx="1642.1" cy="492.1" rx="9.9" ry="5.3" fill="rgb(118, 124, 61)" opacity="0.92"/>
<ellipse cx="1664.0" cy="483.6" rx="9.9" ry="5.3" fill="rgb(109, 122, 73)" opacity="0.92"/>
<ellipse cx="1685.9" cy="475.1" rx="9.9" ry="5.3" fill="rgb(104, 119, 80)" opacity="0.92"/>
<ellipse cx="1707.8" cy="466.6" rx="9.9" ry="5.3" fill="rgb(105, 117, 79)" opacity="0.92"/>
<ellipse cx="1729.7" cy="458.1" rx="9.9" ry="5.3" fill="rgb(109, 114, 77)" opacity="0.92"/>
<ellipse cx="1751.6" cy="449.6" rx="9.9" ry="5.3" fill="rgb(120, 107, 73)" opacity="0.92"/>
<ellipse cx="1773.5" cy="441.1" rx="9.9" ry="5.3" fill="rgb(131, 101, 67)" opacity="0.92"/>
<ellipse cx="1795.4" cy="432.6" rx="9.9" ry="5.3" fill="rgb(138, 96, 62)" opacity="0.92"/>
<ellipse cx="1817.3" cy="424.1" rx="9.9" ry="5.3" fill="rgb(139, 96, 61)" opacity="0.92"/>
<ellipse cx="1660.6" cy="504.4" rx="9.9" ry="5.3" fill="rgb(107, 121, 76)" opacity="0.92"/>
<ellipse cx="1704.4" cy="487.4" rx="9.9" ry="5.3" fill="rgb(106, 117, 78)" opacity="0.92"/>
<ellipse cx="1748.2" cy="470.4" rx="9.9" ry="5.3" fill="rgb(123, 105, 71)" opacity="0.92"/>
<ellipse cx="1792.0" cy="453.4" rx="9.9" ry="5.3" fill="rgb(138, 96, 62)" opacity="0.92"/>
<ellipse cx="1835.8" cy="436.4" rx="9.9" ry="5.3" fill="rgb(139, 95, 61)" opacity="0.92"/>
<ellipse cx="1679.1" cy="516.7" rx="9.9" ry="5.3" fill="rgb(105, 118, 79)" opacity="0.92"/>
<ellipse cx="1701.0" cy="508.2" rx="9.9" ry="5.3" fill="rgb(106, 116, 78)" opacity="0.92"/>
<ellipse cx="1722.9" cy="499.7" rx="9.9" ry="5.3" fill="rgb(116, 110, 74)" opacity="0.92"/>
<ellipse cx="1744.8" cy="491.2" rx="9.9" ry="5.3" fill="rgb(126, 103, 69)" opacity="0.92"/>
<ellipse cx="1766.7" cy="482.7" rx="9.9" ry="5.3" fill="rgb(137, 97, 63)" opacity="0.92"/>
<ellipse cx="1788.6" cy="474.2" rx="9.9" ry="5.3" fill="rgb(139, 96, 61)" opacity="0.92"/>
<ellipse cx="1810.5" cy="465.7" rx="9.9" ry="5.3" fill="rgb(139, 95, 61)" opacity="0.92"/>
<ellipse cx="1832.4" cy="457.2" rx="9.9" ry="5.3" fill="rgb(140, 95, 60)" opacity="0.92"/>
<ellipse cx="1854.3" cy="448.7" rx="9.9" ry="5.3" fill="rgb(140, 95, 60)" opacity="0.92"/>
<ellipse cx="1759" cy="388.5" rx="7.5" ry="4.1" fill="none" stroke="#a08040" stroke-width="1.2" opacity="0.8"/><path d="M1751.5,390.0 C1755.7,387.6 1757.5,374.4 1759,366.0 C1760.5,374.4 1762.3,387.6 1766.5,390.0 Z" fill="#3f48b8"/><path d="M1757.8,374.4 L1759,366.0 L1759.5,375.6 Z" fill="#6a8ae8" opacity="0.7"/>
<ellipse cx="1740" cy="416.5" rx="6.5" ry="3.5" fill="none" stroke="#a08040" stroke-width="1.2" opacity="0.8"/><path d="M1733.5,418.0 C1737.1,416.9 1738.7,410.9 1740,407.0 C1741.3,410.9 1742.9,416.9 1746.5,418.0 Z" fill="#3f48b8"/><path d="M1739.0,410.9 L1740,407.0 L1740.4,411.4 Z" fill="#6a8ae8" opacity="0.7"/>
<ellipse cx="1815" cy="421.5" rx="6.5" ry="3.5" fill="none" stroke="#a08040" stroke-width="1.2" opacity="0.8"/><path d="M1808.5,423.0 C1812.1,421.7 1813.7,414.6 1815,410.0 C1816.3,414.6 1817.9,421.7 1821.5,423.0 Z" fill="#3f48b8"/><path d="M1814.0,414.6 L1815,410.0 L1815.4,415.2 Z" fill="#6a8ae8" opacity="0.7"/>
<ellipse cx="1782" cy="402.0" rx="15.0" ry="7.0" fill="#4046b8"/>
<ellipse cx="1782" cy="400.0" rx="9.0" ry="5.4" fill="#4a6ad8"/>
<path d="M1768.5,403.0 C1775.2,395.5 1777.5,378.4 1778.6,357.5 L1780.7,312.0 L1782,310.0 L1783.3,312.0 L1785.4,357.5 C1786.5,378.4 1788.8,395.5 1795.5,403.0 Z" fill="url(#jet)"/>
<polygon points="797.7,667.0 1053.2,567.5 1247.2,697.0 996.7,798.0" fill="#2d1839"/>
<ellipse cx="862.8" cy="665.8" rx="9.9" ry="5.3" fill="rgb(140, 42, 38)" opacity="0.92"/>
<ellipse cx="884.7" cy="657.3" rx="9.9" ry="5.3" fill="rgb(140, 43, 38)" opacity="0.92"/>
<ellipse cx="906.6" cy="648.8" rx="9.9" ry="5.3" fill="rgb(140, 43, 38)" opacity="0.92"/>
<ellipse cx="928.5" cy="640.3" rx="9.9" ry="5.3" fill="rgb(140, 44, 38)" opacity="0.92"/>
<ellipse cx="950.4" cy="631.8" rx="9.9" ry="5.3" fill="rgb(142, 64, 40)" opacity="0.92"/>
<ellipse cx="972.3" cy="623.3" rx="9.9" ry="5.3" fill="rgb(140, 90, 40)" opacity="0.92"/>
<ellipse cx="994.2" cy="614.8" rx="9.9" ry="5.3" fill="rgb(138, 110, 45)" opacity="0.92"/>
<ellipse cx="1016.1" cy="606.3" rx="9.9" ry="5.3" fill="rgb(132, 122, 50)" opacity="0.92"/>
<ellipse cx="1038.0" cy="597.8" rx="9.9" ry="5.3" fill="rgb(115, 124, 64)" opacity="0.92"/>
<ellipse cx="881.3" cy="678.1" rx="9.9" ry="5.3" fill="rgb(140, 43, 38)" opacity="0.92"/>
<ellipse cx="925.1" cy="661.1" rx="9.9" ry="5.3" fill="rgb(140, 46, 38)" opacity="0.92"/>
<ellipse cx="968.9" cy="644.1" rx="9.9" ry="5.3" fill="rgb(139, 96, 42)" opacity="0.92"/>
<ellipse cx="1012.7" cy="627.1" rx="9.9" ry="5.3" fill="rgb(127, 123, 54)" opacity="0.92"/>
<ellipse cx="1056.5" cy="610.1" rx="9.9" ry="5.3" fill="rgb(105, 121, 78)" opacity="0.92"/>
<ellipse cx="899.8" cy="690.4" rx="9.9" ry="5.3" fill="rgb(140, 44, 38)" opacity="0.92"/>
<ellipse cx="921.7" cy="681.9" rx="9.9" ry="5.3" fill="rgb(141, 54, 39)" opacity="0.92"/>
<ellipse cx="943.6" cy="673.4" rx="9.9" ry="5.3" fill="rgb(141, 80, 40)" opacity="0.92"/>
<ellipse cx="965.5" cy="664.9" rx="9.9" ry="5.3" fill="rgb(139, 102, 43)" opacity="0.92"/>
<ellipse cx="987.4" cy="656.4" rx="9.9" ry="5.3" fill="rgb(134, 117, 48)" opacity="0.92"/>
<ellipse cx="1009.3" cy="647.9" rx="9.9" ry="5.3" fill="rgb(122, 123, 58)" opacity="0.92"/>
<ellipse cx="1031.2" cy="639.4" rx="9.9" ry="5.3" fill="rgb(111, 122, 70)" opacity="0.92"/>
<ellipse cx="1053.1" cy="630.9" rx="9.9" ry="5.3" fill="rgb(104, 120, 80)" opacity="0.92"/>
<ellipse cx="1075.0" cy="622.4" rx="9.9" ry="5.3" fill="rgb(105, 118, 79)" opacity="0.92"/>
<ellipse cx="918.3" cy="702.7" rx="9.9" ry="5.3" fill="rgb(142, 62, 40)" opacity="0.92"/>
<ellipse cx="962.1" cy="685.7" rx="9.9" ry="5.3" fill="rgb(138, 108, 44)" opacity="0.92"/>
<ellipse cx="1005.9" cy="668.7" rx="9.9" ry="5.3" fill="rgb(117, 124, 63)" opacity="0.92"/>
<ellipse cx="1049.7" cy="651.7" rx="9.9" ry="5.3" fill="rgb(104, 119, 80)" opacity="0.92"/>
<ellipse cx="1093.5" cy="634.7" rx="9.9" ry="5.3" fill="rgb(110, 113, 76)" opacity="0.92"/>
<ellipse cx="936.8" cy="715.0" rx="9.9" ry="5.3" fill="rgb(140, 94, 41)" opacity="0.92"/>
<ellipse cx="958.7" cy="706.5" rx="9.9" ry="5.3" fill="rgb(137, 112, 46)" opacity="0.92"/>
<ellipse cx="980.6" cy="698.0" rx="9.9" ry="5.3" fill="rgb(129, 122, 53)" opacity="0.92"/>
<ellipse cx="1002.5" cy="689.5" rx="9.9" ry="5.3" fill="rgb(114, 123, 66)" opacity="0.92"/>
<ellipse cx="1024.4" cy="681.0" rx="9.9" ry="5.3" fill="rgb(106, 121, 77)" opacity="0.92"/>
<ellipse cx="1046.3" cy="672.5" rx="9.9" ry="5.3" fill="rgb(105, 119, 79)" opacity="0.92"/>
<ellipse cx="1068.2" cy="664.0" rx="9.9" ry="5.3" fill="rgb(106, 117, 78)" opacity="0.92"/>
<ellipse cx="1090.1" cy="655.5" rx="9.9" ry="5.3" fill="rgb(113, 111, 75)" opacity="0.92"/>
<ellipse cx="1112.0" cy="647.0" rx="9.9" ry="5.3" fill="rgb(124, 105, 71)" opacity="0.92"/>
<ellipse cx="955.3" cy="727.3" rx="9.9" ry="5.3" fill="rgb(135, 116, 48)" opacity="0.92"/>
<ellipse cx="999.1" cy="710.3" rx="9.9" ry="5.3" fill="rgb(111, 123, 69)" opacity="0.92"/>
<ellipse cx="1042.9" cy="693.3" rx="9.9" ry="5.3" fill="rgb(105, 118, 79)" opacity="0.92"/>
<ellipse cx="1086.7" cy="676.3" rx="9.9" ry="5.3" fill="rgb(117, 109, 74)" opacity="0.92"/>
<ellipse cx="1130.5" cy="659.3" rx="9.9" ry="5.3" fill="rgb(138, 96, 62)" opacity="0.92"/>
<ellipse cx="973.8" cy="739.6" rx="9.9" ry="5.3" fill="rgb(118, 124, 61)" opacity="0.92"/>
<ellipse cx="995.7" cy="731.1" rx="9.9" ry="5.3" fill="rgb(109, 122, 73)" opacity="0.92"/>
<ellipse cx="1017.6" cy="722.6" rx="9.9" ry="5.3" fill="rgb(104, 119, 80)" opacity="0.92"/>
<ellipse cx="1039.5" cy="714.1" rx="9.9" ry="5.3" fill="rgb(105, 117, 79)" opacity="0.92"/>
<ellipse cx="1061.4" cy="705.6" rx="9.9" ry="5.3" fill="rgb(109, 114, 77)" opacity="0.92"/>
<ellipse cx="1083.3" cy="697.1" rx="9.9" ry="5.3" fill="rgb(120, 107, 73)" opacity="0.92"/>
<ellipse cx="1105.2" cy="688.6" rx="9.9" ry="5.3" fill="rgb(131, 101, 67)" opacity="0.92"/>
<ellipse cx="1127.1" cy="680.1" rx="9.9" ry="5.3" fill="rgb(138, 96, 62)" opacity="0.92"/>
<ellipse cx="1149.0" cy="671.6" rx="9.9" ry="5.3" fill="rgb(139, 96, 61)" opacity="0.92"/>
<ellipse cx="992.3" cy="751.9" rx="9.9" ry="5.3" fill="rgb(107, 121, 76)" opacity="0.92"/>
<ellipse cx="1036.1" cy="734.9" rx="9.9" ry="5.3" fill="rgb(106, 117, 78)" opacity="0.92"/>
<ellipse cx="1079.9" cy="717.9" rx="9.9" ry="5.3" fill="rgb(123, 105, 71)" opacity="0.92"/>
<ellipse cx="1123.7" cy="700.9" rx="9.9" ry="5.3" fill="rgb(138, 96, 62)" opacity="0.92"/>
<ellipse cx="1167.5" cy="683.9" rx="9.9" ry="5.3" fill="rgb(139, 95, 61)" opacity="0.92"/>
<ellipse cx="1010.8" cy="764.2" rx="9.9" ry="5.3" fill="rgb(105, 118, 79)" opacity="0.92"/>
<ellipse cx="1032.7" cy="755.7" rx="9.9" ry="5.3" fill="rgb(106, 116, 78)" opacity="0.92"/>
<ellipse cx="1054.6" cy="747.2" rx="9.9" ry="5.3" fill="rgb(116, 110, 74)" opacity="0.92"/>
<ellipse cx="1076.5" cy="738.7" rx="9.9" ry="5.3" fill="rgb(126, 103, 69)" opacity="0.92"/>
<ellipse cx="1098.4" cy="730.2" rx="9.9" ry="5.3" fill="rgb(137, 97, 63)" opacity="0.92"/>
<ellipse cx="1120.3" cy="721.7" rx="9.9" ry="5.3" fill="rgb(139, 96, 61)" opacity="0.92"/>
<ellipse cx="1142.2" cy="713.2" rx="9.9" ry="5.3" fill="rgb(139, 95, 61)" opacity="0.92"/>
<ellipse cx="1164.1" cy="704.7" rx="9.9" ry="5.3" fill="rgb(140, 95, 60)" opacity="0.92"/>
<ellipse cx="1186.0" cy="696.2" rx="9.9" ry="5.3" fill="rgb(140, 95, 60)" opacity="0.92"/>
<ellipse cx="1062.4" cy="706.5" rx="6.0" ry="3.2" fill="none" stroke="#a08040" stroke-width="1.2" opacity="0.8"/><path d="M1056.4,708.0 C1059.8,707.0 1061.2,701.5 1062.4,698.0 C1063.6,701.5 1065.0,707.0 1068.4,708.0 Z" fill="#3f48b8"/><path d="M1061.4,701.5 L1062.4,698.0 L1062.8,702.0 Z" fill="#6a8ae8" opacity="0.7"/>
<ellipse cx="1017.5" cy="722.5" rx="6.0" ry="3.2" fill="none" stroke="#a08040" stroke-width="1.2" opacity="0.8"/><path d="M1011.5,724.0 C1014.9,723.2 1016.3,718.8 1017.5,716.0 C1018.7,718.8 1020.1,723.2 1023.5,724.0 Z" fill="#3f48b8"/><path d="M1016.5,718.8 L1017.5,716.0 L1017.9,719.2 Z" fill="#6a8ae8" opacity="0.7"/>
<ellipse cx="1165" cy="700.5" rx="6.0" ry="3.2" fill="none" stroke="#a08040" stroke-width="1.2" opacity="0.8"/><path d="M1159.0,702.0 C1162.4,701.4 1163.8,698.1 1165,696.0 C1166.2,698.1 1167.6,701.4 1171.0,702.0 Z" fill="#3f48b8"/><path d="M1164.0,698.1 L1165,696.0 L1165.4,698.4 Z" fill="#6a8ae8" opacity="0.7"/>
<ellipse cx="1186" cy="692.5" rx="6.0" ry="3.2" fill="none" stroke="#a08040" stroke-width="1.2" opacity="0.8"/><path d="M1180.0,694.0 C1183.4,693.4 1184.8,690.1 1186,688.0 C1187.2,690.1 1188.6,693.4 1192.0,694.0 Z" fill="#3f48b8"/><path d="M1185.0,690.1 L1186,688.0 L1186.4,690.4 Z" fill="#6a8ae8" opacity="0.7"/>
<ellipse cx="1121.8" cy="721.5" rx="6.5" ry="3.5" fill="none" stroke="#a08040" stroke-width="1.2" opacity="0.8"/><path d="M1115.3,723.0 C1118.9,721.2 1120.5,711.3 1121.8,705.0 C1123.1,711.3 1124.7,721.2 1128.3,723.0 Z" fill="#3f48b8"/><path d="M1120.8,711.3 L1121.8,705.0 L1122.2,712.2 Z" fill="#6a8ae8" opacity="0.7"/>
<ellipse cx="1075" cy="737.5" rx="7.0" ry="3.8" fill="none" stroke="#a08040" stroke-width="1.2" opacity="0.8"/><path d="M1068.0,739.0 C1071.9,737.4 1073.6,728.6 1075,723.0 C1076.4,728.6 1078.1,737.4 1082.0,739.0 Z" fill="#3f48b8"/><path d="M1073.9,728.6 L1075,723.0 L1075.4,729.4 Z" fill="#6a8ae8" opacity="0.7"/>
<ellipse cx="1052.8" cy="747.5" rx="7.5" ry="4.1" fill="none" stroke="#a08040" stroke-width="1.2" opacity="0.8"/><path d="M1045.3,749.0 C1049.5,747.4 1051.3,738.6 1052.8,733.0 C1054.3,738.6 1056.1,747.4 1060.3,749.0 Z" fill="#3f48b8"/><path d="M1051.6,738.6 L1052.8,733.0 L1053.2,739.4 Z" fill="#6a8ae8" opacity="0.7"/>
<ellipse cx="1012.7" cy="766.5" rx="7.5" ry="4.1" fill="none" stroke="#a08040" stroke-width="1.2" opacity="0.8"/><path d="M1005.2,768.0 C1009.4,766.2 1011.2,756.3 1012.7,750.0 C1014.2,756.3 1016.0,766.2 1020.2,768.0 Z" fill="#3f48b8"/><path d="M1011.5,756.3 L1012.7,750.0 L1013.2,757.2 Z" fill="#6a8ae8" opacity="0.7"/>
<ellipse cx="1097.7" cy="728.0" rx="15.0" ry="6.0" fill="#4046b8"/>
<ellipse cx="1097.7" cy="726.0" rx="9.0" ry="4.6" fill="#4a6ad8"/>
<path d="M1084.2,729.0 C1091.0,721.6 1093.2,704.7 1094.3,684.0 L1096.4,639.0 L1097.7,637.0 L1099.0,639.0 L1101.1,684.0 C1102.2,704.7 1104.5,721.6 1111.2,729.0 Z" fill="url(#jet)"/>
<polygon points="1275.7,667.0 1531.2,567.5 1725.2,697.0 1474.7,798.0" fill="#2d1839"/>
<ellipse cx="1340.8" cy="665.8" rx="9.9" ry="5.3" fill="rgb(140, 42, 38)" opacity="0.92"/>
<ellipse cx="1362.7" cy="657.3" rx="9.9" ry="5.3" fill="rgb(140, 43, 38)" opacity="0.92"/>
<ellipse cx="1384.6" cy="648.8" rx="9.9" ry="5.3" fill="rgb(140, 43, 38)" opacity="0.92"/>
<ellipse cx="1406.5" cy="640.3" rx="9.9" ry="5.3" fill="rgb(140, 44, 38)" opacity="0.92"/>
<ellipse cx="1428.4" cy="631.8" rx="9.9" ry="5.3" fill="rgb(142, 64, 40)" opacity="0.92"/>
<ellipse cx="1450.3" cy="623.3" rx="9.9" ry="5.3" fill="rgb(140, 90, 40)" opacity="0.92"/>
<ellipse cx="1472.2" cy="614.8" rx="9.9" ry="5.3" fill="rgb(138, 110, 45)" opacity="0.92"/>
<ellipse cx="1494.1" cy="606.3" rx="9.9" ry="5.3" fill="rgb(132, 122, 50)" opacity="0.92"/>
<ellipse cx="1516.0" cy="597.8" rx="9.9" ry="5.3" fill="rgb(115, 124, 64)" opacity="0.92"/>
<ellipse cx="1359.3" cy="678.1" rx="9.9" ry="5.3" fill="rgb(140, 43, 38)" opacity="0.92"/>
<ellipse cx="1403.1" cy="661.1" rx="9.9" ry="5.3" fill="rgb(140, 46, 38)" opacity="0.92"/>
<ellipse cx="1446.9" cy="644.1" rx="9.9" ry="5.3" fill="rgb(139, 96, 42)" opacity="0.92"/>
<ellipse cx="1490.7" cy="627.1" rx="9.9" ry="5.3" fill="rgb(127, 123, 54)" opacity="0.92"/>
<ellipse cx="1534.5" cy="610.1" rx="9.9" ry="5.3" fill="rgb(105, 121, 78)" opacity="0.92"/>
<ellipse cx="1377.8" cy="690.4" rx="9.9" ry="5.3" fill="rgb(140, 44, 38)" opacity="0.92"/>
<ellipse cx="1399.7" cy="681.9" rx="9.9" ry="5.3" fill="rgb(141, 54, 39)" opacity="0.92"/>
<ellipse cx="1421.6" cy="673.4" rx="9.9" ry="5.3" fill="rgb(141, 80, 40)" opacity="0.92"/>
<ellipse cx="1443.5" cy="664.9" rx="9.9" ry="5.3" fill="rgb(139, 102, 43)" opacity="0.92"/>
<ellipse cx="1465.4" cy="656.4" rx="9.9" ry="5.3" fill="rgb(134, 117, 48)" opacity="0.92"/>
<ellipse cx="1487.3" cy="647.9" rx="9.9" ry="5.3" fill="rgb(122, 123, 58)" opacity="0.92"/>
<ellipse cx="1509.2" cy="639.4" rx="9.9" ry="5.3" fill="rgb(111, 122, 70)" opacity="0.92"/>
<ellipse cx="1531.1" cy="630.9" rx="9.9" ry="5.3" fill="rgb(104, 120, 80)" opacity="0.92"/>
<ellipse cx="1553.0" cy="622.4" rx="9.9" ry="5.3" fill="rgb(105, 118, 79)" opacity="0.92"/>
<ellipse cx="1396.3" cy="702.7" rx="9.9" ry="5.3" fill="rgb(142, 62, 40)" opacity="0.92"/>
<ellipse cx="1440.1" cy="685.7" rx="9.9" ry="5.3" fill="rgb(138, 108, 44)" opacity="0.92"/>
<ellipse cx="1483.9" cy="668.7" rx="9.9" ry="5.3" fill="rgb(117, 124, 63)" opacity="0.92"/>
<ellipse cx="1527.7" cy="651.7" rx="9.9" ry="5.3" fill="rgb(104, 119, 80)" opacity="0.92"/>
<ellipse cx="1571.5" cy="634.7" rx="9.9" ry="5.3" fill="rgb(110, 113, 76)" opacity="0.92"/>
<ellipse cx="1414.8" cy="715.0" rx="9.9" ry="5.3" fill="rgb(140, 94, 41)" opacity="0.92"/>
<ellipse cx="1436.7" cy="706.5" rx="9.9" ry="5.3" fill="rgb(137, 112, 46)" opacity="0.92"/>
<ellipse cx="1458.6" cy="698.0" rx="9.9" ry="5.3" fill="rgb(129, 122, 53)" opacity="0.92"/>
<ellipse cx="1480.5" cy="689.5" rx="9.9" ry="5.3" fill="rgb(114, 123, 66)" opacity="0.92"/>
<ellipse cx="1502.4" cy="681.0" rx="9.9" ry="5.3" fill="rgb(106, 121, 77)" opacity="0.92"/>
<ellipse cx="1524.3" cy="672.5" rx="9.9" ry="5.3" fill="rgb(105, 119, 79)" opacity="0.92"/>
<ellipse cx="1546.2" cy="664.0" rx="9.9" ry="5.3" fill="rgb(106, 117, 78)" opacity="0.92"/>
<ellipse cx="1568.1" cy="655.5" rx="9.9" ry="5.3" fill="rgb(113, 111, 75)" opacity="0.92"/>
<ellipse cx="1590.0" cy="647.0" rx="9.9" ry="5.3" fill="rgb(124, 105, 71)" opacity="0.92"/>
<ellipse cx="1433.3" cy="727.3" rx="9.9" ry="5.3" fill="rgb(135, 116, 48)" opacity="0.92"/>
<ellipse cx="1477.1" cy="710.3" rx="9.9" ry="5.3" fill="rgb(111, 123, 69)" opacity="0.92"/>
<ellipse cx="1520.9" cy="693.3" rx="9.9" ry="5.3" fill="rgb(105, 118, 79)" opacity="0.92"/>
<ellipse cx="1564.7" cy="676.3" rx="9.9" ry="5.3" fill="rgb(117, 109, 74)" opacity="0.92"/>
<ellipse cx="1608.5" cy="659.3" rx="9.9" ry="5.3" fill="rgb(138, 96, 62)" opacity="0.92"/>
<ellipse cx="1451.8" cy="739.6" rx="9.9" ry="5.3" fill="rgb(118, 124, 61)" opacity="0.92"/>
<ellipse cx="1473.7" cy="731.1" rx="9.9" ry="5.3" fill="rgb(109, 122, 73)" opacity="0.92"/>
<ellipse cx="1495.6" cy="722.6" rx="9.9" ry="5.3" fill="rgb(104, 119, 80)" opacity="0.92"/>
<ellipse cx="1517.5" cy="714.1" rx="9.9" ry="5.3" fill="rgb(105, 117, 79)" opacity="0.92"/>
<ellipse cx="1539.4" cy="705.6" rx="9.9" ry="5.3" fill="rgb(109, 114, 77)" opacity="0.92"/>
<ellipse cx="1561.3" cy="697.1" rx="9.9" ry="5.3" fill="rgb(120, 107, 73)" opacity="0.92"/>
<ellipse cx="1583.2" cy="688.6" rx="9.9" ry="5.3" fill="rgb(131, 101, 67)" opacity="0.92"/>
<ellipse cx="1605.1" cy="680.1" rx="9.9" ry="5.3" fill="rgb(138, 96, 62)" opacity="0.92"/>
<ellipse cx="1627.0" cy="671.6" rx="9.9" ry="5.3" fill="rgb(139, 96, 61)" opacity="0.92"/>
<ellipse cx="1470.3" cy="751.9" rx="9.9" ry="5.3" fill="rgb(107, 121, 76)" opacity="0.92"/>
<ellipse cx="1514.1" cy="734.9" rx="9.9" ry="5.3" fill="rgb(106, 117, 78)" opacity="0.92"/>
<ellipse cx="1557.9" cy="717.9" rx="9.9" ry="5.3" fill="rgb(123, 105, 71)" opacity="0.92"/>
<ellipse cx="1601.7" cy="700.9" rx="9.9" ry="5.3" fill="rgb(138, 96, 62)" opacity="0.92"/>
<ellipse cx="1645.5" cy="683.9" rx="9.9" ry="5.3" fill="rgb(139, 95, 61)" opacity="0.92"/>
<ellipse cx="1488.8" cy="764.2" rx="9.9" ry="5.3" fill="rgb(105, 118, 79)" opacity="0.92"/>
<ellipse cx="1510.7" cy="755.7" rx="9.9" ry="5.3" fill="rgb(106, 116, 78)" opacity="0.92"/>
<ellipse cx="1532.6" cy="747.2" rx="9.9" ry="5.3" fill="rgb(116, 110, 74)" opacity="0.92"/>
<ellipse cx="1554.5" cy="738.7" rx="9.9" ry="5.3" fill="rgb(126, 103, 69)" opacity="0.92"/>
<ellipse cx="1576.4" cy="730.2" rx="9.9" ry="5.3" fill="rgb(137, 97, 63)" opacity="0.92"/>
<ellipse cx="1598.3" cy="721.7" rx="9.9" ry="5.3" fill="rgb(139, 96, 61)" opacity="0.92"/>
<ellipse cx="1620.2" cy="713.2" rx="9.9" ry="5.3" fill="rgb(139, 95, 61)" opacity="0.92"/>
<ellipse cx="1642.1" cy="704.7" rx="9.9" ry="5.3" fill="rgb(140, 95, 60)" opacity="0.92"/>
<ellipse cx="1664.0" cy="696.2" rx="9.9" ry="5.3" fill="rgb(140, 95, 60)" opacity="0.92"/>
<ellipse cx="1497.5" cy="720.5" rx="6.0" ry="3.2" fill="none" stroke="#a08040" stroke-width="1.2" opacity="0.8"/><path d="M1491.5,722.0 C1494.9,721.4 1496.3,718.1 1497.5,716.0 C1498.7,718.1 1500.1,721.4 1503.5,722.0 Z" fill="#3f48b8"/><path d="M1496.5,718.1 L1497.5,716.0 L1497.9,718.4 Z" fill="#6a8ae8" opacity="0.7"/>
<ellipse cx="1600" cy="697.5" rx="6.0" ry="3.2" fill="none" stroke="#a08040" stroke-width="1.2" opacity="0.8"/><path d="M1594.0,699.0 C1597.4,698.5 1598.8,695.8 1600,694.0 C1601.2,695.8 1602.6,698.5 1606.0,699.0 Z" fill="#3f48b8"/><path d="M1599.0,695.8 L1600,694.0 L1600.4,696.0 Z" fill="#6a8ae8" opacity="0.7"/>
<ellipse cx="1581" cy="729.5" rx="9.0" ry="4.9" fill="none" stroke="#a08040" stroke-width="1.2" opacity="0.8"/><path d="M1572.0,731.0 C1577.0,729.2 1579.2,719.3 1581,713.0 C1582.8,719.3 1585.0,729.2 1590.0,731.0 Z" fill="#3f48b8"/><path d="M1579.6,719.3 L1581,713.0 L1581.5,720.2 Z" fill="#6a8ae8" opacity="0.7"/>
<ellipse cx="1640" cy="707.5" rx="8.0" ry="4.3" fill="none" stroke="#a08040" stroke-width="1.2" opacity="0.8"/><path d="M1632.0,709.0 C1636.5,706.5 1638.4,692.8 1640,684.0 C1641.6,692.8 1643.5,706.5 1648.0,709.0 Z" fill="#3f48b8"/><path d="M1638.7,692.8 L1640,684.0 L1640.5,694.0 Z" fill="#6a8ae8" opacity="0.7"/>
<ellipse cx="1662" cy="699.0" rx="21.0" ry="8.0" fill="#4046b8"/>
<ellipse cx="1662" cy="697.0" rx="12.6" ry="6.2" fill="#4a6ad8"/>
<path d="M1643.1,700.0 C1652.5,693.0 1657.5,676.8 1658.6,657.0 L1660.7,614.0 L1662,612.0 L1663.3,614.0 L1665.4,657.0 C1666.5,676.8 1671.5,693.0 1680.9,700.0 Z" fill="url(#jet)"/>
<rect x="1788.6" y="628" width="12.3" height="65" fill="url(#cbar)"/>
<text x="1805.5" y="635.6" class="sans" font-size="16.5" fill="#111" textLength="36" lengthAdjust="spacingAndGlyphs" >Max.</text>
<text x="1805.5" y="701.5" class="serif" font-size="19" fill="#111" >0</text>
<line x1="1381" y1="134.4" x2="1687.5" y2="26.5" stroke="#3d95ee" stroke-width="2" stroke-dasharray="1.5 1.5"/>
<polygon points="1696,23.5 1688.8,30.3 1686.2,22.7" fill="#3d95ee"/>
<line x1="1385" y1="304" x2="1744.0" y2="311.5" stroke="#3d95ee" stroke-width="2" stroke-dasharray="1.5 1.5"/>
<polygon points="1753,311.7 1743.9,315.5 1744.1,307.5" fill="#3d95ee"/>
<line x1="1378" y1="468" x2="1641.9" y2="598.0" stroke="#3d95ee" stroke-width="2" stroke-dasharray="1.5 1.5"/>
<polygon points="1650,602 1640.2,601.6 1643.7,594.4" fill="#3d95ee"/>
<line x1="1196" y1="467" x2="1110.4" y2="620.1" stroke="#3d95ee" stroke-width="2" stroke-dasharray="1.5 1.5"/>
<polygon points="1106,628 1106.9,618.2 1113.9,622.1" fill="#3d95ee"/>
</svg></body></html>
